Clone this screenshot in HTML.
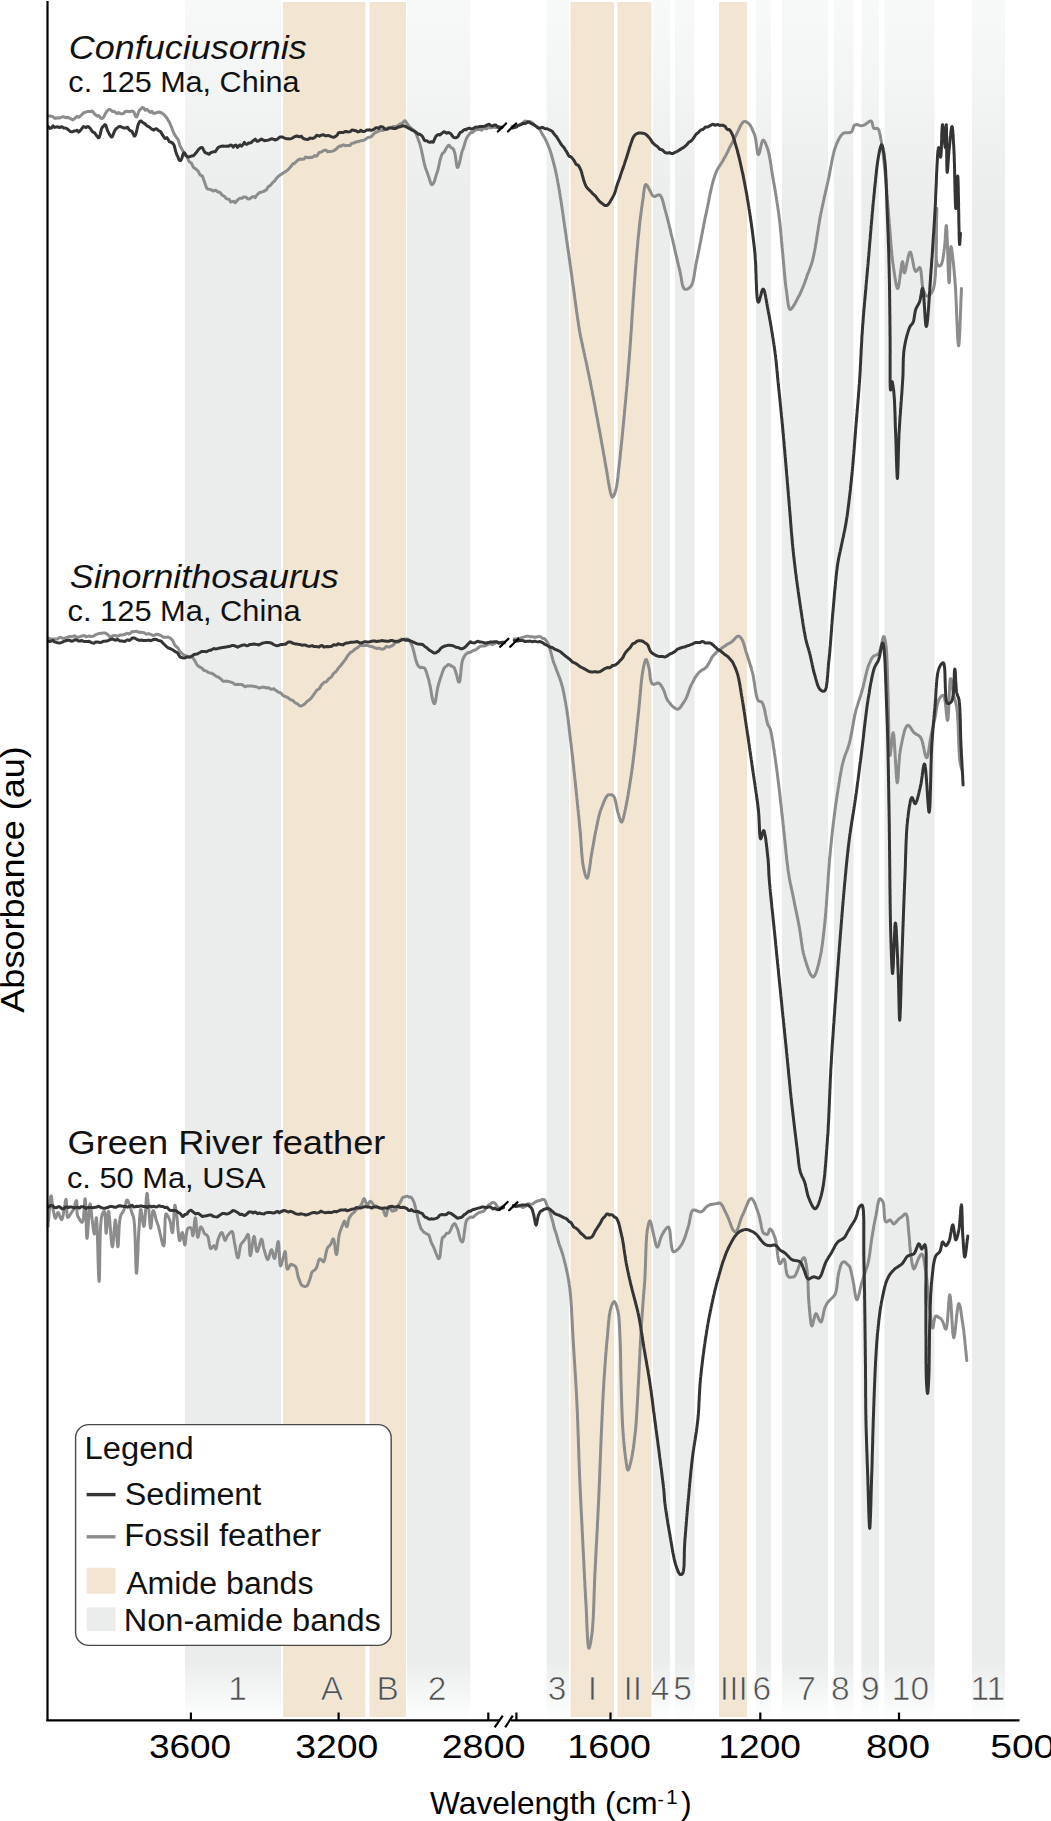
<!DOCTYPE html>
<html><head><meta charset="utf-8"><title>FTIR spectra</title>
<style>
html,body{margin:0;padding:0;background:#fff;}
body{width:1051px;height:1821px;overflow:hidden;position:relative;font-family:"Liberation Sans",sans-serif;}
svg{display:block;position:absolute;left:0;top:0;}
text{font-family:"Liberation Sans",sans-serif;}
</style></head><body>
<svg width="1051" height="1821" viewBox="0 0 1051 1821">
<defs>
<linearGradient id="gb" x1="0" y1="0" x2="0" y2="1821" gradientUnits="userSpaceOnUse">
<stop offset="0" stop-color="#f8f9f9"/>
<stop offset="0.04" stop-color="#f4f5f5"/>
<stop offset="0.115" stop-color="#eaedec"/>
<stop offset="0.912" stop-color="#eaedec"/>
<stop offset="0.94" stop-color="#fbfcfc"/>
<stop offset="0.945" stop-color="#ffffff"/>
</linearGradient>
</defs>

<g id="bands">
<rect x="185.0" y="0" width="96.0" height="1719" fill="url(#gb)"/>
<rect x="407.0" y="0" width="63.3" height="1719" fill="url(#gb)"/>
<rect x="546.5" y="0" width="22.5" height="1719" fill="url(#gb)"/>
<rect x="653.0" y="0" width="17.0" height="1719" fill="url(#gb)"/>
<rect x="675.0" y="0" width="19.5" height="1719" fill="url(#gb)"/>
<rect x="756.0" y="0" width="15.0" height="1719" fill="url(#gb)"/>
<rect x="782.0" y="0" width="46.0" height="1719" fill="url(#gb)"/>
<rect x="834.0" y="0" width="19.5" height="1719" fill="url(#gb)"/>
<rect x="861.5" y="0" width="17.5" height="1719" fill="url(#gb)"/>
<rect x="884.5" y="0" width="50.0" height="1719" fill="url(#gb)"/>
<rect x="972.0" y="0" width="33.0" height="1719" fill="url(#gb)"/>
<rect x="283.0" y="2" width="82.3" height="1715" fill="#f2e6d3"/>
<rect x="369.5" y="2" width="36.5" height="1715" fill="#f2e6d3"/>
<rect x="570.5" y="2" width="43.5" height="1715" fill="#f2e6d3"/>
<rect x="617.5" y="2" width="34.0" height="1715" fill="#f2e6d3"/>
<rect x="719.0" y="2" width="28.0" height="1715" fill="#f2e6d3"/>
</g>
<g fill="#525252" font-size="33.5" text-anchor="middle" stroke="#fff" stroke-width="0.7" stroke-opacity="0.9">
<text x="237.5" y="1700">1</text>
<text x="332.0" y="1700">A</text>
<text x="387.8" y="1700">B</text>
<text x="437.0" y="1700">2</text>
<text x="557.0" y="1700">3</text>
<text x="592.5" y="1700">I</text>
<text x="632.7" y="1700">II</text>
<text x="660.0" y="1700">4</text>
<text x="682.5" y="1700">5</text>
<text x="733.8" y="1700">III</text>
<text x="761.7" y="1700">6</text>
<text x="806.6" y="1700">7</text>
<text x="840.3" y="1700">8</text>
<text x="870.3" y="1700">9</text>
<text x="910.5" y="1700">10</text>
<text x="987.8" y="1700">11</text>
</g>
<g id="curves">
<polyline points="48.3,116.1 49.8,116.0 51.3,116.2 52.8,116.6 54.2,118.0 55.8,118.4 57.3,117.7 59.0,118.0 60.4,117.7 61.9,117.2 63.4,116.7 65.0,117.3 66.6,117.8 68.2,117.3 69.8,118.4 71.4,119.2 72.9,119.9 74.3,118.8 75.7,117.8 77.2,116.2 78.7,117.2 80.0,116.3 81.4,115.0 82.7,113.8 83.9,112.7 85.2,112.3 86.4,111.9 87.9,111.4 89.3,111.5 90.7,111.6 92.1,111.0 93.5,112.4 94.7,114.1 95.9,115.1 97.1,116.1 98.3,115.4 99.5,116.2 100.7,118.2 101.8,118.6 102.9,118.0 103.9,116.7 104.8,114.7 105.8,112.9 106.8,111.4 107.8,110.3 109.0,109.5 110.2,109.5 111.5,110.8 112.8,111.6 114.1,111.3 115.5,112.6 117.0,113.6 118.5,112.6 120.0,113.5 121.7,113.9 123.4,113.5 125.2,111.6 127.0,111.3 128.7,111.5 130.3,111.7 131.7,111.1 132.8,111.2 133.9,111.9 134.6,113.6 135.1,115.2 135.7,116.5 136.3,116.9 136.9,116.5 137.5,115.4 138.0,113.8 138.6,111.9 139.3,110.4 140.1,109.5 141.1,108.9 142.3,107.4 143.7,107.9 145.3,110.3 146.9,109.4 148.6,111.0 150.2,112.4 151.8,111.3 153.4,113.2 155.0,113.3 156.6,112.7 158.2,112.1 159.8,112.2 161.2,112.6 162.5,113.5 163.6,114.2 164.5,115.1 165.3,116.2 166.1,117.1 166.9,118.0 167.6,119.4 168.4,120.6 169.1,121.7 169.9,123.2 170.6,125.1 171.3,126.8 172.0,128.4 172.7,130.4 173.5,132.3 174.2,133.8 174.9,135.0 175.6,136.1 176.3,137.4 177.0,138.3 177.7,139.1 178.4,140.3 179.0,142.4 179.7,144.7 180.4,146.5 181.2,147.9 181.9,149.2 182.7,150.6 183.5,152.2 184.3,153.8 185.1,155.2 186.0,155.8 186.8,156.4 187.7,158.2 188.6,160.4 189.5,162.0 190.4,162.5 191.3,163.0 192.2,164.7 193.2,167.0 194.3,168.1 195.4,168.6 196.5,169.6 197.6,170.6 198.7,172.1 199.7,174.4 200.8,175.5 201.7,175.6 202.5,176.4 203.3,178.3 203.9,180.4 204.6,182.2 205.2,184.0 205.9,186.0 206.5,187.7 207.3,188.8 208.0,189.1 208.9,189.2 210.2,189.7 211.6,189.8 213.1,191.1 214.6,190.5 216.0,190.3 217.2,191.5 218.4,192.2 219.5,192.1 220.7,193.1 221.9,194.9 223.2,195.7 224.5,196.4 226.0,198.4 227.5,199.1 229.1,199.2 230.7,202.1 232.2,201.6 233.7,201.2 235.0,202.7 236.3,201.8 237.5,199.9 238.7,199.1 239.8,198.3 241.0,198.2 242.2,198.3 243.6,196.9 244.9,196.9 246.3,197.5 247.8,198.8 249.3,199.0 250.7,198.1 252.1,197.0 253.6,196.5 255.1,197.7 256.7,195.2 258.2,193.7 259.7,192.5 261.2,192.2 262.5,191.7 263.7,191.4 265.0,190.6 266.3,189.9 267.6,187.7 268.8,186.3 270.0,185.7 271.1,184.7 272.2,183.2 273.1,182.1 274.1,181.5 274.8,180.7 275.5,179.6 276.1,178.8 276.9,177.9 277.9,176.8 279.0,175.7 280.2,174.9 281.6,174.2 283.1,173.0 284.6,172.1 286.0,171.4 287.4,170.2 288.7,169.1 289.8,167.8 290.9,166.6 291.8,165.3 292.6,164.1 293.4,163.5 294.5,163.4 295.6,162.3 296.9,161.0 298.3,159.9 299.7,159.1 301.1,159.2 302.6,159.3 304.0,159.1 305.6,157.0 307.2,157.6 308.8,157.8 310.4,157.3 312.0,157.4 313.5,156.6 314.9,155.5 316.2,156.3 317.6,155.1 318.9,152.7 320.2,152.3 321.6,151.8 323.0,150.9 324.6,150.2 326.2,150.3 327.8,151.9 329.4,151.4 331.1,151.4 332.6,151.1 333.8,150.6 335.0,149.9 336.2,149.1 337.3,148.0 338.4,146.8 339.6,146.1 340.8,146.2 342.0,145.4 343.5,144.8 345.1,145.7 346.8,145.6 348.4,145.6 350.0,145.5 351.6,143.5 353.0,143.1 354.3,143.0 355.7,142.1 357.0,141.6 358.4,141.7 359.7,141.2 361.1,140.7 362.5,140.6 363.8,140.2 365.2,139.5 366.6,138.3 367.9,137.5 369.3,137.3 370.6,136.8 372.0,136.2 373.3,134.3 374.7,133.1 376.0,132.2 377.3,131.8 378.7,131.4 380.1,130.1 381.7,130.2 383.3,130.4 384.9,129.0 386.5,128.3 388.1,128.0 389.7,127.7 391.1,127.3 392.5,126.9 393.9,126.4 395.3,126.5 396.7,126.1 398.0,125.5 399.2,124.7 400.5,123.7 401.7,123.3 402.9,122.6 404.0,121.2 405.1,120.7 406.1,122.2 407.1,123.7 408.1,124.9 409.1,126.2 410.1,127.3 411.0,128.0 412.0,129.0 413.0,129.5 414.0,130.5 414.9,131.9 415.8,133.3 416.4,134.5 416.9,135.8 417.4,137.1 417.9,138.5 418.4,139.9 418.8,141.1 419.2,142.2 419.7,143.4 420.1,144.8 420.6,146.5 421.0,148.1 421.4,149.9 421.8,151.7 422.1,153.4 422.5,155.1 422.9,156.9 423.2,158.6 423.6,160.4 424.0,162.1 424.4,163.9 424.8,165.5 425.2,166.9 425.6,168.2 426.0,169.4 426.5,170.6 427.1,172.3 427.8,174.2 428.4,176.0 429.1,177.9 429.8,180.2 430.5,182.6 431.2,184.2 431.9,184.7 432.5,184.5 433.1,183.8 433.6,182.9 434.2,181.8 434.7,180.4 435.2,178.7 435.7,176.9 436.2,175.1 436.7,173.6 437.2,172.3 437.6,171.0 438.0,169.5 438.4,167.8 438.8,166.0 439.2,164.1 439.5,162.3 439.9,160.6 440.4,159.0 440.9,157.4 441.4,155.7 442.0,154.2 442.9,153.0 443.8,152.5 444.9,151.0 446.0,148.6 447.1,147.0 448.1,145.7 449.1,145.2 450.1,146.5 451.2,147.8 452.2,148.1 453.1,148.7 453.9,150.2 454.4,151.7 454.9,153.5 455.3,155.5 455.6,157.6 455.9,159.8 456.2,162.0 456.5,164.0 456.8,165.7 457.1,167.0 457.5,167.5 457.9,167.2 458.4,166.4 458.8,165.1 459.3,163.5 459.7,161.8 460.2,159.8 460.7,157.4 461.2,155.0 461.7,152.7 462.2,151.1 462.7,149.8 463.2,148.6 463.6,147.2 464.1,145.7 464.6,144.0 465.1,142.4 465.6,140.7 466.2,139.2 466.8,137.8 467.5,136.6 468.2,135.6 469.2,134.4 470.3,133.0 471.5,132.3 472.7,132.4 474.0,131.2 475.3,129.9 476.8,129.7 478.3,129.4 479.9,129.3 481.6,130.2 483.2,128.4 484.8,127.9 486.4,128.9 488.1,127.3 489.7,127.7 491.4,127.7 492.9,127.3 494.3,127.3 496.0,127.5 497.6,127.7 499.0,126.8 500.5,127.0 502.0,127.0" fill="none" stroke="#8c8c8c" stroke-width="3.0" stroke-linejoin="round" stroke-linecap="round"/>
<polyline points="512.0,126.4 513.2,126.3 514.4,126.4 515.5,126.3 516.7,126.0 518.0,125.7 519.1,125.3 520.3,124.7 521.8,123.5 523.3,122.5 524.8,121.1 526.3,121.3 527.6,121.8 529.1,121.4 530.6,121.7 532.1,122.7 533.5,123.9 534.8,125.3 535.9,126.0 536.9,126.8 537.9,127.6 538.8,128.5 539.7,129.6 540.7,131.0 541.4,132.5 542.1,133.9 542.9,135.2 543.6,136.2 544.3,137.3 545.0,138.5 545.7,139.9 546.4,141.4 547.1,142.8 547.7,144.4 548.4,145.9 549.0,147.5 549.5,148.8 550.0,150.2 550.5,151.6 550.9,153.0 551.4,154.5 551.8,156.0 552.2,157.5 552.6,159.0 553.0,160.5 553.4,162.0 553.8,163.5 554.2,165.0 554.6,166.7 555.0,168.3 555.4,170.1 555.8,171.9 556.2,173.8 556.5,175.1 556.8,176.5 557.0,177.8 557.3,179.3 557.6,180.7 557.8,182.2 558.1,183.6 558.4,185.1 558.7,186.6 558.9,188.2 559.2,189.7 559.5,191.3 559.7,192.9 560.0,194.6 560.2,196.2 560.5,197.9 560.8,199.6 561.0,201.3 561.3,202.9 561.5,204.6 561.8,206.4 562.1,208.1 562.3,209.8 562.6,211.5 562.8,213.2 563.1,215.0 563.3,216.7 563.5,218.4 563.8,220.1 564.0,221.9 564.3,223.6 564.5,225.2 564.8,226.9 565.0,228.5 565.2,230.1 565.5,231.7 565.7,233.3 566.0,235.0 566.2,236.6 566.4,238.3 566.7,240.0 566.9,241.7 567.2,243.3 567.4,245.0 567.6,246.6 567.9,248.2 568.1,249.8 568.3,251.4 568.6,252.9 568.8,254.5 569.0,256.0 569.2,257.6 569.4,259.1 569.7,260.7 569.9,262.3 570.1,263.9 570.3,265.5 570.6,267.1 570.8,268.7 571.0,270.3 571.2,272.0 571.4,273.6 571.7,275.3 571.9,276.9 572.1,278.5 572.3,280.2 572.6,281.8 572.8,283.4 573.0,285.0 573.3,286.6 573.5,288.3 573.7,289.9 573.9,291.6 574.2,293.2 574.4,294.9 574.6,296.6 574.8,298.3 575.1,299.9 575.3,301.6 575.5,303.2 575.7,304.9 576.0,306.5 576.2,308.2 576.4,309.8 576.6,311.5 576.9,313.1 577.1,314.7 577.3,316.3 577.6,318.0 577.8,319.6 578.0,321.1 578.3,322.7 578.5,324.3 578.7,325.8 579.0,327.4 579.2,328.9 579.5,330.4 579.7,331.8 580.0,333.3 580.3,335.0 580.6,336.6 581.0,338.2 581.3,339.8 581.6,341.3 582.0,342.8 582.3,344.4 582.6,345.9 583.0,347.5 583.3,349.1 583.7,350.7 584.0,352.3 584.4,353.9 584.7,355.5 585.0,357.0 585.4,358.6 585.7,360.1 586.1,361.7 586.4,363.3 586.8,365.0 587.1,366.6 587.4,368.2 587.7,369.8 588.1,371.3 588.4,372.8 588.7,374.3 589.0,375.7 589.3,377.2 589.6,378.8 590.0,380.3 590.3,381.9 590.6,383.5 590.9,385.2 591.2,386.8 591.5,388.5 591.9,390.1 592.2,391.8 592.5,393.5 592.8,395.1 593.2,396.8 593.5,398.6 593.8,400.3 594.2,402.1 594.5,403.9 594.8,405.3 595.1,406.8 595.3,408.3 595.6,409.9 595.9,411.5 596.2,413.1 596.5,414.8 596.8,416.4 597.2,418.1 597.5,419.8 597.8,421.4 598.1,423.1 598.4,424.8 598.7,426.5 599.0,428.2 599.4,429.9 599.7,431.6 600.0,433.3 600.3,435.0 600.6,436.7 600.9,438.4 601.2,440.1 601.5,441.8 601.8,443.4 602.1,445.1 602.4,446.7 602.7,448.3 603.0,449.8 603.3,451.4 603.5,453.0 603.8,454.5 604.1,456.0 604.3,457.4 604.6,458.8 604.8,460.2 605.1,462.0 605.4,463.8 605.7,465.5 606.0,467.2 606.3,468.9 606.6,470.6 606.9,472.3 607.2,473.9 607.4,475.5 607.7,477.1 607.9,478.7 608.2,480.2 608.4,481.6 608.6,483.0 608.9,484.3 609.1,485.5 609.3,486.7 609.5,487.7 609.8,489.4 610.1,490.8 610.4,492.1 610.7,493.2 611.0,494.2 611.6,496.1 612.3,497.2 613.1,496.6 614.0,495.3 614.5,494.2 615.0,492.9 615.4,491.4 615.9,489.7 616.3,487.8 616.5,486.6 616.8,485.3 617.0,484.0 617.2,482.6 617.4,481.1 617.6,479.6 617.8,478.0 618.0,476.4 618.1,474.7 618.3,473.0 618.5,471.3 618.7,469.5 618.9,467.7 619.1,465.9 619.3,464.0 619.5,462.2 619.7,460.3 619.9,458.9 620.0,457.5 620.2,456.0 620.3,454.6 620.5,453.1 620.6,451.5 620.8,450.0 621.0,448.4 621.1,446.8 621.3,445.2 621.5,443.5 621.6,441.9 621.8,440.2 622.0,438.5 622.2,436.8 622.3,435.1 622.5,433.4 622.7,431.7 622.8,429.9 623.0,428.2 623.2,426.4 623.4,424.6 623.5,422.8 623.7,421.1 623.9,419.3 624.0,417.5 624.2,415.7 624.4,414.0 624.5,412.2 624.7,410.5 624.8,408.8 625.0,407.1 625.1,405.4 625.3,403.8 625.5,402.1 625.6,400.5 625.8,398.9 625.9,397.2 626.0,395.6 626.2,394.0 626.3,392.4 626.5,390.7 626.6,389.1 626.8,387.5 626.9,385.9 627.1,384.2 627.2,382.6 627.3,380.9 627.5,379.3 627.6,377.7 627.8,376.0 627.9,374.4 628.0,372.7 628.2,371.0 628.3,369.4 628.4,367.7 628.6,366.1 628.7,364.4 628.8,362.8 629.0,361.1 629.1,359.5 629.2,357.8 629.4,356.1 629.5,354.5 629.6,352.8 629.7,351.2 629.9,349.5 630.0,347.9 630.1,346.2 630.2,344.6 630.4,342.9 630.5,341.3 630.6,339.7 630.7,338.0 630.8,336.4 630.9,334.7 631.0,333.1 631.2,331.4 631.3,329.8 631.4,328.1 631.5,326.5 631.6,324.8 631.7,323.2 631.8,321.5 631.9,319.9 632.0,318.2 632.1,316.6 632.2,314.9 632.3,313.3 632.4,311.7 632.5,310.0 632.7,308.4 632.8,306.7 632.9,305.1 633.0,303.4 633.1,301.8 633.2,300.1 633.3,298.5 633.4,296.8 633.6,295.2 633.7,293.5 633.8,291.9 633.9,290.2 634.0,288.6 634.2,286.9 634.3,285.2 634.4,283.6 634.5,281.9 634.7,280.2 634.8,278.5 634.9,276.8 635.1,275.1 635.2,273.4 635.3,271.7 635.4,270.0 635.6,268.3 635.7,266.6 635.8,264.9 636.0,263.2 636.1,261.6 636.2,259.9 636.4,258.2 636.5,256.6 636.7,254.9 636.8,253.3 636.9,251.7 637.1,250.1 637.2,248.5 637.4,246.9 637.5,245.3 637.7,243.7 637.8,242.1 637.9,240.6 638.1,239.1 638.2,237.6 638.4,236.1 638.6,234.3 638.8,232.5 639.0,230.7 639.2,229.0 639.3,227.2 639.5,225.4 639.7,223.7 639.9,221.9 640.1,220.2 640.3,218.5 640.5,216.8 640.8,215.1 641.0,213.5 641.2,211.8 641.4,210.3 641.6,208.7 641.8,207.2 642.0,205.7 642.2,204.2 642.4,202.8 642.6,201.5 642.8,200.2 643.0,198.9 643.3,196.9 643.5,194.7 643.8,192.6 644.0,190.6 644.3,188.7 644.6,187.1 644.9,185.8 645.4,184.9 645.9,184.5 646.5,184.8 647.3,185.8 648.1,187.2 649.0,188.8 649.9,190.6 650.8,192.5 651.8,194.3 652.7,195.6 653.7,196.4 655.2,196.4 656.7,195.6 658.2,194.9 659.6,194.9 660.3,195.5 661.0,196.4 661.6,197.6 662.2,199.0 662.7,200.6 663.2,202.4 663.7,204.2 664.1,206.2 664.6,208.1 665.1,209.9 665.6,211.7 666.0,213.2 666.4,214.6 666.8,216.1 667.2,217.6 667.6,219.2 668.0,220.7 668.4,222.3 668.8,224.0 669.2,225.6 669.6,227.3 670.0,228.9 670.4,230.6 670.8,232.2 671.1,233.8 671.5,235.4 671.9,237.0 672.3,238.6 672.7,240.2 673.1,241.8 673.4,243.4 673.8,245.0 674.2,246.7 674.5,248.3 674.9,250.0 675.3,251.6 675.6,253.2 676.0,254.8 676.4,256.4 676.7,258.0 677.1,259.5 677.5,261.1 677.8,262.7 678.2,264.2 678.5,265.7 678.9,267.1 679.2,268.5 679.6,269.9 679.9,271.3 680.3,273.0 680.6,274.8 681.0,276.7 681.3,278.6 681.6,280.4 681.9,282.2 682.2,283.8 682.6,285.3 683.0,286.6 683.4,287.7 684.0,288.6 684.6,289.1 686.0,289.4 687.6,289.0 689.2,288.0 690.6,286.7 691.2,285.9 691.7,285.0 692.2,283.9 692.6,282.6 693.0,281.2 693.4,279.7 693.7,278.1 694.0,276.4 694.3,274.6 694.6,272.8 694.9,271.0 695.2,269.1 695.5,267.2 695.8,265.3 696.1,263.5 696.5,261.6 696.8,260.2 697.1,258.8 697.4,257.4 697.7,255.9 698.0,254.5 698.3,253.0 698.6,251.5 698.9,250.0 699.2,248.4 699.5,246.9 699.8,245.3 700.1,243.6 700.5,242.0 700.8,240.4 701.1,238.7 701.4,237.1 701.7,235.4 702.1,233.8 702.4,232.1 702.7,230.4 703.0,228.7 703.4,227.0 703.7,225.3 704.0,223.6 704.4,221.9 704.7,220.2 705.0,218.6 705.3,217.0 705.7,215.5 706.0,214.0 706.4,212.4 706.7,210.7 707.1,209.0 707.4,207.3 707.8,205.5 708.1,203.8 708.5,202.0 708.8,200.3 709.1,198.5 709.5,196.8 709.8,195.1 710.2,193.4 710.6,191.7 710.9,190.1 711.3,188.5 711.7,186.9 712.0,185.3 712.4,183.8 712.8,182.3 713.2,180.8 713.7,179.3 714.1,177.9 714.6,176.5 715.0,175.2 715.5,173.9 716.2,172.1 716.9,170.4 717.7,168.9 718.5,167.6 719.3,166.4 720.1,165.1 720.9,163.8 721.8,162.5 722.6,161.2 723.4,159.8 724.2,158.3 725.0,156.9 725.8,155.5 726.5,154.1 727.2,152.7 728.0,151.2 728.7,149.6 729.4,148.0 730.2,146.5 730.9,145.2 731.6,143.9 732.4,142.5 733.1,141.0 733.8,139.6 734.6,138.1 735.4,136.6 736.2,135.0 737.0,133.3 737.8,131.6 738.6,129.8 739.4,128.1 740.2,126.5 741.0,125.0 741.8,123.7 742.6,122.6 743.3,121.9 744.1,121.5 745.3,121.5 746.5,121.9 747.7,122.8 748.8,123.7 749.7,124.6 750.5,125.8 751.3,127.3 752.1,128.9 752.8,130.6 753.5,132.2 754.2,133.8 754.8,135.4 755.2,136.9 755.6,138.7 755.9,140.7 756.2,142.8 756.5,144.9 756.7,147.0 757.0,149.0 757.2,150.7 757.5,152.2 757.7,153.4 758.0,154.2 758.4,154.6 758.8,154.3 759.2,153.3 759.7,151.8 760.1,149.9 760.6,147.7 761.1,145.5 761.6,143.4 762.1,141.7 762.6,140.6 763.1,140.1 763.8,140.4 764.5,141.3 765.2,142.6 765.9,144.2 766.6,146.0 767.3,147.9 767.9,149.8 768.3,151.1 768.7,152.6 769.0,154.1 769.3,155.6 769.6,157.2 769.9,158.8 770.2,160.4 770.4,162.1 770.7,163.8 771.0,165.4 771.2,167.2 771.5,168.9 771.7,170.6 772.0,172.4 772.3,174.1 772.6,175.9 772.8,177.4 773.1,178.8 773.4,180.3 773.6,181.8 773.9,183.3 774.2,184.9 774.4,186.4 774.7,188.0 775.0,189.6 775.3,191.2 775.5,192.8 775.8,194.5 776.1,196.2 776.4,197.9 776.6,199.7 776.9,201.4 777.1,203.0 777.4,204.7 777.7,206.3 777.9,207.9 778.1,209.5 778.4,211.1 778.6,212.6 778.8,214.2 779.0,215.8 779.2,217.4 779.4,219.0 779.6,220.6 779.8,222.2 780.0,223.9 780.1,225.5 780.3,227.2 780.5,228.9 780.6,230.6 780.8,232.2 780.9,233.9 781.1,235.6 781.2,237.3 781.4,239.0 781.5,240.7 781.7,242.4 781.8,244.1 782.0,245.7 782.1,247.4 782.3,249.1 782.4,250.8 782.6,252.4 782.8,254.1 782.9,255.8 783.1,257.5 783.2,259.2 783.4,260.9 783.5,262.6 783.7,264.4 783.9,266.1 784.0,267.9 784.2,269.6 784.3,271.3 784.5,273.1 784.6,274.8 784.8,276.5 784.9,278.1 785.1,279.8 785.3,281.4 785.5,283.0 785.6,284.6 785.8,286.1 786.0,287.6 786.2,289.1 786.4,290.5 786.7,292.4 786.9,294.5 787.2,296.5 787.4,298.6 787.7,300.7 787.9,302.6 788.2,304.4 788.5,306.0 788.9,307.4 789.3,308.5 789.7,309.2 790.2,309.6 791.0,309.2 791.9,308.2 792.9,306.8 794.0,305.2 795.0,303.5 795.9,301.7 796.7,300.3 797.4,298.8 798.1,297.5 798.8,296.3 799.5,295.0 800.2,293.5 800.9,291.9 801.6,290.4 802.2,288.9 802.8,287.4 803.4,286.0 804.0,284.5 804.6,283.0 805.1,281.5 805.7,279.9 806.3,278.2 806.8,276.5 807.4,274.9 807.9,273.4 808.5,272.1 809.0,270.8 809.5,269.4 810.1,268.0 810.6,266.6 811.1,265.1 811.6,263.5 812.1,261.9 812.6,260.1 813.1,258.2 813.4,256.8 813.7,255.4 814.0,253.9 814.3,252.4 814.6,250.9 814.9,249.3 815.2,247.7 815.4,246.1 815.7,244.5 816.0,242.9 816.3,241.2 816.5,239.5 816.8,237.8 817.1,236.1 817.3,234.3 817.6,232.6 817.9,230.8 818.2,229.1 818.4,227.4 818.7,225.6 819.0,223.9 819.3,222.3 819.5,220.6 819.8,219.0 820.1,217.4 820.4,215.8 820.7,214.3 821.0,212.6 821.4,211.0 821.7,209.5 822.0,207.9 822.4,206.3 822.7,204.7 823.1,203.1 823.4,201.5 823.8,199.9 824.1,198.3 824.4,196.7 824.8,195.1 825.2,193.6 825.5,192.0 825.9,190.5 826.2,189.0 826.6,187.4 826.9,185.9 827.3,184.3 827.6,182.8 828.0,181.3 828.3,179.7 828.6,178.2 829.0,176.6 829.3,174.9 829.6,173.3 829.9,171.6 830.2,169.9 830.5,168.3 830.8,166.6 831.2,165.0 831.5,163.3 831.8,161.7 832.1,160.1 832.4,158.5 832.8,156.9 833.1,155.3 833.5,153.8 833.8,152.4 834.2,150.9 834.6,149.6 835.0,148.3 835.4,147.0 835.9,145.8 836.6,143.9 837.4,142.1 838.2,140.5 838.9,138.9 839.8,137.4 840.6,136.1 841.5,135.0 842.5,134.0 843.5,133.2 845.0,132.7 846.6,132.7 848.3,132.8 849.8,132.6 851.1,132.3 851.9,131.4 852.5,130.0 853.0,128.5 853.5,127.0 854.1,125.7 854.9,125.0 856.2,124.6 857.7,124.7 859.3,125.4 860.9,125.7 862.5,125.5 864.0,125.1 865.6,124.2 867.2,123.0 868.7,121.8 870.0,121.1 871.1,121.0 871.9,121.9 872.4,123.6 872.8,125.6 873.3,127.4 874.0,128.5 875.2,128.6 876.6,128.3 877.8,128.6 878.4,129.3 878.9,130.3 879.4,131.6 879.7,133.1 880.1,134.7 880.4,136.5 880.7,138.3 881.0,140.1 881.3,141.9 881.6,143.7 881.8,145.0 882.1,146.3 882.3,147.7 882.5,149.2 882.7,150.7 882.9,152.2 883.1,153.8 883.3,155.4 883.5,157.0 883.7,158.6 883.8,160.3 884.0,162.0 884.2,163.7 884.4,165.4 884.5,167.1 884.7,168.8 884.9,170.6 885.1,172.3 885.2,174.1 885.4,175.9 885.5,177.4 885.7,179.0 885.8,180.5 886.0,182.1 886.1,183.7 886.3,185.4 886.4,187.0 886.5,188.7 886.7,190.3 886.8,192.0 886.9,193.7 887.1,195.4 887.2,197.0 887.3,198.7 887.5,200.4 887.6,202.1 887.7,203.8 887.9,205.5 888.0,207.1 888.1,208.8 888.3,210.5 888.4,212.2 888.5,213.8 888.7,215.5 888.8,217.1 888.9,218.8 889.1,220.4 889.2,222.0 889.3,223.7 889.5,225.4 889.6,227.0 889.8,228.7 889.9,230.4 890.0,232.1 890.1,233.8 890.3,235.4 890.4,237.1 890.5,238.8 890.7,240.4 890.8,242.1 890.9,243.7 891.1,245.4 891.2,247.0 891.3,248.6 891.5,250.2 891.6,251.8 891.8,253.3 891.9,254.9 892.1,256.4 892.3,257.9 892.4,259.4 892.6,260.9 892.8,262.3 893.0,263.7 893.3,265.5 893.5,267.4 893.8,269.4 894.1,271.5 894.4,273.5 894.7,275.6 895.0,277.6 895.3,279.5 895.6,281.4 895.9,283.1 896.2,284.6 896.5,285.9 896.8,287.0 897.1,287.8 897.4,288.4 897.7,288.5 898.0,288.2 898.3,287.4 898.6,286.2 898.9,284.6 899.2,282.7 899.5,280.6 899.8,278.4 900.1,276.1 900.4,273.7 900.7,271.4 901.0,269.2 901.3,267.2 901.5,265.4 901.8,263.8 902.0,262.7 902.3,261.9 902.5,261.7 902.8,262.3 903.1,263.9 903.3,266.1 903.5,268.5 903.7,270.8 904.0,272.4 904.4,273.0 904.7,272.7 905.0,271.9 905.4,270.6 905.8,268.9 906.2,267.0 906.6,264.9 907.0,262.8 907.5,260.5 907.9,258.4 908.3,256.4 908.8,254.7 909.2,253.3 909.7,252.4 910.1,252.1 910.6,252.4 911.0,253.4 911.5,255.0 911.9,256.9 912.4,259.0 912.8,261.4 913.3,263.8 913.7,266.1 914.2,268.1 914.7,269.8 915.2,270.9 915.8,271.5 916.7,271.0 917.7,269.6 918.7,268.1 919.6,267.4 920.0,267.8 920.4,268.6 920.7,269.9 921.0,271.4 921.2,273.2 921.4,275.2 921.6,277.4 921.8,279.5 922.0,281.7 922.2,283.9 922.4,285.8 922.7,287.6 923.0,289.2 923.4,290.4 924.1,291.9 924.8,293.4 925.5,294.7 926.3,295.7 927.2,296.2 928.3,296.0 929.5,295.1 930.7,293.9 931.9,292.1 932.9,290.2 933.2,289.4 933.5,288.5 933.7,287.5 934.0,286.4 934.2,285.1 934.4,283.8 934.6,282.3 934.8,280.8 934.9,279.1 935.1,277.4 935.3,275.5 935.4,273.6 935.5,271.7 935.6,269.6 935.7,267.5 935.8,265.4 935.9,263.2 936.0,261.0 936.1,258.7 936.1,256.5 936.2,254.2 936.2,251.9 936.3,249.6 936.3,247.3 936.3,245.0 936.4,242.7 936.4,240.4 936.4,238.2 936.4,236.0 936.4,233.8 936.4,231.7 936.4,229.7 936.5,227.6 936.5,225.7 936.5,223.8 936.5,222.0 936.5,220.3 936.5,218.7 936.5,217.1 936.5,215.7 936.5,214.4 936.5,213.1 936.5,212.0 936.5,211.1 936.5,210.2 936.6,209.5 936.6,209.0 936.6,208.6 936.7,208.3 936.7,208.2 936.7,208.4 936.8,208.7 936.8,209.4 936.8,210.2 936.8,211.2 936.8,212.4 936.7,213.8 936.7,215.4 936.6,217.1 936.6,219.0 936.5,220.9 936.4,223.0 936.4,225.1 936.3,227.4 936.3,229.6 936.2,232.0 936.1,234.3 936.1,236.7 936.1,239.1 936.0,241.4 936.0,243.8 936.0,246.1 936.0,248.3 936.0,250.5 936.1,252.5 936.1,254.5 936.2,256.4 936.3,258.1 936.4,259.7 936.6,261.1 936.7,262.3 936.9,263.4 937.2,264.2 937.4,264.9 937.7,265.3 939.1,266.1 940.6,265.6 941.1,264.9 941.6,263.9 942.0,262.7 942.4,261.2 942.8,259.5 943.1,257.7 943.4,255.8 943.6,253.8 943.9,251.9 944.1,250.0 944.4,248.2 944.6,246.6 944.8,244.7 945.0,242.7 945.1,240.6 945.3,238.4 945.4,236.3 945.5,234.2 945.6,232.2 945.7,230.3 945.8,228.7 945.9,227.4 946.1,226.3 946.2,225.7 946.3,225.5 946.4,225.6 946.5,226.0 946.6,226.7 946.6,227.6 946.7,228.7 946.8,230.0 946.9,231.4 947.0,233.1 947.0,234.9 947.1,236.8 947.2,238.9 947.3,241.1 947.4,243.3 947.5,245.6 947.5,248.0 947.6,250.4 947.7,252.8 947.8,255.3 947.9,257.7 947.9,260.1 948.0,262.5 948.1,264.8 948.2,267.1 948.3,269.2 948.3,271.3 948.4,273.2 948.5,275.0 948.6,276.7 948.7,278.1 948.7,279.4 948.8,280.5 948.9,281.4 949.0,282.1 949.0,282.5 949.1,282.6 949.2,282.4 949.3,281.8 949.4,280.8 949.4,279.4 949.5,277.8 949.6,276.0 949.7,273.9 949.7,271.7 949.8,269.4 949.9,267.0 949.9,264.5 950.0,262.0 950.1,259.6 950.2,257.3 950.2,255.1 950.3,253.0 950.4,251.2 950.5,249.6 950.6,248.3 950.7,247.3 950.9,246.7 951.0,246.5 951.1,246.7 951.3,247.1 951.5,247.8 951.7,248.7 951.8,249.9 952.0,251.2 952.2,252.7 952.4,254.4 952.6,256.2 952.8,258.1 953.0,260.0 953.3,262.1 953.5,264.1 953.7,266.3 953.9,268.4 954.1,270.5 954.3,272.7 954.4,274.7 954.6,276.7 954.8,278.7 954.9,280.1 955.0,281.6 955.1,283.1 955.3,284.8 955.4,286.6 955.5,288.4 955.6,290.3 955.7,292.3 955.8,294.3 955.9,296.4 956.0,298.5 956.1,300.7 956.2,302.8 956.3,305.0 956.4,307.2 956.5,309.4 956.5,311.7 956.6,313.8 956.7,316.0 956.8,318.2 956.9,320.3 957.0,322.4 957.1,324.4 957.2,326.4 957.3,328.3 957.3,330.2 957.4,332.0 957.5,333.7 957.6,335.3 957.7,336.9 957.8,338.3 957.8,339.6 957.9,340.8 958.0,341.9 958.1,342.9 958.2,343.7 958.3,344.4 958.3,345.0 958.4,345.4 958.5,345.6 958.6,345.7 958.7,345.6 958.8,345.3 958.9,344.8 959.0,344.2 959.0,343.4 959.1,342.5 959.2,341.4 959.3,340.3 959.4,339.0 959.5,337.5 959.6,336.0 959.6,334.4 959.7,332.7 959.8,330.9 959.9,329.0 960.0,327.1 960.0,325.1 960.1,323.0 960.2,321.0 960.3,318.9 960.4,316.7 960.4,314.6 960.5,312.4 960.6,310.2 960.7,308.0 960.8,305.9 960.8,303.8 960.9,301.7 961.0,299.6 961.1,297.6 961.2,295.6 961.3,293.7 961.3,291.9 961.4,290.1 961.5,288.4" fill="none" stroke="#8c8c8c" stroke-width="3.0" stroke-linejoin="round" stroke-linecap="round"/>
<polyline points="48.3,638.2 49.9,638.7 51.4,638.9 53.0,638.9 54.5,639.1 56.1,639.1 57.6,639.1 59.2,637.6 60.7,637.3 62.3,638.2 63.8,638.2 65.4,638.0 67.0,637.5 68.6,636.8 70.2,636.4 71.8,636.8 73.4,636.1 74.9,635.8 76.5,637.3 78.1,637.1 79.7,636.9 81.3,636.2 82.9,635.8 84.5,635.6 86.1,636.8 87.7,636.4 89.3,636.0 90.8,636.5 92.3,636.4 93.9,636.0 95.5,634.8 97.1,634.2 98.6,633.6 100.1,633.5 101.6,633.2 103.0,632.9 104.5,632.9 105.8,633.3 107.2,634.3 108.5,635.3 109.9,636.9 111.4,636.8 112.8,635.7 114.2,635.6 115.7,635.5 117.2,636.4 118.7,635.7 120.3,634.9 121.8,635.0 123.3,634.7 124.8,634.3 126.3,633.7 127.7,633.3 129.2,634.1 130.7,633.0 132.1,631.6 133.6,631.7 135.1,631.6 136.6,631.2 138.0,631.9 139.5,632.5 141.0,632.1 142.5,632.4 143.9,632.8 145.5,633.8 147.0,634.2 148.5,633.6 150.1,634.2 151.8,634.8 153.4,635.7 155.1,634.7 156.7,634.3 158.3,634.5 159.8,635.1 161.3,635.7 163.1,637.2 164.8,637.3 166.5,637.2 168.0,637.0 169.5,637.8 170.8,638.6 171.8,639.4 172.6,640.5 173.3,641.8 174.0,643.3 174.7,644.8 175.6,646.1 176.5,646.7 177.4,647.4 178.4,648.8 179.4,650.7 180.5,651.9 181.6,653.1 182.7,654.1 184.0,655.0 185.3,655.6 186.7,655.9 188.2,656.6 189.6,657.5 190.9,657.1 192.2,657.1 193.3,658.5 194.3,659.9 195.3,661.5 196.2,663.5 197.2,665.0 198.2,666.0 199.4,666.9 200.5,667.4 201.8,668.0 203.0,669.4 204.3,670.6 205.7,670.8 207.1,671.5 208.5,672.6 209.9,672.9 211.3,673.1 212.7,673.8 214.0,674.6 215.4,675.8 216.8,676.6 218.2,677.0 219.6,678.0 221.0,679.1 222.5,680.8 224.0,681.4 225.5,681.1 226.9,681.2 228.4,681.4 229.9,681.9 231.4,682.4 232.9,682.9 234.5,684.2 236.0,684.6 237.6,684.3 239.1,684.4 240.7,684.6 242.2,684.6 243.7,685.9 245.2,686.8 246.8,686.1 248.3,686.1 249.9,686.1 251.4,686.1 253.0,686.2 254.5,686.4 255.9,686.8 257.4,687.1 258.8,688.1 260.4,687.7 262.0,687.3 263.5,687.1 265.1,687.5 266.6,688.0 268.0,687.8 269.4,688.0 270.7,689.3 272.3,689.2 273.8,688.7 275.2,689.9 276.5,690.8 277.9,691.9 279.1,692.5 280.3,692.7 281.5,693.7 282.7,695.3 283.8,696.1 285.0,696.2 286.2,696.8 287.3,697.3 288.5,698.1 289.7,699.1 290.9,699.9 292.1,700.1 293.4,701.0 294.8,702.5 296.2,703.3 297.7,703.9 299.1,705.4 300.5,706.0 301.9,705.7 303.3,705.0 304.7,703.9 306.1,702.5 307.5,701.0 308.8,700.3 309.8,699.5 310.7,698.5 311.7,697.4 312.6,696.2 313.5,694.9 314.4,693.6 315.3,692.3 316.2,691.0 317.2,689.8 318.3,689.3 319.3,688.7 320.3,686.9 321.4,685.1 322.5,683.9 323.6,682.7 324.8,682.0 325.9,682.1 327.1,681.0 328.2,679.4 329.4,678.3 330.5,677.7 331.6,676.7 332.6,674.9 333.7,673.3 334.7,672.6 335.7,671.9 336.7,670.6 337.7,669.2 338.6,667.8 339.6,666.8 340.6,665.7 341.5,664.5 342.5,663.2 343.5,662.0 344.5,660.6 345.6,659.1 346.6,657.5 347.7,655.7 348.8,654.4 349.8,653.2 350.9,652.1 352.0,651.7 353.1,650.9 354.2,649.8 355.3,649.0 356.4,648.2 357.9,647.4 359.5,645.8 361.0,645.4 362.6,645.5 364.2,645.6 365.9,645.5 367.4,645.4 368.9,646.0 370.5,646.4 372.1,646.5 373.7,647.3 375.4,648.0 377.0,648.5 378.6,648.1 380.1,648.5 381.6,649.2 383.2,649.0 384.6,648.4 386.1,646.5 387.6,646.8 389.0,647.1 390.5,646.5 392.0,645.8 393.5,644.7 395.0,643.0 396.6,641.8 398.1,642.2 399.7,640.5 401.1,639.0 402.6,639.7 403.9,639.5 405.1,639.0 406.5,638.9 407.8,639.0 408.9,640.1 410.0,641.6 411.1,643.3 411.7,644.7 412.3,646.3 412.8,647.9 413.2,649.5 413.7,651.2 414.1,652.9 414.5,654.7 415.0,656.5 415.4,658.3 415.9,660.1 416.4,661.8 416.9,663.3 417.5,664.6 418.2,665.7 419.3,667.1 420.5,667.7 421.8,667.3 423.1,667.6 424.3,668.0 425.3,669.2 426.0,671.0 426.6,672.8 427.1,674.5 427.5,675.9 427.9,677.2 428.3,678.4 428.7,679.7 429.0,681.0 429.3,682.5 429.7,684.1 430.1,685.8 430.5,687.9 430.9,690.3 431.3,692.8 431.7,695.2 432.1,697.4 432.5,699.3 432.9,700.8 433.3,702.0 433.7,702.9 434.0,703.5 434.4,703.6 434.7,703.5 435.0,702.9 435.3,702.1 435.5,701.0 435.8,699.6 436.0,698.0 436.3,696.2 436.6,694.3 436.9,692.3 437.2,690.2 437.6,688.2 438.0,686.4 438.4,684.8 438.9,683.2 439.4,681.5 439.9,679.8 440.5,678.0 441.1,676.2 441.7,674.5 442.3,672.6 443.0,670.7 443.7,669.0 444.4,667.8 445.1,666.9 445.9,666.4 446.7,665.9 448.1,664.6 449.6,664.7 451.2,666.0 452.6,666.5 453.9,667.3 454.7,668.8 455.3,670.7 455.9,672.6 456.5,674.5 457.0,676.4 457.4,678.2 457.8,679.9 458.3,681.2 458.7,682.0 459.1,682.2 459.4,681.8 459.7,681.0 460.0,679.9 460.2,678.4 460.4,676.7 460.6,674.8 460.8,672.8 461.0,670.7 461.2,668.5 461.4,666.4 461.7,664.4 462.0,662.5 462.4,660.8 462.9,659.3 463.4,658.1 464.4,656.3 465.4,654.6 466.6,653.7 467.8,652.8 469.1,652.5 470.5,652.3 471.8,651.3 473.2,650.5 474.6,650.3 476.1,649.5 477.6,648.4 479.2,647.0 480.8,646.2 482.4,645.9 483.8,646.0 485.3,645.8 486.9,645.0 488.6,643.9 490.2,643.5 491.9,644.5 493.5,644.2 495.0,643.7 496.5,642.2 497.8,642.3 499.0,642.7 500.5,642.4 501.8,642.2 503.0,642.1 504.3,642.0" fill="none" stroke="#8c8c8c" stroke-width="3.0" stroke-linejoin="round" stroke-linecap="round"/>
<polyline points="514.3,638.9 514.9,638.9 515.5,638.9 516.6,638.8 518.0,638.5 519.3,638.4 520.8,638.0 522.5,637.3 524.3,636.9 526.0,636.4 527.6,636.1 529.1,636.4 530.6,636.7 532.1,636.7 533.5,637.0 534.8,637.3 536.4,637.0 537.9,636.7 539.5,636.4 540.7,636.9 541.9,638.0 543.2,638.6 544.4,638.6 545.6,639.9 546.7,641.3 547.4,642.3 548.0,643.5 548.6,644.8 549.1,646.2 549.6,647.7 550.1,649.3 550.6,651.0 551.0,652.7 551.5,654.5 551.9,656.2 552.4,657.9 552.8,659.6 553.3,661.2 553.8,662.7 554.3,664.1 554.9,665.5 555.5,667.0 556.0,668.6 556.6,670.2 557.2,671.7 557.8,673.2 558.3,674.6 558.9,675.9 559.4,677.3 559.9,678.7 560.4,680.2 560.9,681.7 561.3,683.1 561.7,684.5 562.1,685.9 562.5,687.4 562.9,688.9 563.2,690.4 563.5,691.9 563.9,693.5 564.2,695.1 564.5,696.7 564.8,698.4 565.1,700.0 565.4,701.6 565.7,703.3 565.9,704.7 566.2,706.1 566.4,707.5 566.7,709.0 566.9,710.5 567.1,712.0 567.3,713.6 567.5,715.2 567.8,716.8 568.0,718.5 568.2,720.1 568.4,721.8 568.6,723.5 568.8,725.2 569.0,726.9 569.2,728.7 569.4,730.4 569.6,732.1 569.8,733.8 570.0,735.5 570.2,737.2 570.4,738.9 570.6,740.5 570.8,742.1 571.0,743.6 571.2,745.2 571.3,746.8 571.5,748.4 571.7,750.0 571.9,751.6 572.1,753.2 572.3,754.9 572.5,756.5 572.7,758.2 572.8,759.8 573.0,761.5 573.2,763.2 573.4,764.8 573.6,766.5 573.8,768.2 573.9,769.9 574.1,771.6 574.3,773.3 574.5,775.0 574.7,776.7 574.8,778.4 575.0,780.1 575.2,781.8 575.4,783.4 575.5,785.0 575.7,786.6 575.9,788.3 576.1,790.0 576.2,791.6 576.4,793.3 576.6,795.0 576.7,796.7 576.9,798.4 577.1,800.1 577.3,801.7 577.4,803.4 577.6,805.1 577.8,806.8 577.9,808.4 578.1,810.1 578.3,811.8 578.4,813.4 578.6,815.1 578.8,816.7 578.9,818.3 579.1,820.0 579.2,821.6 579.4,823.2 579.5,824.8 579.7,826.4 579.8,827.9 580.0,829.5 580.2,831.3 580.3,833.0 580.5,834.8 580.6,836.6 580.7,838.4 580.9,840.3 581.0,842.1 581.1,843.9 581.2,845.7 581.4,847.5 581.5,849.3 581.6,851.0 581.7,852.7 581.9,854.4 582.0,856.1 582.2,857.7 582.3,859.2 582.5,860.7 582.7,862.2 582.8,863.6 583.1,864.9 583.3,866.2 583.5,867.4 584.0,869.6 584.5,871.8 585.0,873.8 585.5,875.6 586.1,877.0 586.6,877.9 587.1,878.2 587.4,878.0 587.7,877.4 588.0,876.5 588.3,875.4 588.6,874.0 588.9,872.3 589.2,870.6 589.5,868.7 589.8,866.7 590.1,864.6 590.4,862.5 590.6,860.4 590.9,858.4 591.2,856.4 591.5,854.6 591.8,852.9 592.1,851.3 592.4,849.6 592.7,848.0 593.0,846.3 593.3,844.7 593.6,843.0 593.9,841.4 594.1,839.8 594.4,838.1 594.7,836.5 595.0,834.8 595.3,833.2 595.6,831.6 596.0,830.0 596.3,828.5 596.6,826.9 597.0,825.2 597.3,823.5 597.7,821.9 598.0,820.2 598.4,818.6 598.7,817.1 599.1,815.6 599.5,814.1 599.9,812.5 600.4,811.1 600.9,809.6 601.4,808.2 602.1,806.5 602.8,804.7 603.5,802.8 604.3,800.9 605.1,799.2 605.9,797.6 606.8,796.3 607.6,795.3 608.5,794.8 610.1,794.8 611.8,794.8 613.3,795.7 613.9,796.6 614.5,797.7 615.0,799.1 615.4,800.7 615.8,802.4 616.2,804.3 616.5,806.1 616.9,808.0 617.2,809.7 617.6,811.3 618.0,812.7 618.5,814.4 619.0,816.2 619.6,818.0 620.1,819.7 620.6,821.0 621.1,821.8 621.6,822.1 622.1,821.7 622.5,820.8 622.9,819.6 623.4,818.1 623.8,816.3 624.2,814.4 624.7,812.4 625.1,810.4 625.4,809.3 625.6,808.1 625.9,806.9 626.1,805.6 626.4,804.3 626.7,802.9 626.9,801.4 627.2,800.0 627.5,798.4 627.8,796.8 628.1,795.2 628.3,793.5 628.6,791.8 628.9,790.1 629.2,788.3 629.5,786.5 629.7,784.8 630.0,783.0 630.3,781.3 630.5,779.5 630.8,777.8 631.1,776.0 631.3,774.3 631.6,772.5 631.8,770.8 632.1,769.1 632.3,767.5 632.5,765.9 632.7,764.3 632.9,762.7 633.1,761.1 633.3,759.5 633.5,757.9 633.7,756.2 633.9,754.6 634.1,752.9 634.3,751.3 634.5,749.6 634.7,747.9 634.9,746.2 635.1,744.6 635.3,742.9 635.4,741.2 635.6,739.6 635.8,737.9 636.0,736.2 636.1,734.6 636.3,732.9 636.5,731.2 636.7,729.6 636.8,727.9 637.0,726.3 637.2,724.6 637.3,723.0 637.5,721.4 637.7,719.8 637.9,718.2 638.0,716.6 638.2,715.1 638.4,713.4 638.6,711.7 638.7,710.0 638.9,708.3 639.1,706.6 639.2,704.8 639.4,703.1 639.6,701.3 639.7,699.5 639.9,697.7 640.0,696.0 640.2,694.2 640.4,692.4 640.5,690.6 640.7,688.9 640.8,687.2 641.0,685.5 641.2,683.8 641.3,682.2 641.5,680.6 641.7,679.0 641.9,677.5 642.0,676.1 642.2,674.7 642.4,673.4 642.6,672.2 642.8,671.0 643.0,670.0 643.4,667.9 643.8,665.8 644.3,663.9 644.7,662.2 645.2,660.8 645.6,659.8 646.1,659.5 646.6,659.8 647.0,660.9 647.5,662.4 648.0,664.2 648.4,666.0 648.9,667.7 649.2,669.1 649.5,670.7 649.7,672.4 649.9,674.3 650.1,676.1 650.3,678.0 650.6,679.7 651.0,681.2 651.4,682.5 651.9,683.4 652.5,684.1 653.8,684.4 655.4,684.0 657.0,683.1 658.4,683.0 659.5,683.6 660.5,684.6 661.4,685.9 662.3,687.4 663.2,689.0 663.8,690.4 664.4,692.0 664.9,693.6 665.4,695.1 665.9,696.7 666.5,698.2 667.2,699.6 668.0,700.9 669.0,702.1 670.1,703.5 671.3,705.0 672.6,706.4 673.9,707.4 675.2,708.2 676.4,709.0 677.5,709.3 678.6,708.9 679.7,708.0 680.7,706.9 681.7,705.4 682.7,703.9 683.7,702.4 684.6,701.0 685.3,699.8 686.0,698.4 686.7,696.9 687.3,695.4 687.9,693.7 688.5,692.0 689.1,690.2 689.7,688.4 690.4,686.9 691.0,685.4 691.7,684.1 692.4,682.7 693.2,681.2 694.0,679.7 694.7,678.2 695.5,676.9 696.3,675.8 697.1,674.7 698.0,673.6 698.9,672.5 700.0,671.5 701.2,670.6 702.5,669.8 703.7,669.2 704.9,668.4 706.0,667.4 706.9,666.4 707.7,665.1 708.5,664.0 709.2,662.8 709.9,661.4 710.7,659.9 711.4,658.3 712.3,656.8 713.2,655.6 714.3,654.5 715.4,653.4 716.5,652.3 717.8,651.2 719.0,650.3 720.2,649.4 721.5,648.4 722.7,647.5 724.1,646.6 725.5,645.7 726.9,644.5 728.3,643.8 729.7,643.2 731.0,642.3 732.2,641.3 733.5,640.1 734.8,638.9 735.9,637.5 737.0,636.5 738.1,636.1 739.4,636.4 740.6,637.5 741.7,639.0 742.3,640.0 742.8,641.1 743.3,642.4 743.8,643.8 744.2,645.3 744.7,646.8 745.1,648.5 745.6,650.1 746.0,651.7 746.5,653.2 747.0,654.7 747.5,656.2 748.0,657.7 748.5,659.3 749.0,660.9 749.5,662.5 750.0,664.1 750.5,665.7 751.0,667.3 751.5,668.9 751.9,670.6 752.4,672.4 752.8,673.8 753.1,675.4 753.4,677.1 753.7,678.9 754.0,680.7 754.3,682.5 754.6,684.4 754.8,686.4 755.1,688.3 755.4,690.1 755.7,691.9 756.0,693.7 756.4,695.3 756.7,696.7 757.1,698.1 757.5,699.2 757.9,700.1 758.4,700.8 759.5,701.4 760.8,701.6 761.9,702.3 762.4,703.1 762.9,704.1 763.4,705.4 763.8,706.9 764.3,708.5 764.7,710.3 765.1,712.1 765.4,714.0 765.8,715.9 766.2,717.7 766.5,719.4 766.9,721.0 767.2,722.5 767.6,723.7 767.9,724.7 768.6,726.0 769.3,726.9 770.0,728.3 770.3,729.2 770.5,730.2 770.8,731.4 771.1,732.6 771.4,734.0 771.7,735.5 771.9,737.1 772.2,738.7 772.5,740.3 772.8,742.0 773.1,743.8 773.3,745.5 773.6,747.4 773.9,749.2 774.2,751.1 774.4,753.0 774.7,754.9 775.0,756.8 775.3,758.7 775.5,760.6 775.8,762.5 776.0,764.3 776.3,766.1 776.5,767.6 776.7,769.1 776.9,770.7 777.1,772.2 777.3,773.8 777.5,775.4 777.7,776.9 777.9,778.5 778.1,780.1 778.3,781.8 778.5,783.4 778.7,785.0 778.9,786.7 779.1,788.3 779.3,790.0 779.5,791.6 779.7,793.3 779.9,795.0 780.1,796.6 780.2,798.3 780.4,800.0 780.6,801.7 780.8,803.3 781.0,805.0 781.2,806.7 781.4,808.4 781.6,810.0 781.7,811.7 781.9,813.4 782.1,815.0 782.3,816.7 782.5,818.4 782.7,820.0 782.9,821.6 783.0,823.2 783.2,824.8 783.4,826.5 783.6,828.2 783.7,829.9 783.9,831.5 784.1,833.3 784.3,835.0 784.4,836.7 784.6,838.4 784.8,840.1 785.0,841.8 785.1,843.6 785.3,845.3 785.5,847.0 785.7,848.7 785.8,850.5 786.0,852.2 786.2,853.9 786.4,855.6 786.6,857.2 786.7,858.9 786.9,860.5 787.1,862.1 787.3,863.6 787.5,865.2 787.7,866.7 787.8,868.1 788.0,869.5 788.2,870.9 788.4,872.2 788.6,873.5 788.8,874.8 789.1,876.6 789.4,878.4 789.7,880.1 790.0,881.7 790.3,883.3 790.7,884.9 791.0,886.4 791.3,887.9 791.6,889.4 792.0,890.9 792.3,892.4 792.6,893.9 792.9,895.4 793.3,897.1 793.6,898.7 793.9,900.3 794.2,901.9 794.5,903.4 794.8,904.9 795.1,906.5 795.4,908.0 795.8,909.5 796.1,911.0 796.4,912.4 796.7,913.9 797.0,915.4 797.3,917.0 797.7,918.5 798.0,920.1 798.3,921.7 798.6,923.3 798.9,924.9 799.2,926.6 799.5,928.1 799.7,929.7 800.0,931.3 800.3,933.0 800.5,934.6 800.7,936.3 801.0,938.0 801.2,939.7 801.4,941.5 801.7,943.2 801.9,944.9 802.2,946.5 802.4,948.2 802.7,949.8 803.0,951.3 803.3,952.8 803.7,954.2 804.0,955.6 804.4,956.9 804.8,958.2 805.3,960.0 805.9,961.9 806.5,964.0 807.2,966.1 807.9,968.0 808.5,969.8 809.2,971.5 809.9,973.1 810.6,974.5 811.3,975.5 812.0,976.4 812.6,976.9 813.2,977.0 813.8,976.8 814.4,976.1 815.0,975.0 815.6,973.7 816.2,972.2 816.8,970.5 817.3,968.7 817.9,966.6 818.4,964.6 818.9,962.6 819.3,960.6 819.8,958.7 820.1,957.4 820.4,956.0 820.7,954.5 821.0,953.0 821.3,951.5 821.5,950.0 821.7,948.5 822.0,946.9 822.2,945.4 822.4,943.8 822.6,942.3 822.8,940.7 823.0,939.0 823.2,937.4 823.4,935.7 823.6,934.0 823.8,932.2 824.0,930.4 824.2,928.6 824.4,926.7 824.5,925.4 824.7,924.0 824.8,922.7 825.0,921.3 825.1,919.8 825.2,918.4 825.4,916.9 825.5,915.4 825.6,913.8 825.8,912.2 825.9,910.7 826.0,909.0 826.1,907.4 826.3,905.7 826.4,904.1 826.5,902.4 826.6,900.7 826.8,899.0 826.9,897.2 827.0,895.5 827.1,893.7 827.2,892.0 827.4,890.2 827.5,888.5 827.6,886.7 827.7,884.9 827.9,883.1 828.0,881.3 828.1,879.6 828.2,877.8 828.3,876.0 828.5,874.3 828.6,872.5 828.7,870.8 828.9,869.0 829.0,867.3 829.1,865.6 829.2,863.9 829.4,862.2 829.5,860.6 829.6,858.9 829.8,857.3 829.9,855.7 830.1,854.2 830.2,852.6 830.4,851.1 830.5,849.6 830.7,847.8 830.9,846.0 831.0,844.2 831.2,842.5 831.4,840.7 831.6,839.0 831.8,837.2 832.0,835.5 832.1,833.8 832.3,832.1 832.5,830.4 832.7,828.8 832.9,827.1 833.1,825.4 833.3,823.8 833.5,822.1 833.7,820.5 833.9,818.9 834.1,817.3 834.3,815.7 834.5,814.1 834.7,812.5 834.9,810.9 835.1,809.4 835.3,807.8 835.5,806.3 835.7,804.8 835.9,803.3 836.2,801.9 836.4,800.4 836.6,798.9 836.8,797.5 837.1,795.8 837.3,794.0 837.6,792.3 837.9,790.5 838.1,788.8 838.4,787.1 838.7,785.4 838.9,783.7 839.2,782.1 839.5,780.4 839.7,778.8 840.0,777.1 840.3,775.5 840.6,773.9 840.9,772.3 841.2,770.6 841.5,769.0 841.8,767.5 842.1,766.0 842.4,764.5 842.8,763.1 843.1,761.8 843.6,760.0 844.1,758.4 844.6,756.8 845.1,755.3 845.6,753.9 846.2,752.5 846.7,751.2 847.3,749.8 847.8,748.3 848.3,746.7 848.8,745.1 849.3,743.4 849.7,742.0 850.0,740.6 850.3,739.1 850.6,737.5 851.0,736.0 851.3,734.3 851.6,732.7 851.9,731.1 852.2,729.4 852.5,727.8 852.8,726.1 853.1,724.4 853.4,722.7 853.7,721.0 854.0,719.3 854.3,717.7 854.6,716.1 854.9,714.5 855.3,713.1 855.6,711.7 856.0,710.1 856.4,708.7 856.9,707.2 857.3,705.8 857.8,704.4 858.2,702.9 858.7,701.6 859.1,700.2 859.6,698.8 860.1,697.3 860.5,695.9 861.0,694.4 861.4,692.9 861.9,691.3 862.3,689.8 862.8,688.2 863.2,686.5 863.6,684.7 864.0,682.9 864.5,681.1 864.9,679.3 865.3,677.5 865.7,675.7 866.2,673.9 866.6,672.1 867.0,670.4 867.5,668.8 867.9,667.3 868.3,666.1 868.8,664.9 869.2,663.9 869.9,662.4 870.5,661.0 871.1,659.6 871.8,658.4 872.5,657.3 873.3,656.4 874.5,655.7 876.0,655.2 877.4,654.7 878.6,653.6 879.3,652.5 879.9,650.9 880.4,649.1 880.9,647.0 881.4,644.8 881.9,642.7 882.3,640.7 882.7,639.0 883.1,637.7 883.4,636.8 883.8,636.5 884.2,636.9 884.6,637.9 885.0,639.3 885.3,641.0 885.6,642.9 885.9,645.0 886.0,646.0 886.2,647.2 886.3,648.4 886.4,649.6 886.5,651.0 886.6,652.4 886.7,653.9 886.8,655.4 886.9,657.0 886.9,658.6 887.0,660.3 887.1,662.0 887.1,663.7 887.2,665.5 887.3,667.3 887.3,669.1 887.4,671.0 887.4,672.9 887.5,674.7 887.5,676.6 887.6,678.5 887.6,680.4 887.7,682.3 887.7,684.2 887.8,686.0 887.8,687.9 887.9,689.7 887.9,691.5 888.0,693.3 888.1,694.9 888.1,696.5 888.2,698.3 888.2,700.1 888.3,702.0 888.3,704.0 888.3,706.0 888.4,708.0 888.4,710.1 888.5,712.3 888.5,714.4 888.5,716.6 888.6,718.8 888.6,721.0 888.6,723.2 888.7,725.3 888.7,727.5 888.7,729.6 888.8,731.7 888.8,733.7 888.9,735.8 888.9,737.7 888.9,739.6 889.0,741.4 889.0,743.1 889.1,744.8 889.1,746.4 889.2,747.8 889.3,749.2 889.3,750.4 889.4,751.6 889.5,752.6 889.5,753.4 889.6,754.1 889.7,754.7 889.8,755.1 889.9,755.4 890.0,755.5 890.2,755.2 890.4,754.2 890.6,752.8 890.8,751.0 891.0,748.9 891.3,746.6 891.5,744.2 891.8,741.8 892.0,739.4 892.3,737.3 892.5,735.5 892.7,734.0 893.0,733.1 893.2,732.7 893.3,732.9 893.5,733.3 893.6,734.0 893.8,735.0 893.9,736.2 894.0,737.6 894.2,739.2 894.3,741.0 894.4,742.9 894.6,745.0 894.7,747.1 894.8,749.4 895.0,751.7 895.1,754.1 895.2,756.5 895.4,758.9 895.5,761.3 895.6,763.7 895.8,766.0 895.9,768.3 896.0,770.4 896.1,772.5 896.3,774.4 896.4,776.2 896.5,777.7 896.7,779.1 896.8,780.3 896.9,781.3 897.0,782.0 897.2,782.5 897.3,782.6 897.4,782.4 897.6,782.0 897.7,781.3 897.8,780.3 897.9,779.2 898.1,777.8 898.2,776.2 898.3,774.5 898.4,772.7 898.5,770.8 898.6,768.8 898.7,766.7 898.9,764.6 899.0,762.5 899.2,760.5 899.4,758.4 899.5,756.4 899.7,754.5 900.0,752.7 900.2,751.0 900.5,749.4 900.8,747.7 901.2,745.8 901.6,743.8 902.0,741.8 902.4,739.8 902.8,737.9 903.2,735.9 903.7,734.1 904.1,732.3 904.6,730.7 905.1,729.2 905.6,728.0 906.2,726.9 906.7,726.1 907.2,725.6 907.8,725.3 908.7,725.5 909.7,726.4 910.8,727.9 911.8,729.6 912.9,731.2 914.0,732.6 915.2,733.6 916.6,734.4 917.9,735.0 919.2,735.9 920.3,737.1 920.9,738.0 921.5,739.3 922.1,740.8 922.6,742.6 923.0,744.6 923.5,746.7 923.9,748.8 924.3,750.8 924.7,752.7 925.1,754.4 925.5,755.8 925.9,756.8 926.2,757.5 926.6,757.7 927.0,757.4 927.4,756.7 927.7,755.7 928.0,754.3 928.4,752.7 928.7,750.8 929.0,748.8 929.3,746.8 929.6,744.6 929.9,742.5 930.2,740.5 930.5,738.6 930.8,736.9 931.1,735.3 931.5,733.7 931.8,732.1 932.2,730.6 932.5,729.0 932.8,727.4 933.2,725.9 933.5,724.4 933.9,722.9 934.2,721.4 934.6,719.9 934.9,718.4 935.2,716.7 935.5,715.0 935.8,713.2 936.1,711.4 936.4,709.6 936.7,707.8 937.0,706.0 937.4,704.4 937.7,702.9 938.1,701.5 938.6,700.2 939.1,699.1 940.1,697.5 941.2,696.2 942.3,695.5 943.3,695.2 943.7,695.6 944.1,696.4 944.5,697.6 944.8,699.2 945.1,701.2 945.4,703.3 945.6,705.6 945.9,707.9 946.1,710.2 946.3,712.5 946.5,714.6 946.7,716.4 946.9,718.0 947.1,719.2 947.3,720.0 947.5,720.3 947.7,720.1 947.8,719.6 948.0,718.7 948.1,717.6 948.2,716.2 948.3,714.6 948.5,712.8 948.6,710.8 948.7,708.7 948.8,706.5 948.9,704.2 949.0,701.8 949.1,699.4 949.2,697.0 949.3,694.6 949.4,692.3 949.5,690.1 949.6,687.9 949.7,686.0 949.8,684.2 949.9,682.6 950.0,681.2 950.2,680.1 950.3,679.2 950.4,678.7 950.6,678.5 950.8,678.8 951.1,679.6 951.4,680.8 951.6,682.4 951.9,684.2 952.2,686.1 952.5,688.1 952.8,690.2 953.1,692.1 953.4,693.8 953.7,695.3 954.1,696.9 954.5,698.3 954.9,699.7 955.3,701.0 955.7,702.5 956.1,704.0 956.5,705.8 956.8,707.8 957.0,708.9 957.1,710.1 957.2,711.4 957.4,712.9 957.5,714.4 957.6,715.9 957.7,717.6 957.8,719.3 957.9,721.1 958.0,722.9 958.1,724.8 958.2,726.7 958.2,728.6 958.3,730.5 958.4,732.5 958.4,734.4 958.5,736.4 958.6,738.4 958.7,740.3 958.7,742.2 958.8,744.1 958.9,746.0 958.9,747.8 959.0,749.5 959.1,751.2 959.2,752.9 959.3,754.4 959.4,755.9 959.5,757.3 959.6,758.6 959.7,759.8 959.9,760.9 960.0,761.9 960.3,763.7 960.7,765.2 961.0,766.5 961.4,767.8 961.7,769.0 962.1,770.3" fill="none" stroke="#8c8c8c" stroke-width="3.0" stroke-linejoin="round" stroke-linecap="round"/>
<polyline points="48.0,1226.3 48.2,1224.6 48.3,1222.7 48.5,1220.7 48.7,1218.6 48.9,1216.4 49.0,1214.1 49.2,1211.8 49.4,1209.5 49.6,1207.3 49.7,1205.2 49.9,1203.3 50.1,1201.5 50.3,1199.8 50.4,1198.5 50.6,1197.4 50.8,1196.5 50.9,1196.0 51.1,1195.8 51.3,1196.1 51.5,1197.0 51.7,1198.3 51.9,1200.0 52.1,1201.9 52.3,1203.8 52.5,1205.8 52.7,1207.6 53.0,1209.1 53.4,1210.9 53.8,1213.0 54.2,1215.0 54.6,1216.7 55.1,1217.9 55.5,1218.3 56.1,1217.4 56.6,1215.5 57.3,1213.6 57.9,1212.5 58.5,1212.9 59.1,1214.3 59.8,1216.2 60.4,1217.9 61.1,1219.2 61.6,1219.7 62.0,1219.2 62.5,1218.2 62.8,1216.6 63.2,1214.8 63.5,1212.8 63.8,1210.9 64.1,1209.3 64.4,1207.7 64.7,1205.9 65.0,1204.0 65.2,1202.2 65.5,1200.8 65.8,1199.8 66.0,1199.4 66.2,1199.8 66.3,1200.8 66.4,1202.2 66.5,1204.1 66.6,1206.2 66.7,1208.5 66.8,1210.7 66.9,1212.9 67.0,1214.7 67.2,1216.2 67.5,1217.2 67.8,1217.5 68.5,1217.0 69.3,1216.1 70.1,1214.9 70.9,1213.4 71.8,1212.1 72.6,1211.0 73.4,1209.7 74.0,1208.0 74.6,1205.9 75.1,1203.8 75.6,1202.1 76.1,1201.0 76.5,1200.7 76.7,1201.1 76.8,1202.0 76.9,1203.4 76.9,1205.1 76.9,1207.1 76.9,1209.2 77.0,1211.2 77.1,1213.1 77.3,1214.8 77.7,1216.0 78.4,1217.4 79.3,1218.8 80.3,1220.7 81.3,1222.0 82.1,1222.2 82.5,1221.7 82.9,1220.7 83.2,1219.2 83.5,1217.4 83.7,1215.2 83.9,1212.9 84.1,1210.4 84.2,1207.9 84.4,1205.6 84.5,1203.4 84.7,1201.6 84.8,1200.1 84.9,1199.2 85.1,1198.8 85.2,1198.9 85.3,1199.5 85.4,1200.4 85.5,1201.6 85.6,1203.1 85.7,1204.8 85.8,1206.8 85.8,1208.9 85.9,1211.2 86.0,1213.5 86.0,1216.0 86.1,1218.4 86.2,1220.9 86.2,1223.4 86.3,1225.7 86.3,1228.0 86.4,1230.1 86.5,1232.1 86.5,1233.8 86.6,1235.4 86.7,1236.6 86.8,1237.5 86.9,1238.1 87.0,1238.3 87.1,1238.1 87.2,1237.5 87.4,1236.5 87.5,1235.1 87.7,1233.5 87.8,1231.6 87.9,1229.5 88.1,1227.2 88.3,1224.8 88.4,1222.4 88.6,1219.9 88.7,1217.5 88.9,1215.1 89.0,1212.9 89.2,1210.8 89.4,1208.8 89.5,1207.2 89.7,1205.8 89.8,1204.8 90.0,1204.1 90.1,1203.9 90.3,1204.2 90.5,1205.1 90.7,1206.4 90.9,1208.1 91.1,1210.0 91.3,1212.0 91.5,1214.0 91.7,1215.9 91.9,1217.7 92.1,1219.4 92.4,1221.3 92.6,1223.4 92.9,1225.6 93.1,1227.7 93.4,1229.7 93.7,1231.4 93.9,1232.7 94.2,1233.6 94.4,1234.0 94.6,1233.5 94.9,1232.0 95.1,1229.9 95.3,1227.4 95.5,1224.8 95.7,1222.2 95.9,1220.0 96.1,1218.5 96.3,1217.8 96.4,1217.9 96.5,1218.2 96.6,1218.8 96.7,1219.6 96.7,1220.7 96.8,1221.9 96.9,1223.3 97.0,1224.9 97.1,1226.6 97.1,1228.5 97.2,1230.5 97.3,1232.6 97.4,1234.9 97.4,1237.2 97.5,1239.5 97.6,1242.0 97.7,1244.4 97.7,1246.9 97.8,1249.4 97.9,1252.0 97.9,1254.5 98.0,1256.9 98.1,1259.4 98.1,1261.7 98.2,1264.0 98.3,1266.3 98.3,1268.4 98.4,1270.4 98.5,1272.3 98.5,1274.0 98.6,1275.6 98.7,1277.0 98.8,1278.3 98.8,1279.3 98.9,1280.2 99.0,1280.8 99.0,1281.1 99.1,1281.3 99.2,1281.2 99.2,1280.9 99.3,1280.4 99.3,1279.7 99.4,1278.9 99.4,1277.8 99.5,1276.7 99.5,1275.3 99.5,1273.9 99.6,1272.3 99.6,1270.6 99.6,1268.8 99.6,1267.0 99.7,1265.0 99.7,1262.9 99.7,1260.8 99.7,1258.6 99.8,1256.4 99.8,1254.2 99.8,1251.9 99.9,1249.6 99.9,1247.3 100.0,1245.0 100.0,1242.7 100.1,1240.5 100.1,1238.3 100.2,1236.1 100.3,1234.0 100.3,1231.9 100.4,1229.9 100.5,1228.0 100.6,1226.2 100.7,1224.5 100.9,1222.9 101.0,1221.4 101.1,1220.0 101.3,1218.8 101.4,1217.7 101.6,1216.8 101.8,1216.0 102.6,1213.5 103.5,1211.8 104.3,1211.5 104.6,1211.9 104.8,1212.9 105.0,1214.3 105.2,1216.1 105.3,1218.1 105.4,1220.4 105.5,1222.7 105.6,1224.9 105.7,1227.1 105.8,1229.1 105.8,1230.8 105.9,1232.1 106.1,1232.9 106.2,1233.2 106.4,1232.8 106.5,1231.9 106.7,1230.4 106.8,1228.6 107.0,1226.5 107.2,1224.2 107.3,1221.8 107.5,1219.5 107.7,1217.2 107.9,1215.2 108.0,1213.5 108.2,1212.3 108.4,1211.5 108.6,1211.3 108.8,1211.7 108.9,1212.4 109.1,1213.5 109.2,1214.9 109.4,1216.6 109.6,1218.5 109.8,1220.6 109.9,1222.8 110.1,1225.1 110.3,1227.4 110.5,1229.7 110.7,1232.1 110.8,1234.4 111.0,1236.6 111.2,1238.7 111.4,1240.6 111.5,1242.3 111.7,1243.8 111.9,1245.1 112.1,1246.0 112.2,1246.6 112.4,1246.8 112.6,1246.5 112.8,1245.7 113.0,1244.5 113.1,1242.9 113.3,1241.0 113.5,1238.9 113.7,1236.6 113.9,1234.2 114.0,1231.8 114.2,1229.5 114.4,1227.3 114.6,1225.2 114.7,1223.4 114.9,1222.0 115.1,1220.9 115.2,1220.2 115.4,1220.1 115.6,1220.5 115.7,1221.4 115.9,1222.8 116.1,1224.6 116.2,1226.6 116.4,1228.9 116.5,1231.3 116.7,1233.8 116.8,1236.3 117.0,1238.6 117.1,1240.8 117.3,1242.8 117.4,1244.4 117.6,1245.7 117.7,1246.5 117.9,1246.7 118.0,1246.4 118.2,1245.8 118.3,1244.8 118.4,1243.6 118.4,1242.0 118.5,1240.3 118.6,1238.4 118.7,1236.3 118.8,1234.1 118.9,1231.9 119.0,1229.7 119.1,1227.4 119.3,1225.3 119.5,1223.2 119.6,1221.3 119.9,1219.5 120.1,1218.0 120.4,1216.7 120.9,1215.1 121.5,1213.9 122.2,1212.9 122.9,1212.0 123.5,1210.9 124.1,1209.5 124.7,1207.6 125.2,1205.5 125.7,1203.5 126.1,1201.7 126.6,1200.5 127.2,1200.0 127.8,1200.4 128.4,1201.8 129.1,1203.8 129.7,1206.0 130.4,1207.9 131.0,1209.8 131.5,1211.4 131.9,1212.7 132.4,1213.8 132.7,1214.9 133.1,1215.9 133.4,1217.0 133.7,1218.4 134.0,1220.1 134.1,1221.2 134.3,1222.4 134.4,1223.9 134.5,1225.4 134.6,1227.1 134.7,1229.0 134.8,1230.9 134.9,1233.0 135.0,1235.1 135.1,1237.2 135.2,1239.5 135.2,1241.7 135.3,1244.0 135.4,1246.3 135.4,1248.5 135.5,1250.8 135.6,1253.0 135.6,1255.2 135.7,1257.3 135.7,1259.3 135.8,1261.3 135.8,1263.1 135.9,1264.9 136.0,1266.5 136.0,1268.0 136.1,1269.3 136.1,1270.4 136.2,1271.4 136.3,1272.2 136.3,1272.8 136.4,1273.1 136.5,1273.2 136.6,1273.1 136.7,1272.7 136.8,1272.1 136.9,1271.2 136.9,1270.1 137.0,1268.9 137.1,1267.5 137.2,1265.9 137.3,1264.2 137.4,1262.3 137.5,1260.4 137.6,1258.3 137.7,1256.2 137.8,1254.1 137.9,1251.9 138.0,1249.7 138.1,1247.5 138.1,1245.3 138.2,1243.1 138.3,1241.0 138.4,1238.9 138.5,1236.9 138.6,1235.1 138.7,1233.3 138.8,1231.6 138.9,1230.1 139.0,1228.8 139.1,1226.8 139.3,1224.6 139.4,1222.5 139.5,1220.3 139.7,1218.2 139.8,1216.2 139.9,1214.3 140.1,1212.7 140.2,1211.4 140.4,1210.3 140.6,1209.7 140.8,1209.4 141.1,1209.9 141.3,1211.2 141.7,1213.2 142.0,1215.6 142.3,1218.2 142.6,1220.7 143.0,1223.0 143.3,1224.8 143.6,1225.9 143.9,1226.3 144.1,1226.0 144.3,1225.3 144.5,1224.1 144.6,1222.7 144.8,1221.0 145.0,1219.0 145.1,1216.9 145.3,1214.7 145.4,1212.3 145.6,1209.9 145.7,1207.5 145.9,1205.1 146.0,1202.8 146.2,1200.6 146.3,1198.6 146.4,1196.9 146.6,1195.5 146.7,1194.4 146.9,1193.7 147.0,1193.4 147.2,1193.7 147.4,1194.5 147.6,1195.8 147.7,1197.4 147.9,1199.3 148.1,1201.4 148.3,1203.5 148.4,1205.7 148.6,1207.7 148.8,1209.5 149.0,1211.1 149.1,1212.9 149.3,1214.9 149.4,1217.0 149.6,1219.0 149.7,1221.0 149.9,1222.9 150.0,1224.6 150.2,1226.0 150.3,1227.1 150.5,1227.9 150.7,1228.1 150.9,1227.7 151.1,1226.6 151.3,1225.0 151.5,1223.0 151.7,1220.7 151.9,1218.3 152.1,1216.1 152.4,1214.0 152.6,1212.2 152.9,1211.0 153.2,1210.5 153.7,1210.8 154.2,1211.9 154.7,1213.9 155.3,1216.2 155.8,1218.6 156.3,1220.4 156.8,1221.7 157.2,1222.8 157.6,1223.9 158.1,1225.2 158.5,1226.7 158.9,1228.5 159.4,1230.3 159.8,1232.0 160.2,1233.9 160.7,1235.9 161.2,1238.0 161.6,1240.1 162.1,1242.0 162.5,1243.7 163.0,1244.9 163.4,1245.6 163.7,1245.8 163.9,1245.5 164.1,1244.7 164.3,1243.6 164.4,1242.2 164.5,1240.5 164.6,1238.5 164.6,1236.4 164.7,1234.2 164.8,1231.8 164.8,1229.4 164.9,1227.0 165.0,1224.7 165.0,1222.4 165.1,1220.3 165.2,1218.4 165.4,1216.8 165.5,1215.4 165.7,1214.5 165.9,1213.9 166.2,1213.8 166.7,1214.4 167.4,1215.4 168.0,1216.4 168.7,1217.5 169.3,1219.0 169.9,1220.6 170.4,1222.6 170.8,1224.9 171.1,1227.3 171.5,1229.4 171.8,1231.2 172.1,1232.3 172.4,1232.7 172.6,1232.4 172.8,1231.6 172.9,1230.4 173.1,1228.8 173.2,1227.0 173.4,1224.8 173.5,1222.6 173.7,1220.2 173.8,1217.8 173.9,1215.5 174.0,1213.2 174.2,1211.1 174.3,1209.2 174.4,1207.6 174.6,1206.4 174.7,1205.6 174.9,1205.2 175.2,1205.6 175.4,1206.5 175.7,1208.1 176.0,1209.9 176.2,1212.0 176.5,1214.2 176.8,1216.3 177.0,1217.8 177.2,1219.6 177.4,1221.5 177.5,1223.6 177.7,1225.8 177.9,1228.1 178.1,1230.3 178.3,1232.4 178.5,1234.4 178.7,1236.2 178.9,1237.8 179.1,1239.1 179.3,1240.0 179.6,1240.6 179.8,1240.7 180.2,1240.0 180.6,1238.4 181.0,1236.4 181.5,1234.5 181.9,1233.0 182.3,1232.5 182.6,1233.1 183.0,1234.5 183.3,1236.5 183.6,1238.7 183.9,1241.0 184.2,1243.0 184.5,1244.3 184.8,1244.9 185.1,1244.5 185.3,1243.3 185.5,1241.6 185.8,1239.6 186.0,1237.3 186.3,1235.0 186.6,1232.7 186.9,1230.8 187.4,1229.2 187.9,1228.3 189.5,1227.5 191.0,1228.0 191.6,1229.2 192.0,1231.1 192.3,1233.3 192.5,1235.0 192.8,1235.7 193.0,1235.2 193.3,1234.1 193.5,1232.4 193.7,1230.3 194.0,1228.0 194.2,1225.6 194.4,1223.3 194.6,1221.2 194.9,1219.4 195.1,1218.3 195.3,1217.8 195.5,1218.1 195.7,1219.1 195.9,1220.6 196.1,1222.6 196.3,1224.8 196.4,1227.2 196.6,1229.6 196.8,1231.9 197.0,1233.9 197.3,1235.6 197.5,1236.8 197.8,1237.3 198.2,1236.8 198.6,1235.3 199.0,1233.2 199.4,1230.9 199.9,1228.8 200.4,1227.3 200.9,1226.8 201.6,1227.4 202.3,1228.7 203.1,1230.3 203.8,1232.2 204.6,1233.7 205.7,1234.4 206.7,1235.0 207.7,1236.3 208.2,1237.5 208.6,1239.2 208.9,1241.2 209.2,1243.3 209.6,1245.2 209.9,1246.9 210.3,1248.1 210.8,1248.7 211.8,1247.9 212.9,1246.6 213.9,1245.7 214.6,1246.6 215.2,1248.2 215.7,1249.1 216.1,1248.6 216.4,1247.6 216.7,1246.0 217.0,1244.2 217.4,1242.3 217.8,1240.5 218.2,1239.0 218.9,1237.3 219.6,1235.5 220.4,1233.8 221.2,1232.8 221.9,1232.6 222.5,1233.3 223.0,1234.6 223.5,1236.4 224.0,1238.1 224.5,1239.6 225.0,1240.4 225.6,1240.0 226.1,1238.8 226.7,1237.3 227.4,1235.8 228.1,1234.9 229.3,1233.6 230.6,1232.0 231.8,1231.4 232.3,1231.7 232.8,1232.7 233.1,1234.1 233.4,1235.9 233.7,1237.9 234.0,1239.8 234.3,1241.7 234.6,1243.4 235.0,1245.3 235.4,1247.5 235.7,1249.6 236.1,1251.7 236.5,1253.7 236.9,1255.4 237.3,1256.8 237.6,1257.6 238.0,1257.9 238.3,1257.5 238.7,1256.3 239.0,1254.7 239.2,1252.8 239.6,1250.8 239.9,1248.7 240.2,1246.8 240.6,1245.2 241.1,1244.1 242.1,1242.8 243.1,1241.7 244.2,1240.4 245.0,1239.3 245.8,1238.0 246.5,1236.6 247.3,1235.1 247.9,1234.4 248.2,1234.7 248.5,1235.7 248.8,1237.2 249.0,1239.1 249.1,1241.4 249.3,1243.7 249.4,1246.2 249.5,1248.6 249.6,1250.8 249.7,1252.7 249.9,1254.2 250.1,1255.3 250.3,1255.7 250.5,1255.4 250.8,1254.5 251.1,1253.1 251.4,1251.4 251.7,1249.4 252.0,1247.3 252.3,1245.1 252.6,1243.0 252.9,1240.9 253.2,1239.1 253.5,1237.7 253.8,1236.8 254.1,1236.4 254.4,1236.8 254.7,1238.1 255.0,1239.8 255.2,1242.0 255.5,1244.3 255.8,1246.6 256.1,1248.7 256.4,1250.3 256.7,1251.3 257.1,1251.6 257.6,1251.1 258.1,1249.8 258.7,1247.9 259.3,1245.8 259.9,1243.5 260.5,1241.3 261.0,1239.8 261.5,1239.1 261.9,1239.5 262.3,1240.5 262.6,1242.0 262.9,1243.8 263.2,1245.7 263.6,1247.6 264.0,1249.1 264.5,1250.8 265.0,1252.6 265.5,1254.5 266.1,1256.3 266.6,1257.8 267.2,1259.0 267.7,1259.6 268.2,1259.1 268.8,1257.7 269.3,1255.8 269.9,1253.8 270.4,1251.9 270.9,1250.5 271.4,1249.7 271.9,1249.9 272.3,1251.1 272.8,1252.9 273.2,1255.0 273.6,1256.8 274.1,1258.1 274.5,1258.5 274.9,1258.0 275.2,1256.9 275.6,1255.3 275.9,1253.4 276.3,1251.3 276.6,1249.1 277.0,1247.0 277.3,1244.9 277.6,1243.2 277.9,1242.0 278.2,1241.5 278.4,1241.8 278.6,1242.6 278.8,1243.9 278.9,1245.6 279.0,1247.6 279.1,1249.9 279.3,1252.3 279.4,1254.7 279.5,1257.2 279.6,1259.4 279.8,1261.5 279.9,1263.3 280.1,1264.6 280.3,1265.5 280.6,1265.9 281.0,1265.5 281.4,1264.3 281.8,1262.7 282.3,1260.9 282.8,1259.1 283.3,1257.3 283.8,1255.4 284.2,1253.7 284.6,1252.3 285.0,1251.6 285.3,1251.9 285.5,1252.8 285.7,1254.4 285.8,1256.3 286.0,1258.5 286.1,1260.9 286.3,1263.1 286.4,1265.3 286.7,1267.0 287.0,1268.4 287.4,1269.2 288.2,1268.9 289.1,1267.0 290.1,1265.0 291.2,1264.3 292.4,1264.8 293.7,1265.2 294.9,1266.0 295.5,1266.6 296.0,1267.4 296.4,1268.6 296.8,1270.1 297.1,1271.8 297.5,1273.7 297.8,1275.4 298.2,1277.1 298.7,1278.5 299.4,1280.0 300.0,1281.9 300.8,1283.7 301.5,1285.1 302.4,1285.7 303.6,1286.2 304.9,1286.5 306.1,1286.3 307.0,1285.8 307.8,1284.7 308.5,1283.0 309.2,1281.1 309.8,1279.5 310.3,1278.0 310.7,1276.3 311.2,1274.5 311.6,1272.9 312.3,1271.6 313.5,1270.7 314.8,1270.0 316.0,1268.6 316.6,1267.3 317.2,1265.7 317.6,1264.0 318.1,1262.3 318.5,1260.8 319.1,1259.6 319.7,1258.9 320.9,1259.2 322.2,1260.9 323.4,1261.9 324.0,1261.3 324.5,1260.1 324.9,1258.6 325.3,1256.7 325.7,1254.7 326.1,1252.6 326.6,1250.6 327.1,1248.9 327.9,1247.3 328.8,1246.3 329.8,1245.5 330.6,1244.2 331.4,1242.7 332.1,1240.9 332.7,1239.4 333.3,1238.8 333.6,1239.2 334.0,1240.4 334.3,1242.1 334.6,1244.1 334.9,1246.4 335.2,1248.8 335.5,1250.9 335.8,1252.8 336.1,1254.0 336.4,1254.5 336.7,1254.3 336.9,1253.5 337.1,1252.3 337.3,1250.8 337.5,1249.0 337.7,1247.0 337.9,1244.8 338.2,1242.6 338.4,1240.4 338.6,1238.3 338.9,1236.4 339.2,1234.7 339.5,1233.3 340.0,1231.8 340.5,1230.4 341.1,1228.9 341.7,1227.4 342.2,1225.9 342.8,1224.6 343.2,1223.5 343.8,1221.9 344.4,1221.2 344.9,1221.9 345.4,1223.4 345.9,1225.2 346.4,1226.4 346.9,1226.7 347.3,1226.1 347.6,1224.9 347.9,1223.4 348.1,1221.7 348.5,1220.0 348.9,1218.6 349.4,1217.6 350.2,1216.5 351.2,1214.9 352.2,1213.7 353.1,1213.2 354.0,1212.4 354.9,1211.3 355.8,1210.3 356.8,1209.2 357.8,1208.2 358.8,1207.2 359.9,1206.2 360.8,1205.2 361.7,1204.0 362.4,1202.2 363.0,1200.4 363.6,1199.2 364.2,1198.7 364.8,1199.5 365.4,1201.0 366.0,1202.9 366.6,1204.5 367.3,1205.3 368.2,1204.5 369.1,1202.5 370.1,1201.3 371.0,1201.4 372.0,1202.6 373.0,1204.1 374.1,1205.4 375.2,1205.7 376.5,1206.1 377.9,1207.1 379.1,1207.6 380.4,1207.9 381.7,1208.5 382.8,1209.3 383.5,1210.7 384.2,1212.7 384.8,1214.5 385.3,1215.7 385.9,1215.9 386.4,1215.0 386.8,1213.3 387.2,1211.3 387.6,1209.4 388.0,1207.7 388.5,1206.6 389.0,1206.4 389.8,1207.2 390.7,1209.0 391.7,1210.8 392.7,1211.2 393.9,1210.5 395.2,1210.5 396.4,1209.7 397.2,1208.0 397.9,1206.2 398.7,1204.8 399.3,1203.8 400.0,1202.8 400.7,1201.6 401.5,1200.0 402.2,1198.3 403.0,1197.3 403.8,1197.1 405.3,1196.8 406.9,1196.0 408.2,1196.6 409.4,1197.3 410.6,1197.1 411.5,1197.6 412.3,1198.8 413.0,1200.2 413.7,1201.6 414.3,1203.2 414.8,1205.1 415.3,1206.9 415.7,1208.6 416.2,1210.2 416.6,1211.6 416.9,1213.1 417.2,1214.6 417.5,1216.2 417.8,1217.9 418.2,1219.5 418.6,1221.1 419.0,1222.6 419.5,1224.2 420.0,1225.8 420.5,1227.4 421.0,1228.6 421.6,1229.4 422.3,1230.2 423.0,1231.3 424.1,1232.4 425.3,1232.9 426.5,1233.8 427.7,1234.3 428.5,1234.7 429.3,1235.8 430.0,1238.3 430.8,1241.1 431.5,1242.9 432.2,1244.3 432.9,1245.6 433.6,1247.1 434.3,1248.8 434.9,1250.4 435.6,1252.2 436.2,1253.8 436.9,1255.3 437.5,1256.8 438.0,1258.1 438.6,1258.7 439.1,1258.6 439.4,1258.1 439.7,1257.2 440.0,1256.1 440.2,1254.6 440.4,1252.9 440.6,1250.9 440.8,1248.8 441.0,1246.6 441.3,1244.4 441.6,1242.3 441.9,1240.3 442.2,1238.6 442.7,1237.4 443.2,1236.9 444.2,1236.7 445.4,1235.0 446.7,1233.2 448.0,1233.3 449.1,1232.7 450.0,1231.2 450.9,1229.3 451.7,1227.5 452.4,1225.8 453.2,1224.7 453.9,1223.9 454.7,1223.6 455.4,1224.3 456.1,1225.7 456.8,1227.4 457.5,1228.9 458.0,1230.4 458.6,1232.6 459.1,1234.9 459.7,1237.2 460.2,1239.0 460.7,1240.2 461.2,1241.1 461.7,1241.6 462.2,1241.9 462.6,1241.8 462.9,1241.3 463.2,1240.4 463.4,1239.2 463.7,1237.5 463.9,1235.7 464.2,1233.6 464.5,1231.3 464.8,1229.0 465.1,1226.6 465.5,1224.3 465.9,1222.3 466.4,1220.7 467.0,1219.7 468.0,1218.9 469.1,1218.1 470.3,1217.3 471.6,1217.1 472.9,1217.3 474.1,1216.3 475.4,1215.2 476.8,1214.0 478.2,1213.1 479.6,1212.2 481.0,1212.0 482.4,1211.6 483.7,1211.4 485.1,1209.6 486.5,1207.6 487.9,1205.7 489.4,1204.5 490.7,1203.7 492.0,1202.7 493.2,1202.3 494.3,1202.8 495.4,1203.6 496.3,1205.1 497.2,1206.6 498.1,1207.6 499.0,1207.9 500.5,1207.6 502.0,1207.0 503.5,1206.5" fill="none" stroke="#8c8c8c" stroke-width="3.0" stroke-linejoin="round" stroke-linecap="round"/>
<polyline points="513.3,1206.6 514.4,1206.2 515.5,1205.3 516.8,1205.5 518.4,1206.0 520.0,1206.3 521.4,1206.4 522.8,1207.5 524.3,1206.9 525.9,1206.0 527.4,1204.0 528.8,1203.7 530.3,1204.4 531.7,1204.1 533.2,1203.6 534.7,1202.4 536.1,1201.7 537.7,1200.7 539.2,1200.7 540.8,1200.2 542.2,1199.3 543.5,1199.4 544.6,1199.9 545.5,1201.4 546.4,1203.8 547.2,1205.9 547.8,1206.9 548.3,1207.9 548.8,1209.0 549.3,1210.3 549.8,1211.8 550.3,1213.4 550.8,1215.0 551.2,1216.5 551.7,1218.1 552.2,1219.7 552.7,1221.4 553.1,1223.2 553.5,1225.0 554.0,1226.8 554.4,1228.4 554.8,1229.9 555.3,1231.2 555.7,1232.4 556.2,1233.7 556.6,1235.1 557.1,1236.8 557.5,1238.5 558.0,1240.2 558.5,1242.0 559.0,1243.7 559.5,1245.2 560.0,1246.6 560.4,1247.5 560.9,1249.0 561.4,1250.5 561.9,1252.0 562.4,1253.5 562.9,1255.0 563.3,1256.6 563.7,1257.9 564.0,1259.3 564.4,1260.7 564.7,1262.2 565.1,1263.6 565.5,1265.1 565.8,1266.6 566.2,1268.1 566.5,1269.6 566.8,1271.2 567.2,1272.7 567.5,1274.3 567.8,1275.9 568.1,1277.6 568.4,1279.3 568.7,1281.0 569.0,1282.7 569.2,1284.4 569.5,1286.2 569.7,1287.6 569.9,1289.1 570.0,1290.5 570.2,1292.0 570.4,1293.5 570.5,1295.0 570.6,1296.6 570.8,1298.1 570.9,1299.7 571.0,1301.3 571.1,1303.0 571.2,1304.6 571.4,1306.3 571.5,1307.9 571.6,1309.6 571.6,1311.3 571.7,1313.0 571.8,1314.7 571.9,1316.5 572.0,1318.2 572.1,1319.9 572.2,1321.7 572.3,1323.4 572.3,1325.2 572.4,1326.9 572.5,1328.7 572.6,1330.4 572.7,1332.2 572.8,1333.9 572.9,1335.7 573.0,1337.4 573.1,1339.1 573.2,1340.8 573.3,1342.4 573.4,1344.0 573.5,1345.6 573.6,1347.2 573.7,1348.8 573.8,1350.3 573.9,1351.9 574.0,1353.5 574.1,1355.1 574.2,1356.6 574.3,1358.2 574.4,1359.8 574.5,1361.4 574.6,1363.0 574.7,1364.6 574.8,1366.1 574.9,1367.7 575.0,1369.3 575.1,1370.9 575.2,1372.5 575.3,1374.1 575.4,1375.8 575.5,1377.4 575.6,1379.0 575.7,1380.6 575.8,1382.3 575.9,1383.9 576.0,1385.6 576.1,1387.3 576.2,1388.9 576.3,1390.6 576.4,1392.3 576.5,1394.0 576.6,1395.7 576.6,1397.4 576.7,1399.1 576.8,1400.8 576.9,1402.5 577.0,1404.1 577.0,1405.7 577.1,1407.3 577.2,1408.9 577.3,1410.6 577.3,1412.2 577.4,1413.8 577.5,1415.5 577.5,1417.1 577.6,1418.8 577.7,1420.5 577.7,1422.2 577.8,1423.9 577.8,1425.5 577.9,1427.2 578.0,1428.9 578.0,1430.6 578.1,1432.4 578.1,1434.1 578.2,1435.8 578.3,1437.5 578.3,1439.2 578.4,1440.9 578.4,1442.6 578.5,1444.3 578.5,1446.1 578.6,1447.8 578.7,1449.5 578.7,1451.2 578.8,1452.9 578.8,1454.6 578.9,1456.3 578.9,1457.9 579.0,1459.6 579.1,1461.3 579.1,1463.0 579.2,1464.6 579.2,1466.3 579.3,1467.9 579.4,1469.5 579.4,1471.2 579.5,1472.8 579.5,1474.4 579.6,1476.0 579.7,1477.6 579.7,1479.1 579.8,1480.7 579.9,1482.4 580.0,1484.1 580.0,1485.9 580.1,1487.6 580.2,1489.3 580.3,1490.9 580.3,1492.6 580.4,1494.3 580.5,1496.0 580.6,1497.6 580.7,1499.3 580.7,1500.9 580.8,1502.6 580.9,1504.2 581.0,1505.9 581.1,1507.5 581.1,1509.1 581.2,1510.8 581.3,1512.4 581.4,1514.1 581.5,1515.7 581.6,1517.3 581.6,1519.0 581.7,1520.6 581.8,1522.3 581.9,1523.9 582.0,1525.5 582.1,1527.2 582.1,1528.8 582.2,1530.5 582.3,1532.1 582.4,1533.8 582.5,1535.4 582.6,1537.1 582.6,1538.8 582.7,1540.4 582.8,1542.1 582.9,1543.7 583.0,1545.4 583.0,1547.1 583.1,1548.8 583.2,1550.4 583.3,1552.1 583.4,1553.8 583.5,1555.4 583.5,1557.1 583.6,1558.8 583.7,1560.5 583.8,1562.1 583.9,1563.8 583.9,1565.5 584.0,1567.1 584.1,1568.8 584.2,1570.4 584.3,1572.1 584.4,1573.8 584.4,1575.4 584.5,1577.0 584.6,1578.7 584.7,1580.3 584.8,1582.0 584.9,1583.6 584.9,1585.2 585.0,1586.8 585.1,1588.4 585.2,1590.0 585.3,1591.6 585.4,1593.2 585.5,1594.8 585.5,1596.4 585.6,1597.9 585.7,1599.5 585.8,1601.1 585.9,1602.6 586.0,1604.4 586.1,1606.3 586.2,1608.2 586.3,1610.3 586.4,1612.3 586.5,1614.5 586.6,1616.6 586.7,1618.8 586.7,1620.9 586.8,1623.1 586.9,1625.3 587.0,1627.4 587.1,1629.5 587.2,1631.5 587.3,1633.5 587.4,1635.4 587.5,1637.2 587.6,1638.9 587.7,1640.5 587.8,1642.0 587.9,1643.4 588.1,1644.6 588.2,1645.7 588.3,1646.6 588.5,1647.3 588.6,1647.8 588.7,1648.2 588.9,1648.3 589.2,1648.1 589.5,1647.4 589.8,1646.4 590.1,1645.0 590.5,1643.3 590.8,1641.5 591.1,1639.5 591.4,1637.5 591.7,1635.4 592.0,1633.4 592.1,1632.3 592.3,1631.1 592.4,1629.9 592.5,1628.6 592.6,1627.3 592.7,1625.9 592.8,1624.5 592.9,1623.1 593.0,1621.6 593.1,1620.1 593.2,1618.5 593.3,1616.9 593.3,1615.3 593.4,1613.6 593.5,1611.9 593.6,1610.2 593.6,1608.5 593.7,1606.7 593.8,1604.9 593.8,1603.1 593.9,1601.3 594.0,1599.5 594.0,1597.7 594.1,1595.8 594.1,1594.0 594.2,1592.2 594.3,1590.3 594.3,1588.5 594.4,1586.6 594.5,1584.8 594.5,1582.9 594.6,1581.1 594.7,1579.3 594.8,1577.5 594.8,1575.7 594.9,1573.9 595.0,1572.1 595.1,1570.6 595.2,1569.0 595.2,1567.4 595.3,1565.8 595.4,1564.2 595.5,1562.6 595.6,1561.0 595.6,1559.4 595.7,1557.8 595.8,1556.1 595.9,1554.5 596.0,1552.9 596.1,1551.2 596.2,1549.6 596.2,1547.9 596.3,1546.3 596.4,1544.6 596.5,1542.9 596.6,1541.3 596.7,1539.6 596.8,1538.0 596.8,1536.3 596.9,1534.6 597.0,1532.9 597.1,1531.3 597.2,1529.6 597.3,1527.9 597.4,1526.2 597.4,1524.5 597.5,1522.8 597.6,1521.2 597.7,1519.5 597.8,1517.8 597.9,1516.1 597.9,1514.4 598.0,1512.8 598.1,1511.1 598.2,1509.4 598.3,1507.7 598.3,1506.1 598.4,1504.4 598.5,1502.8 598.6,1501.1 598.7,1499.5 598.7,1497.9 598.8,1496.3 598.9,1494.5 599.0,1492.8 599.0,1491.1 599.1,1489.3 599.2,1487.6 599.2,1485.9 599.3,1484.2 599.4,1482.4 599.5,1480.7 599.5,1479.0 599.6,1477.3 599.7,1475.5 599.7,1473.8 599.8,1472.1 599.9,1470.4 599.9,1468.7 600.0,1467.0 600.1,1465.3 600.1,1463.7 600.2,1462.0 600.3,1460.3 600.3,1458.6 600.4,1457.0 600.5,1455.3 600.5,1453.7 600.6,1452.0 600.6,1450.4 600.7,1448.7 600.8,1447.1 600.8,1445.5 600.9,1443.9 601.0,1442.3 601.0,1440.7 601.1,1439.2 601.2,1437.6 601.2,1436.0 601.3,1434.5 601.4,1433.0 601.4,1431.4 601.5,1429.9 601.6,1428.1 601.7,1426.4 601.7,1424.6 601.8,1422.9 601.9,1421.2 602.0,1419.5 602.0,1417.8 602.1,1416.1 602.2,1414.5 602.3,1412.8 602.3,1411.2 602.4,1409.5 602.5,1407.9 602.6,1406.3 602.6,1404.7 602.7,1403.1 602.8,1401.5 602.9,1399.9 603.0,1398.3 603.1,1396.7 603.1,1395.1 603.2,1393.5 603.3,1391.9 603.4,1390.2 603.5,1388.6 603.6,1387.0 603.7,1385.4 603.8,1383.7 603.9,1382.1 604.0,1380.4 604.1,1378.7 604.2,1377.0 604.3,1375.3 604.5,1373.6 604.6,1371.9 604.7,1370.2 604.8,1368.5 604.9,1366.8 605.0,1365.1 605.2,1363.4 605.3,1361.6 605.4,1359.9 605.5,1358.2 605.7,1356.5 605.8,1354.8 605.9,1353.1 606.1,1351.4 606.2,1349.7 606.3,1348.1 606.5,1346.5 606.6,1344.9 606.7,1343.3 606.9,1341.7 607.0,1340.2 607.2,1338.7 607.3,1337.2 607.5,1335.4 607.6,1333.6 607.8,1331.8 607.9,1330.0 608.1,1328.3 608.2,1326.5 608.4,1324.7 608.5,1323.0 608.7,1321.3 608.9,1319.7 609.0,1318.1 609.2,1316.6 609.4,1315.1 609.6,1313.7 609.9,1312.3 610.1,1311.0 610.4,1309.8 610.7,1308.7 611.3,1306.6 612.0,1304.7 612.8,1303.1 613.5,1301.9 614.2,1301.5 614.8,1301.9 615.4,1303.1 616.1,1304.7 616.7,1306.5 617.2,1308.4 617.7,1310.1 618.0,1311.2 618.2,1312.4 618.4,1313.6 618.6,1315.0 618.8,1316.4 618.9,1318.0 619.1,1319.5 619.2,1321.2 619.3,1322.9 619.4,1324.6 619.5,1326.4 619.6,1328.2 619.7,1330.0 619.7,1331.9 619.8,1333.7 619.9,1335.6 620.0,1337.4 620.1,1338.9 620.1,1340.3 620.2,1341.9 620.3,1343.4 620.3,1345.0 620.4,1346.5 620.4,1348.2 620.4,1349.8 620.5,1351.4 620.5,1353.1 620.6,1354.7 620.6,1356.4 620.6,1358.1 620.6,1359.8 620.7,1361.5 620.7,1363.2 620.7,1364.9 620.7,1366.7 620.8,1368.4 620.8,1370.1 620.8,1371.8 620.9,1373.5 620.9,1375.2 620.9,1376.9 621.0,1378.6 621.0,1380.3 621.1,1382.0 621.1,1383.7 621.2,1385.3 621.2,1387.0 621.3,1388.7 621.3,1390.4 621.4,1392.1 621.4,1393.8 621.5,1395.5 621.5,1397.2 621.6,1398.9 621.6,1400.6 621.7,1402.3 621.7,1404.1 621.8,1405.8 621.8,1407.5 621.9,1409.2 622.0,1410.9 622.0,1412.5 622.1,1414.2 622.2,1415.9 622.2,1417.5 622.3,1419.1 622.4,1420.8 622.5,1422.3 622.5,1423.9 622.6,1425.5 622.7,1427.0 622.8,1428.5 622.9,1430.0 623.0,1431.8 623.2,1433.6 623.3,1435.4 623.4,1437.2 623.6,1438.9 623.7,1440.7 623.9,1442.4 624.0,1444.1 624.2,1445.7 624.3,1447.3 624.5,1448.9 624.6,1450.5 624.8,1452.0 625.0,1453.4 625.2,1454.9 625.3,1456.2 625.5,1457.5 625.7,1458.8 626.0,1460.6 626.2,1462.5 626.5,1464.4 626.8,1466.2 627.0,1467.8 627.3,1469.0 627.7,1469.8 628.0,1470.1 628.4,1469.8 628.8,1469.0 629.3,1467.7 629.7,1466.2 630.2,1464.4 630.6,1462.5 631.1,1460.6 631.5,1458.7 631.8,1457.5 632.0,1456.1 632.3,1454.8 632.5,1453.4 632.8,1451.9 633.0,1450.4 633.3,1448.8 633.5,1447.2 633.7,1445.6 633.9,1444.0 634.1,1442.3 634.3,1440.6 634.5,1438.9 634.7,1437.1 634.9,1435.4 635.1,1433.6 635.3,1431.9 635.5,1430.1 635.6,1428.6 635.8,1427.2 635.9,1425.6 636.0,1424.1 636.2,1422.5 636.3,1420.9 636.4,1419.3 636.5,1417.7 636.6,1416.0 636.7,1414.3 636.8,1412.6 636.9,1410.9 637.0,1409.2 637.1,1407.5 637.2,1405.7 637.3,1404.0 637.4,1402.2 637.5,1400.5 637.6,1398.8 637.7,1397.0 637.8,1395.3 637.9,1393.6 637.9,1391.8 638.0,1390.1 638.1,1388.4 638.2,1386.7 638.3,1385.0 638.4,1383.4 638.5,1381.7 638.6,1380.1 638.7,1378.4 638.8,1376.8 638.8,1375.1 638.9,1373.4 639.0,1371.8 639.1,1370.1 639.2,1368.4 639.2,1366.8 639.3,1365.1 639.4,1363.4 639.5,1361.8 639.6,1360.1 639.6,1358.4 639.7,1356.8 639.8,1355.1 639.9,1353.5 640.0,1351.9 640.0,1350.2 640.1,1348.6 640.2,1347.0 640.3,1345.4 640.4,1343.9 640.4,1342.3 640.5,1340.7 640.6,1339.2 640.7,1337.6 640.8,1335.9 640.9,1334.1 641.0,1332.4 641.1,1330.6 641.2,1328.9 641.3,1327.2 641.4,1325.4 641.6,1323.7 641.7,1322.0 641.8,1320.3 641.9,1318.7 642.0,1317.0 642.1,1315.3 642.2,1313.7 642.3,1312.1 642.5,1310.5 642.6,1308.9 642.7,1307.4 642.8,1305.8 642.9,1304.3 643.0,1302.8 643.1,1301.0 643.3,1299.3 643.4,1297.7 643.5,1296.1 643.6,1294.6 643.8,1293.1 643.9,1291.6 644.0,1290.0 644.2,1288.5 644.3,1286.9 644.4,1285.2 644.5,1283.5 644.7,1281.7 644.8,1279.8 644.9,1278.5 645.0,1277.0 645.0,1275.5 645.1,1274.0 645.2,1272.3 645.2,1270.6 645.3,1268.9 645.4,1267.1 645.4,1265.3 645.5,1263.5 645.5,1261.6 645.6,1259.8 645.7,1257.9 645.7,1256.0 645.8,1254.1 645.8,1252.2 645.9,1250.4 646.0,1248.6 646.1,1246.8 646.1,1245.0 646.2,1243.3 646.3,1241.6 646.4,1240.0 646.5,1238.4 646.6,1236.9 646.7,1235.5 646.8,1234.1 647.0,1232.9 647.1,1231.7 647.2,1230.6 647.4,1229.7 647.8,1227.6 648.2,1225.6 648.6,1223.8 649.0,1222.3 649.4,1221.2 649.9,1220.8 650.3,1221.1 650.7,1222.0 651.1,1223.4 651.5,1225.0 651.9,1226.9 652.3,1229.0 652.8,1231.0 653.2,1232.8 653.6,1234.5 654.0,1236.3 654.5,1238.3 654.9,1240.4 655.4,1242.4 655.8,1244.2 656.3,1245.7 656.8,1246.7 657.3,1247.1 657.8,1246.8 658.3,1245.9 658.8,1244.5 659.3,1242.8 659.8,1241.0 660.4,1239.1 661.0,1237.4 661.6,1235.8 662.3,1234.5 663.2,1232.9 664.3,1231.1 665.4,1229.4 666.5,1228.1 667.5,1227.2 668.4,1227.1 668.9,1227.5 669.3,1228.4 669.6,1229.6 669.9,1231.1 670.1,1232.9 670.3,1234.9 670.5,1237.1 670.7,1239.3 670.9,1241.5 671.2,1243.6 671.4,1245.6 671.7,1247.4 672.0,1249.0 672.4,1250.3 672.9,1251.2 673.4,1251.7 674.5,1251.7 675.7,1251.1 677.0,1250.0 678.3,1248.9 679.6,1247.5 680.8,1245.8 681.5,1244.7 682.2,1243.6 682.8,1242.3 683.4,1241.0 684.0,1239.6 684.6,1238.1 685.2,1236.5 685.7,1235.0 686.2,1233.4 686.7,1231.8 687.2,1230.2 687.7,1228.5 688.2,1226.9 688.7,1225.1 689.1,1223.3 689.5,1221.4 689.8,1219.5 690.2,1217.6 690.5,1215.8 690.9,1214.1 691.3,1212.6 691.9,1211.4 692.5,1210.5 693.2,1210.0 694.5,1209.9 696.0,1210.5 697.5,1211.1 699.1,1211.7 700.6,1211.9 701.9,1211.5 703.1,1210.7 704.3,1209.3 705.5,1207.8 706.7,1206.7 708.0,1205.8 709.5,1205.0 711.0,1204.4 712.6,1204.3 714.1,1204.0 715.5,1203.7 717.2,1203.5 718.8,1203.0 720.4,1203.3 721.2,1204.1 722.0,1205.2 722.8,1206.4 723.5,1207.8 724.2,1209.3 724.9,1210.9 725.7,1212.4 726.4,1213.9 727.1,1215.3 727.8,1216.9 728.6,1218.8 729.3,1220.8 730.1,1222.8 730.8,1224.8 731.5,1226.8 732.3,1228.5 733.0,1229.9 733.7,1230.8 734.5,1231.5 735.2,1231.9 735.8,1231.9 736.5,1231.4 737.1,1230.4 737.7,1228.9 738.3,1227.2 738.9,1225.3 739.5,1223.4 740.1,1221.5 740.7,1219.6 741.4,1217.8 742.0,1216.1 742.7,1214.8 743.4,1213.3 744.2,1211.6 745.0,1209.6 745.8,1207.6 746.6,1205.7 747.4,1203.7 748.2,1201.8 749.0,1200.3 749.8,1199.3 750.6,1198.7 751.3,1198.5 752.0,1198.8 752.7,1199.6 753.5,1200.7 754.2,1202.0 754.9,1203.6 755.6,1205.3 756.2,1207.2 756.9,1209.1 757.5,1210.9 758.1,1212.7 758.7,1214.4 759.2,1215.9 759.6,1217.7 760.0,1219.5 760.4,1221.3 760.8,1223.2 761.1,1225.0 761.4,1226.8 761.8,1228.5 762.2,1230.1 762.6,1231.5 763.1,1232.6 763.7,1233.3 764.9,1233.8 766.2,1234.2 767.4,1234.4 768.2,1233.4 768.8,1231.5 769.3,1229.8 770.0,1229.0 770.6,1229.2 771.3,1229.9 772.1,1230.9 772.9,1232.4 773.6,1234.1 774.3,1236.0 775.0,1237.8 775.4,1239.1 775.8,1240.7 776.1,1242.5 776.4,1244.5 776.7,1246.6 777.0,1248.8 777.2,1251.0 777.5,1253.1 777.7,1255.2 778.0,1257.2 778.3,1259.0 778.5,1260.5 778.9,1261.9 779.2,1262.9 779.6,1263.6 780.0,1263.9 781.0,1263.1 782.0,1261.1 783.1,1259.4 784.0,1259.1 784.5,1259.7 784.8,1260.7 785.1,1262.2 785.4,1263.9 785.6,1265.9 785.8,1268.0 786.1,1270.1 786.4,1272.1 786.8,1273.8 787.4,1275.2 788.0,1276.2 789.3,1277.2 790.9,1277.3 792.6,1277.0 794.0,1276.7 794.8,1276.0 795.6,1274.8 796.3,1273.3 797.0,1271.7 797.6,1270.1 798.2,1268.5 798.8,1266.9 799.4,1265.4 800.0,1264.0 800.8,1262.2 801.7,1260.5 802.5,1259.0 803.3,1257.9 804.0,1257.6 804.5,1258.0 805.0,1259.0 805.4,1260.3 805.7,1262.0 806.1,1263.9 806.4,1265.9 806.7,1267.9 807.0,1269.9 807.2,1271.2 807.3,1272.6 807.5,1274.0 807.6,1275.5 807.7,1277.1 807.8,1278.7 807.9,1280.4 807.9,1282.1 808.0,1283.9 808.1,1285.6 808.1,1287.4 808.2,1289.2 808.3,1291.0 808.3,1292.8 808.4,1294.5 808.5,1296.3 808.6,1297.9 808.6,1299.6 808.8,1301.2 808.9,1302.8 809.0,1304.2 809.2,1306.0 809.3,1308.0 809.5,1310.0 809.7,1312.1 809.9,1314.2 810.1,1316.2 810.3,1318.2 810.5,1320.0 810.7,1321.7 810.9,1323.2 811.2,1324.4 811.4,1325.3 811.7,1325.9 812.0,1326.0 812.4,1325.4 812.9,1324.0 813.3,1322.0 813.8,1319.8 814.3,1317.6 814.8,1315.6 815.4,1314.2 816.0,1313.6 816.8,1314.3 817.6,1316.1 818.5,1318.2 819.3,1320.1 820.2,1321.5 820.9,1322.0 821.4,1321.6 821.9,1320.6 822.3,1319.2 822.7,1317.4 823.1,1315.4 823.5,1313.4 823.9,1311.3 824.4,1309.3 824.9,1307.7 825.6,1306.0 826.4,1304.6 827.2,1303.2 828.1,1301.9 829.0,1300.9 829.9,1300.0 830.9,1299.0 832.0,1298.0 833.0,1297.1 834.0,1296.0 834.9,1294.6 835.4,1293.5 835.7,1292.4 836.1,1291.2 836.4,1289.8 836.6,1288.3 836.9,1286.7 837.1,1285.1 837.3,1283.3 837.5,1281.6 837.6,1279.9 837.8,1278.1 838.1,1276.5 838.3,1274.9 838.6,1273.4 838.9,1272.1 839.4,1270.2 839.9,1268.3 840.3,1266.6 840.9,1264.9 841.5,1263.6 842.1,1262.7 842.9,1262.1 844.0,1261.7 845.2,1262.2 846.6,1263.6 847.8,1264.8 848.9,1265.7 849.6,1266.7 850.2,1268.0 850.6,1269.7 851.1,1271.4 851.5,1273.2 851.8,1275.0 852.2,1276.7 852.5,1278.4 852.9,1280.1 853.2,1281.5 853.5,1283.2 853.9,1285.1 854.1,1287.1 854.4,1289.1 854.7,1291.1 855.0,1293.1 855.3,1294.9 855.6,1296.5 855.9,1297.8 856.2,1298.9 856.6,1299.5 856.9,1299.8 857.3,1299.6 857.7,1298.9 858.0,1297.9 858.4,1296.6 858.9,1295.0 859.3,1293.2 859.7,1291.3 860.1,1289.4 860.6,1287.5 861.0,1285.6 861.4,1283.8 861.9,1282.2 862.4,1280.6 862.9,1279.0 863.4,1277.4 863.9,1275.8 864.5,1274.4 865.0,1272.9 865.5,1271.4 866.0,1269.9 866.5,1268.4 867.0,1266.9 867.5,1265.4 867.9,1263.8 868.2,1262.4 868.6,1260.9 868.8,1259.3 869.1,1257.7 869.4,1256.1 869.6,1254.4 869.9,1252.7 870.1,1251.0 870.3,1249.3 870.5,1247.5 870.7,1245.8 871.0,1244.2 871.2,1242.5 871.4,1240.9 871.6,1239.3 871.9,1237.7 872.2,1236.0 872.5,1234.4 872.7,1232.7 873.0,1231.1 873.3,1229.5 873.6,1227.9 873.8,1226.3 874.1,1224.8 874.4,1223.2 874.7,1221.7 875.0,1220.2 875.3,1218.7 875.6,1217.2 875.9,1215.7 876.2,1214.0 876.6,1212.1 876.9,1210.1 877.2,1208.0 877.5,1206.0 877.9,1204.2 878.2,1202.5 878.6,1201.0 879.0,1199.8 879.4,1199.1 879.9,1198.7 880.9,1199.1 882.0,1200.2 882.9,1201.8 883.3,1202.9 883.6,1204.2 883.8,1205.9 883.9,1207.7 884.1,1209.7 884.2,1211.7 884.3,1213.8 884.4,1215.7 884.6,1217.5 884.8,1219.1 885.1,1220.4 885.4,1221.3 885.9,1221.9 887.1,1221.8 888.5,1220.7 889.9,1219.9 890.9,1220.6 891.9,1222.0 892.9,1223.4 893.9,1223.9 894.9,1223.3 895.9,1222.2 896.9,1221.0 897.9,1219.9 899.2,1218.6 900.6,1217.6 901.9,1216.8 903.3,1215.4 904.7,1214.0 905.9,1213.9 906.4,1214.4 906.7,1215.3 907.1,1216.4 907.4,1217.7 907.6,1219.3 907.8,1221.0 908.0,1222.8 908.1,1224.7 908.3,1226.7 908.4,1228.6 908.6,1230.5 908.7,1232.3 908.9,1234.0 909.1,1235.5 909.2,1237.1 909.4,1238.7 909.5,1240.3 909.6,1242.0 909.7,1243.6 909.8,1245.2 910.0,1246.8 910.1,1248.4 910.2,1250.0 910.4,1251.5 910.5,1253.0 910.7,1254.4 910.9,1255.8 911.2,1257.5 911.4,1259.3 911.7,1261.2 912.0,1263.1 912.4,1264.8 912.7,1266.4 913.1,1267.6 913.5,1268.5 913.9,1268.9 914.5,1268.4 915.1,1267.3 915.8,1265.6 916.5,1263.8 917.2,1261.8 917.9,1260.0 918.7,1258.2 919.5,1256.5 920.3,1255.2 921.1,1254.4 921.8,1254.1 922.2,1254.4 922.6,1255.0 923.0,1255.9 923.4,1257.1 923.7,1258.6 924.0,1260.3 924.3,1262.1 924.6,1264.1 924.9,1266.1 925.2,1268.1 925.5,1270.0 925.8,1271.9 926.0,1273.3 926.2,1274.7 926.4,1276.3 926.6,1277.8 926.8,1279.5 927.0,1281.2 927.2,1282.9 927.3,1284.7 927.5,1286.5 927.7,1288.3 927.8,1290.2 928.0,1292.0 928.1,1293.8 928.3,1295.6 928.5,1297.4 928.6,1299.2 928.8,1300.9 928.9,1302.6 929.1,1304.2 929.3,1305.8 929.4,1307.3 929.6,1308.7 929.8,1310.0 930.1,1312.0 930.3,1314.1 930.6,1316.2 930.8,1318.4 931.1,1320.5 931.4,1322.4 931.6,1324.2 931.9,1325.7 932.2,1326.8 932.5,1327.6 932.8,1327.9 933.1,1327.4 933.4,1326.1 933.6,1324.3 933.9,1322.2 934.3,1320.1 934.7,1318.2 935.2,1316.7 935.8,1316.0 936.8,1316.1 938.1,1316.9 939.4,1317.7 940.7,1318.6 941.8,1319.9 942.7,1321.6 943.4,1323.5 944.1,1325.5 944.7,1327.3 945.2,1328.6 945.8,1329.1 946.1,1328.8 946.4,1328.1 946.6,1327.1 946.8,1325.7 947.1,1324.0 947.3,1322.1 947.5,1320.1 947.7,1317.8 947.9,1315.5 948.0,1313.1 948.2,1310.7 948.4,1308.3 948.5,1305.9 948.7,1303.7 948.8,1301.6 949.0,1299.8 949.1,1298.1 949.3,1296.8 949.5,1295.7 949.6,1295.1 949.8,1294.9 950.0,1295.0 950.1,1295.6 950.3,1296.4 950.4,1297.6 950.6,1299.0 950.7,1300.6 950.9,1302.5 951.0,1304.5 951.2,1306.7 951.3,1309.0 951.4,1311.3 951.6,1313.8 951.7,1316.2 951.9,1318.7 952.0,1321.1 952.2,1323.5 952.3,1325.8 952.5,1328.0 952.6,1330.0 952.8,1331.9 952.9,1333.5 953.1,1334.9 953.3,1336.1 953.4,1336.9 953.6,1337.4 953.8,1337.6 954.0,1337.3 954.2,1336.7 954.4,1335.6 954.7,1334.3 954.9,1332.6 955.1,1330.7 955.4,1328.7 955.6,1326.5 955.8,1324.1 956.1,1321.8 956.3,1319.3 956.6,1317.0 956.8,1314.6 957.1,1312.4 957.3,1310.3 957.6,1308.5 957.8,1306.8 958.1,1305.5 958.3,1304.5 958.6,1303.8 958.8,1303.6 959.1,1303.8 959.4,1304.4 959.7,1305.3 960.1,1306.5 960.4,1308.1 960.7,1309.8 961.0,1311.8 961.3,1313.9 961.6,1316.0 961.9,1318.2 962.2,1320.3 962.5,1322.2 962.8,1324.1 963.0,1325.4 963.2,1326.8 963.4,1328.2 963.6,1329.6 963.8,1331.1 964.0,1332.6 964.1,1334.2 964.3,1335.7 964.5,1337.3 964.7,1339.0 964.8,1340.6 965.0,1342.3 965.1,1343.9 965.3,1345.6 965.5,1347.3 965.6,1349.0 965.8,1350.7 966.0,1352.3 966.1,1354.0 966.3,1355.7 966.5,1357.3 966.6,1358.9 966.8,1360.5" fill="none" stroke="#8c8c8c" stroke-width="3.0" stroke-linejoin="round" stroke-linecap="round"/>
<polyline points="48.3,126.6 49.9,128.4 51.4,128.0 53.0,125.8 54.6,127.4 56.2,127.0 57.8,126.8 59.3,127.6 60.9,126.8 62.4,127.0 63.8,128.1 65.4,128.0 66.9,128.7 68.4,129.8 69.9,131.3 71.3,131.8 72.8,131.7 74.2,130.9 75.7,130.7 77.2,130.3 78.7,132.1 80.3,130.6 81.8,128.6 83.3,126.6 84.8,127.0 86.2,127.5 87.6,126.4 88.8,126.9 90.0,128.2 91.1,129.7 92.3,131.5 93.4,132.3 94.5,132.7 95.5,134.2 96.5,135.5 97.4,136.6 98.3,137.8 99.2,137.5 100.0,135.1 100.7,132.1 101.3,129.6 101.9,128.0 102.5,127.1 103.2,126.4 104.0,125.5 104.9,124.6 105.8,125.3 106.7,128.0 107.7,130.9 108.7,132.9 109.6,134.7 110.6,136.1 111.4,137.0 112.2,136.8 112.8,135.6 113.4,133.9 114.1,132.1 114.9,130.5 116.0,128.7 117.2,127.9 118.7,126.8 120.4,126.5 122.3,127.4 124.1,128.0 125.9,128.1 127.6,127.2 129.2,129.9 130.4,130.8 131.6,131.0 132.6,132.6 133.5,134.6 134.2,136.0 135.0,135.9 135.6,134.8 136.1,133.2 136.5,131.5 137.0,129.5 137.4,127.5 137.9,125.5 138.5,123.8 139.2,122.3 140.0,121.2 141.1,120.9 142.4,122.2 143.8,123.1 145.2,123.9 146.6,125.4 148.1,126.4 149.4,127.0 150.9,128.5 152.4,129.5 153.8,130.0 155.2,129.0 156.6,128.7 157.8,130.0 159.0,130.9 160.2,131.3 161.3,132.7 162.5,135.0 163.7,136.6 164.7,138.2 165.8,138.4 166.9,137.6 168.0,139.1 169.1,141.4 170.2,142.0 171.3,142.2 172.3,143.0 173.2,143.7 174.0,145.0 174.8,147.7 175.5,150.8 176.2,153.1 176.8,154.6 177.5,156.0 178.1,157.4 178.6,158.9 179.2,159.9 179.8,160.5 180.3,160.7 181.0,160.2 181.5,159.1 182.1,157.4 182.6,155.6 183.2,153.9 183.9,152.8 184.7,153.0 185.5,154.3 186.4,155.9 187.5,156.7 188.7,156.9 190.2,156.5 191.7,155.9 193.2,155.7 194.6,154.6 195.9,153.1 197.1,151.4 198.3,149.8 199.5,148.6 200.6,147.7 201.7,147.4 202.7,148.0 203.5,149.8 204.4,151.7 205.4,152.8 206.5,153.1 207.7,153.6 209.0,154.3 210.5,152.9 212.1,152.1 213.7,151.8 215.3,151.8 216.9,149.2 218.4,147.3 219.9,146.6 221.4,146.3 223.0,146.1 224.5,146.2 226.0,146.2 227.5,146.1 229.0,146.2 230.3,145.0 231.8,145.4 233.2,147.2 234.6,145.4 236.0,145.1 237.4,147.5 238.7,146.2 240.1,144.9 241.5,146.2 242.9,144.8 244.3,142.4 245.7,144.1 247.0,144.3 248.4,143.1 249.8,143.0 251.1,142.8 252.5,141.2 254.0,140.1 255.3,139.2 256.8,141.2 258.3,141.2 259.8,140.0 261.4,139.1 262.9,139.9 264.5,140.7 266.0,140.4 267.5,140.3 269.1,139.9 270.7,139.0 272.3,138.8 273.9,139.4 275.3,140.0 276.7,139.4 277.9,138.8 279.2,137.4 280.3,137.0 281.4,137.0 282.6,137.1 283.9,137.8 285.4,138.4 286.8,138.8 288.3,138.8 289.8,138.9 291.2,138.6 292.5,138.0 293.9,137.1 295.3,136.4 296.9,136.0 298.3,136.5 299.8,136.8 301.4,136.3 303.1,138.4 304.8,139.0 306.5,139.4 308.2,139.4 309.7,138.1 311.2,138.2 312.7,138.4 314.1,137.9 315.4,136.8 316.7,135.2 317.9,135.7 319.3,136.2 320.7,135.4 322.1,135.0 323.6,134.8 325.1,135.7 326.6,135.7 328.1,135.4 329.6,135.9 331.1,136.6 332.6,137.0 334.1,137.2 335.6,136.4 337.1,135.2 338.5,132.7 340.0,132.6 341.5,132.6 343.0,132.6 344.5,131.8 346.0,131.5 347.4,131.8 348.9,131.9 350.4,131.6 351.9,129.9 353.4,130.2 354.9,130.5 356.4,131.0 357.9,131.9 359.4,131.6 360.9,130.2 362.4,131.4 363.8,131.5 365.3,131.1 366.8,130.1 368.3,129.9 369.8,129.8 371.3,130.3 372.7,129.9 374.2,129.2 375.7,127.7 377.1,127.8 378.6,128.5 380.1,126.7 381.6,126.7 383.1,127.2 384.6,129.0 386.1,129.2 387.5,129.2 389.0,128.0 390.5,128.0 392.0,128.0 393.5,128.5 395.1,128.5 396.7,128.0 398.3,127.0 399.9,127.0 401.3,126.3 402.7,125.7 403.9,125.9 405.3,126.4 406.4,126.9 407.4,127.7 408.7,128.2 409.9,128.8 411.2,129.6 412.6,130.3 414.1,131.0 415.5,131.8 416.9,133.0 418.2,134.3 419.3,134.1 420.4,134.6 421.4,135.4 422.3,136.3 423.3,138.1 424.3,140.2 425.3,140.8 426.8,140.7 428.3,141.9 429.9,142.3 431.3,141.7 432.3,142.2 433.3,142.1 434.1,140.2 435.1,137.8 436.1,136.1 437.2,135.1 438.4,134.5 439.7,135.0 441.0,134.0 442.5,132.9 443.9,131.8 445.3,132.2 446.7,133.3 448.1,132.5 449.5,132.9 450.9,133.8 452.4,136.1 453.7,137.5 455.1,137.7 456.3,137.7 457.4,137.2 458.4,135.9 459.3,133.8 460.2,132.5 461.2,132.1 462.2,131.5 463.4,130.2 464.7,129.5 466.1,129.7 467.7,128.6 469.3,128.1 470.9,128.9 472.4,128.8 473.9,128.1 475.3,127.1 476.8,127.2 478.2,126.9 479.5,126.6 480.8,126.5 482.4,126.4 483.8,126.2 485.5,125.9 487.2,124.9 489.1,124.3 490.9,125.6 492.7,126.1 494.3,125.0 495.6,125.0 496.7,125.9 498.0,126.8 499.0,128.0 500.5,127.3 502.0,127.5" fill="none" stroke="#343434" stroke-width="3.0" stroke-linejoin="round" stroke-linecap="round"/>
<polyline points="512.0,128.1 513.2,127.9 514.4,127.6 515.5,127.3 516.7,126.8 518.0,125.5 519.1,125.1 520.3,124.8 521.8,124.1 523.3,123.2 524.8,123.5 526.3,123.1 527.6,122.0 529.1,122.3 530.6,123.1 532.0,123.8 533.4,124.7 534.8,125.4 536.2,126.4 537.6,127.7 539.0,127.9 540.4,128.0 541.9,127.3 543.2,127.7 544.6,128.6 546.0,128.7 547.4,128.8 548.8,129.5 550.1,130.2 551.4,130.8 552.5,131.7 553.5,133.1 554.5,134.5 555.4,135.5 556.3,136.4 557.2,137.8 558.1,139.2 559.0,140.7 560.0,142.3 560.9,143.9 561.8,145.3 562.8,146.3 563.7,147.3 564.7,148.7 565.6,150.3 566.6,151.7 567.5,153.5 568.5,155.4 569.4,156.4 570.4,156.5 571.4,157.2 572.4,158.4 573.4,159.6 574.4,161.1 575.4,163.2 576.4,164.5 577.3,164.8 578.3,165.4 579.2,166.8 580.0,168.3 580.7,169.8 581.3,171.3 581.8,173.1 582.3,175.1 582.8,176.9 583.3,178.6 583.7,180.2 584.2,181.6 584.7,183.0 585.2,184.3 585.8,185.7 586.4,186.8 587.1,187.7 588.0,188.7 589.0,189.8 590.0,190.7 591.1,191.8 592.2,193.1 593.3,194.2 594.4,195.2 595.5,196.2 596.6,197.7 597.8,199.3 599.0,200.7 600.2,202.1 601.5,203.0 602.7,203.9 603.9,204.9 605.0,205.5 606.1,205.6 607.1,205.3 608.1,204.5 609.0,203.4 609.9,202.1 610.8,200.6 611.7,199.1 612.5,197.6 613.3,196.1 613.9,194.9 614.5,193.6 615.1,191.9 615.7,189.8 616.2,187.8 616.8,186.0 617.3,184.5 617.8,183.1 618.3,181.7 618.8,180.3 619.4,178.8 619.9,177.2 620.4,175.6 620.9,174.1 621.4,172.6 621.9,171.1 622.4,169.7 622.9,168.4 623.4,167.1 623.9,165.6 624.4,164.1 624.9,162.4 625.4,160.8 626.0,159.2 626.5,157.7 627.0,156.1 627.5,154.5 628.0,152.9 628.5,151.2 629.0,149.5 629.4,148.0 629.9,146.6 630.4,145.2 630.8,143.8 631.4,142.3 631.9,140.7 632.5,139.0 633.2,137.5 633.9,136.3 634.7,135.3 636.1,134.0 637.6,133.3 639.3,133.0 641.0,132.9 642.7,133.2 644.2,133.5 645.3,134.0 646.4,134.8 647.5,135.8 648.5,137.0 649.5,138.1 650.5,139.4 651.6,141.1 652.6,142.6 653.7,143.7 654.8,144.7 656.0,145.6 657.2,146.4 658.3,147.5 659.5,148.9 660.7,149.6 662.0,149.8 663.2,150.7 664.7,152.3 666.3,152.9 667.9,153.1 669.5,152.6 671.1,153.5 672.7,153.6 674.1,152.8 675.5,152.2 676.8,151.5 678.2,150.8 679.5,149.9 680.9,149.1 682.2,148.2 683.4,147.6 684.6,146.7 685.8,145.7 687.0,144.5 688.2,142.9 689.4,141.9 690.5,141.4 691.7,140.4 692.8,139.1 693.8,137.7 694.8,136.1 695.9,134.5 696.9,133.5 697.9,132.9 699.0,131.8 700.1,130.6 701.3,129.7 702.7,129.5 704.1,128.4 705.6,126.9 707.1,127.0 708.7,126.6 710.2,125.6 711.7,124.7 713.2,124.2 714.8,125.3 716.5,124.8 718.1,124.6 719.7,125.4 721.2,125.3 722.7,125.3 724.0,125.7 725.3,126.5 726.5,128.7 727.7,129.7 728.8,129.4 729.8,130.0 730.7,131.3 731.4,132.7 732.1,134.1 732.8,135.6 733.4,137.3 734.0,139.0 734.6,140.9 735.0,142.9 735.5,144.2 735.9,145.6 736.3,147.0 736.8,148.5 737.2,150.1 737.6,151.7 738.0,153.3 738.4,155.0 738.9,156.7 739.3,158.4 739.7,160.2 740.1,161.9 740.5,163.7 740.9,165.5 741.3,167.2 741.7,169.0 742.0,170.5 742.3,171.9 742.7,173.4 743.0,174.9 743.3,176.4 743.6,178.0 743.9,179.5 744.2,181.1 744.5,182.6 744.8,184.2 745.1,185.8 745.4,187.4 745.7,189.0 746.0,190.6 746.3,192.2 746.6,193.8 746.9,195.5 747.2,197.1 747.4,198.7 747.7,200.4 748.0,202.0 748.3,203.7 748.5,205.3 748.8,207.0 749.0,208.5 749.3,210.1 749.5,211.7 749.8,213.2 750.0,214.8 750.2,216.4 750.5,218.0 750.7,219.5 750.9,221.1 751.2,222.7 751.4,224.3 751.6,226.0 751.8,227.6 752.1,229.2 752.3,230.8 752.5,232.4 752.7,234.1 752.9,235.7 753.1,237.3 753.3,239.0 753.5,240.6 753.7,242.3 753.9,243.9 754.1,245.6 754.3,247.2 754.5,248.9 754.6,250.5 754.8,252.2 755.0,253.8 755.1,255.5 755.2,257.3 755.3,259.2 755.5,261.2 755.6,263.2 755.7,265.2 755.8,267.3 755.8,269.5 755.9,271.6 756.0,273.7 756.1,275.9 756.1,278.0 756.2,280.1 756.3,282.1 756.4,284.2 756.5,286.1 756.5,288.0 756.6,289.9 756.7,291.6 756.8,293.2 756.9,294.8 757.0,296.2 757.2,297.5 757.3,298.7 757.5,299.7 757.6,300.5 757.8,301.2 758.0,301.7 758.2,302.1 758.4,302.2 758.8,301.8 759.3,300.6 759.8,298.9 760.4,296.8 761.0,294.6 761.5,292.5 762.1,290.7 762.6,289.5 763.1,289.1 763.5,289.3 763.9,289.9 764.3,290.9 764.7,292.1 765.0,293.6 765.4,295.3 765.7,297.2 766.1,299.2 766.5,301.2 766.8,303.3 767.2,305.4 767.5,307.4 767.9,309.3 768.2,310.6 768.4,312.0 768.7,313.4 769.0,314.9 769.3,316.4 769.5,317.9 769.8,319.5 770.1,321.1 770.4,322.7 770.7,324.4 771.0,326.0 771.3,327.7 771.5,329.4 771.8,331.1 772.1,332.8 772.4,334.5 772.6,336.2 772.9,337.9 773.2,339.6 773.4,341.2 773.7,342.9 773.9,344.5 774.2,346.1 774.4,347.7 774.6,349.2 774.8,350.7 775.0,352.1 775.2,353.9 775.5,355.6 775.7,357.3 775.8,358.9 776.0,360.5 776.2,362.0 776.3,363.6 776.5,365.1 776.6,366.6 776.8,368.2 776.9,369.7 777.1,371.3 777.2,373.0 777.4,374.6 777.5,376.3 777.7,378.1 777.9,380.0 778.0,381.4 778.2,382.8 778.3,384.3 778.5,385.8 778.6,387.3 778.8,388.8 778.9,390.3 779.1,391.9 779.3,393.5 779.4,395.1 779.6,396.7 779.8,398.4 779.9,400.0 780.1,401.7 780.3,403.4 780.4,405.1 780.6,406.8 780.8,408.5 780.9,410.2 781.1,411.9 781.3,413.6 781.4,415.4 781.6,417.1 781.8,418.8 782.0,420.6 782.1,422.3 782.3,424.1 782.5,425.8 782.6,427.5 782.8,429.3 782.9,431.0 783.1,432.7 783.2,434.3 783.4,435.8 783.5,437.4 783.7,439.0 783.8,440.6 784.0,442.2 784.1,443.8 784.2,445.4 784.4,447.0 784.5,448.6 784.7,450.2 784.8,451.8 784.9,453.4 785.1,455.0 785.2,456.7 785.4,458.3 785.5,459.9 785.6,461.6 785.8,463.2 785.9,464.8 786.0,466.5 786.2,468.1 786.3,469.8 786.5,471.4 786.6,473.0 786.7,474.7 786.9,476.3 787.0,478.0 787.2,479.6 787.3,481.3 787.4,482.9 787.6,484.5 787.7,486.2 787.8,487.8 788.0,489.4 788.1,491.1 788.3,492.7 788.4,494.3 788.5,495.9 788.7,497.5 788.8,499.2 788.9,500.8 789.1,502.4 789.2,504.1 789.3,505.7 789.5,507.3 789.6,509.0 789.7,510.6 789.9,512.3 790.0,513.9 790.1,515.5 790.3,517.2 790.4,518.8 790.5,520.4 790.6,522.1 790.8,523.7 790.9,525.4 791.0,527.0 791.2,528.6 791.3,530.3 791.4,531.9 791.6,533.5 791.7,535.1 791.9,536.7 792.0,538.4 792.1,540.0 792.3,541.6 792.4,543.2 792.6,544.8 792.7,546.4 792.9,548.0 793.0,549.5 793.2,551.1 793.4,552.7 793.5,554.2 793.7,555.8 793.9,557.5 794.1,559.2 794.3,561.0 794.5,562.7 794.7,564.4 794.9,566.1 795.1,567.9 795.3,569.6 795.5,571.3 795.7,573.0 796.0,574.7 796.2,576.5 796.4,578.2 796.6,579.9 796.9,581.6 797.1,583.3 797.3,584.9 797.5,586.6 797.8,588.3 798.0,589.9 798.2,591.5 798.5,593.2 798.7,594.8 798.9,596.4 799.1,597.9 799.4,599.5 799.6,601.1 799.8,602.6 800.0,604.1 800.3,605.6 800.5,607.1 800.7,608.5 801.0,610.3 801.2,612.1 801.5,613.8 801.8,615.6 802.0,617.3 802.3,619.1 802.6,620.8 802.8,622.5 803.1,624.2 803.3,625.8 803.6,627.4 803.9,629.0 804.1,630.5 804.4,632.0 804.7,633.5 804.9,634.9 805.2,636.3 805.5,637.7 805.7,639.0 806.0,640.2 806.4,642.0 806.9,643.6 807.3,645.1 807.7,646.5 808.2,647.9 808.6,649.3 809.0,650.8 809.5,652.5 809.8,653.8 810.2,655.2 810.5,656.7 810.8,658.2 811.2,659.8 811.5,661.4 811.9,663.0 812.2,664.6 812.6,666.3 812.9,667.9 813.3,669.4 813.6,671.0 814.0,672.5 814.4,673.9 814.8,675.3 815.3,676.9 815.7,678.6 816.2,680.2 816.7,681.9 817.1,683.5 817.6,685.0 818.2,686.3 818.7,687.5 819.3,688.6 820.0,689.4 821.4,690.6 823.0,691.3 824.4,691.1 824.9,690.7 825.3,690.1 825.6,689.2 826.0,688.2 826.3,687.0 826.5,685.6 826.8,684.1 827.0,682.4 827.2,680.7 827.3,678.8 827.5,676.9 827.7,674.9 827.8,672.9 828.0,670.9 828.1,668.9 828.3,666.9 828.4,665.0 828.6,663.0 828.8,661.2 829.0,659.8 829.1,658.3 829.3,656.8 829.4,655.3 829.6,653.7 829.7,652.2 829.9,650.6 830.0,649.0 830.1,647.3 830.3,645.7 830.4,644.0 830.5,642.3 830.7,640.6 830.8,638.9 830.9,637.2 831.1,635.5 831.2,633.8 831.3,632.0 831.5,630.3 831.6,628.6 831.7,626.8 831.8,625.1 832.0,623.4 832.1,621.7 832.2,620.0 832.4,618.3 832.5,616.6 832.6,615.0 832.8,613.3 832.9,611.7 833.1,610.1 833.2,608.5 833.4,606.8 833.5,605.1 833.7,603.3 833.8,601.6 834.0,599.8 834.1,598.1 834.3,596.3 834.4,594.6 834.6,592.8 834.7,591.1 834.9,589.3 835.1,587.6 835.2,585.9 835.4,584.2 835.5,582.5 835.7,580.9 835.9,579.2 836.0,577.6 836.2,576.0 836.4,574.5 836.5,572.9 836.7,571.4 836.9,570.0 837.1,568.6 837.2,567.2 837.4,565.9 837.6,564.6 837.9,562.7 838.2,561.0 838.5,559.3 838.8,557.8 839.1,556.3 839.4,554.8 839.7,553.3 840.1,551.8 840.4,550.3 840.8,548.7 841.1,547.0 841.4,545.6 841.7,544.2 842.0,542.7 842.3,541.3 842.6,539.8 842.9,538.4 843.3,536.9 843.6,535.3 843.9,533.8 844.2,532.2 844.6,530.6 844.9,529.0 845.2,527.4 845.5,525.7 845.8,524.1 846.1,522.3 846.4,520.6 846.6,519.2 846.8,517.7 847.1,516.2 847.3,514.7 847.5,513.2 847.7,511.7 847.9,510.1 848.1,508.5 848.3,507.0 848.5,505.3 848.7,503.7 848.9,502.1 849.1,500.4 849.3,498.8 849.5,497.1 849.7,495.4 849.9,493.7 850.1,492.1 850.3,490.4 850.5,488.7 850.6,486.9 850.8,485.2 851.0,483.5 851.2,481.8 851.4,480.1 851.5,478.4 851.7,476.7 851.9,475.1 852.0,473.5 852.2,471.9 852.3,470.3 852.5,468.7 852.6,467.1 852.8,465.4 852.9,463.8 853.1,462.1 853.2,460.4 853.3,458.8 853.5,457.1 853.6,455.4 853.8,453.7 853.9,452.0 854.0,450.4 854.2,448.7 854.3,447.0 854.4,445.3 854.6,443.6 854.7,442.0 854.8,440.3 854.9,438.6 855.1,437.0 855.2,435.3 855.3,433.7 855.5,432.0 855.6,430.4 855.7,428.8 855.8,427.2 856.0,425.6 856.1,424.0 856.2,422.3 856.4,420.6 856.5,419.0 856.7,417.3 856.8,415.7 856.9,414.0 857.1,412.4 857.2,410.8 857.3,409.2 857.5,407.6 857.6,406.0 857.7,404.4 857.9,402.8 858.0,401.2 858.1,399.6 858.3,398.0 858.4,396.4 858.5,394.8 858.6,393.2 858.8,391.6 858.9,389.9 859.0,388.3 859.1,386.7 859.2,385.0 859.4,383.4 859.5,381.7 859.6,380.0 859.7,378.5 859.8,376.9 859.9,375.3 860.0,373.8 860.1,372.2 860.2,370.7 860.3,369.1 860.3,367.5 860.4,366.0 860.5,364.4 860.6,362.8 860.7,361.2 860.7,359.7 860.8,358.1 860.9,356.5 861.0,354.9 861.1,353.3 861.1,351.6 861.2,350.0 861.3,348.4 861.4,346.8 861.5,345.1 861.6,343.5 861.7,341.9 861.8,340.2 861.8,338.5 861.9,336.9 862.0,335.2 862.2,333.5 862.3,331.8 862.4,330.1 862.5,328.4 862.6,326.9 862.7,325.3 862.8,323.8 863.0,322.2 863.1,320.7 863.2,319.1 863.3,317.5 863.4,315.9 863.6,314.3 863.7,312.7 863.8,311.1 864.0,309.5 864.1,307.9 864.3,306.3 864.4,304.7 864.5,303.0 864.7,301.4 864.8,299.7 865.0,298.1 865.1,296.5 865.3,294.8 865.4,293.2 865.6,291.5 865.7,289.8 865.9,288.2 866.0,286.5 866.1,284.9 866.3,283.2 866.4,281.6 866.6,279.9 866.7,278.2 866.9,276.6 867.0,274.9 867.2,273.3 867.3,271.6 867.5,270.0 867.6,268.3 867.8,266.7 867.9,265.1 868.1,263.4 868.2,261.8 868.3,260.2 868.5,258.5 868.6,256.9 868.8,255.2 868.9,253.6 869.0,251.9 869.2,250.2 869.3,248.5 869.5,246.8 869.6,245.1 869.7,243.5 869.9,241.8 870.0,240.1 870.2,238.4 870.3,236.7 870.4,235.0 870.6,233.3 870.7,231.6 870.9,229.9 871.0,228.2 871.1,226.5 871.3,224.9 871.4,223.2 871.6,221.5 871.7,219.9 871.9,218.2 872.0,216.6 872.1,215.0 872.3,213.4 872.4,211.8 872.6,210.2 872.7,208.6 872.8,207.0 873.0,205.5 873.1,203.9 873.3,202.4 873.4,200.9 873.6,199.4 873.7,198.0 873.9,196.5 874.0,195.1 874.2,193.3 874.4,191.5 874.5,189.7 874.7,187.9 874.9,186.0 875.1,184.2 875.3,182.4 875.5,180.7 875.6,178.9 875.8,177.2 876.0,175.4 876.2,173.7 876.4,172.1 876.5,170.4 876.7,168.8 876.9,167.2 877.1,165.7 877.3,164.2 877.5,162.8 877.7,161.4 877.9,160.0 878.1,158.7 878.3,157.5 878.5,156.3 878.7,155.2 879.1,153.1 879.5,151.1 879.9,149.1 880.4,147.4 880.8,146.0 881.2,145.0 881.6,144.7 882.0,145.0 882.3,145.8 882.7,147.1 883.1,148.8 883.4,150.7 883.8,152.8 884.1,154.9 884.4,157.1 884.5,158.2 884.7,159.3 884.8,160.5 884.9,161.7 885.0,163.1 885.2,164.4 885.3,165.8 885.4,167.3 885.5,168.8 885.6,170.4 885.7,172.0 885.7,173.6 885.8,175.2 885.9,176.9 886.0,178.6 886.1,180.4 886.1,182.1 886.2,183.9 886.3,185.7 886.3,187.5 886.4,189.3 886.5,191.2 886.5,193.0 886.6,194.8 886.7,196.7 886.7,198.5 886.8,200.3 886.9,202.1 886.9,203.9 887.0,205.7 887.0,207.4 887.1,209.2 887.2,210.9 887.2,212.6 887.3,214.2 887.4,215.8 887.4,217.5 887.5,219.1 887.6,220.7 887.6,222.3 887.7,223.9 887.8,225.5 887.8,227.1 887.9,228.8 887.9,230.4 888.0,232.0 888.1,233.6 888.1,235.2 888.2,236.8 888.2,238.4 888.3,240.0 888.3,241.6 888.4,243.2 888.5,244.8 888.5,246.5 888.6,248.1 888.6,249.7 888.7,251.3 888.7,253.0 888.8,254.6 888.8,256.2 888.9,257.9 888.9,259.5 888.9,261.2 889.0,262.9 889.0,264.5 889.1,266.2 889.1,267.9 889.2,269.6 889.2,271.3 889.2,272.9 889.3,274.4 889.3,276.0 889.3,277.6 889.4,279.3 889.4,280.9 889.4,282.5 889.5,284.1 889.5,285.8 889.5,287.5 889.5,289.1 889.6,290.8 889.6,292.5 889.6,294.1 889.6,295.8 889.6,297.5 889.7,299.2 889.7,300.9 889.7,302.6 889.7,304.2 889.7,305.9 889.8,307.6 889.8,309.3 889.8,311.0 889.8,312.7 889.8,314.3 889.9,316.0 889.9,317.7 889.9,319.3 889.9,321.0 889.9,322.6 889.9,324.3 890.0,325.9 890.0,327.5 890.0,329.1 890.0,330.7 890.0,332.3 890.0,333.9 890.0,335.4 890.1,337.0 890.1,338.5 890.1,340.0 890.1,341.8 890.1,343.6 890.1,345.6 890.1,347.6 890.1,349.6 890.2,351.7 890.1,353.8 890.1,355.9 890.1,358.1 890.1,360.2 890.1,362.4 890.1,364.5 890.1,366.6 890.1,368.7 890.1,370.7 890.1,372.7 890.1,374.6 890.1,376.5 890.1,378.3 890.1,379.9 890.1,381.5 890.2,383.0 890.2,384.4 890.2,385.6 890.2,386.7 890.3,387.7 890.3,388.5 890.4,389.1 890.5,389.6 890.5,389.9 890.6,390.0 890.8,389.4 891.0,387.8 891.2,385.8 891.5,383.8 891.7,382.2 892.0,381.6 892.3,382.0 892.5,383.0 892.8,384.5 893.1,386.4 893.4,388.6 893.7,390.8 893.9,393.0 894.0,394.2 894.1,395.5 894.2,396.8 894.3,398.2 894.4,399.6 894.5,401.2 894.6,402.7 894.6,404.3 894.7,406.0 894.8,407.7 894.8,409.4 894.9,411.2 895.0,412.9 895.0,414.7 895.1,416.5 895.1,418.4 895.2,420.2 895.2,422.0 895.3,423.8 895.3,425.6 895.4,427.4 895.5,429.2 895.5,431.0 895.6,432.7 895.7,434.3 895.7,436.1 895.8,437.9 895.9,439.9 895.9,441.9 896.0,443.9 896.1,446.0 896.1,448.2 896.2,450.4 896.2,452.5 896.3,454.7 896.4,456.9 896.4,459.0 896.5,461.1 896.6,463.1 896.6,465.0 896.7,466.9 896.8,468.7 896.8,470.4 896.9,471.9 897.0,473.3 897.0,474.6 897.1,475.7 897.1,476.6 897.2,477.4 897.3,477.9 897.3,478.3 897.4,478.4 897.5,478.3 897.5,478.0 897.6,477.4 897.6,476.7 897.7,475.8 897.7,474.7 897.8,473.5 897.8,472.1 897.9,470.6 897.9,469.0 898.0,467.2 898.1,465.4 898.1,463.5 898.2,461.5 898.2,459.4 898.3,457.3 898.3,455.2 898.4,453.0 898.4,450.8 898.5,448.7 898.6,446.5 898.6,444.4 898.7,442.3 898.8,440.2 898.9,438.2 898.9,436.3 899.0,434.4 899.1,432.7 899.2,431.1 899.3,429.5 899.4,427.9 899.5,426.2 899.6,424.5 899.7,422.9 899.8,421.2 899.9,419.5 900.0,417.8 900.1,416.1 900.3,414.4 900.4,412.7 900.5,410.9 900.6,409.2 900.8,407.5 900.9,405.8 901.0,404.1 901.1,402.4 901.3,400.7 901.4,399.0 901.5,397.3 901.6,395.7 901.8,394.0 901.9,392.4 902.0,390.8 902.1,389.2 902.2,387.6 902.3,386.0 902.4,384.5 902.5,383.0 902.6,381.5 902.7,380.0 902.8,378.2 902.9,376.4 903.0,374.6 903.0,372.9 903.1,371.1 903.1,369.4 903.1,367.7 903.2,366.0 903.2,364.4 903.2,362.7 903.3,361.1 903.3,359.5 903.4,357.9 903.5,356.4 903.6,354.8 903.7,353.3 903.8,351.8 904.0,350.3 904.2,348.8 904.4,347.4 904.7,345.7 905.0,344.0 905.4,342.2 905.7,340.5 906.1,338.8 906.5,337.1 907.0,335.5 907.4,333.9 907.9,332.4 908.3,331.0 908.8,329.6 909.2,328.4 909.7,327.3 910.1,326.4 911.1,325.0 912.1,323.9 913.0,322.6 913.4,321.5 913.8,320.1 914.0,318.7 914.3,317.1 914.5,315.4 914.8,313.7 915.1,312.1 915.4,310.6 915.8,309.3 916.4,307.9 917.0,306.7 917.7,305.5 918.4,304.3 919.0,303.1 919.6,301.7 920.0,300.3 920.4,298.5 920.7,296.6 921.1,294.6 921.4,292.7 921.6,291.0 921.9,289.6 922.2,288.7 922.5,288.4 922.7,288.6 922.9,289.2 923.1,290.2 923.2,291.5 923.4,293.0 923.6,294.8 923.8,296.9 923.9,299.0 924.1,301.3 924.2,303.7 924.4,306.2 924.6,308.7 924.7,311.1 924.9,313.5 925.0,315.8 925.2,318.0 925.3,320.0 925.5,321.8 925.6,323.4 925.8,324.6 926.0,325.6 926.1,326.2 926.3,326.4 926.4,326.3 926.6,326.0 926.7,325.6 926.9,325.0 927.0,324.2 927.1,323.3 927.3,322.2 927.4,321.0 927.6,319.7 927.7,318.3 927.8,316.8 928.0,315.1 928.1,313.4 928.3,311.6 928.4,309.7 928.6,307.8 928.7,305.8 928.8,303.8 929.0,301.7 929.1,299.6 929.3,297.4 929.4,295.3 929.5,293.1 929.7,290.9 929.8,288.8 930.0,286.7 930.1,284.6 930.2,282.5 930.4,280.5 930.5,278.5 930.6,276.6 930.7,274.7 930.9,273.0 931.0,271.3 931.1,269.7 931.2,268.1 931.4,266.5 931.5,264.8 931.6,263.2 931.7,261.6 931.8,260.0 931.9,258.4 932.1,256.8 932.2,255.2 932.3,253.6 932.4,252.0 932.5,250.4 932.6,248.7 932.7,247.1 932.8,245.5 932.9,243.9 933.0,242.3 933.1,240.7 933.2,239.0 933.3,237.4 933.4,235.8 933.5,234.1 933.7,232.5 933.8,230.9 933.9,229.2 934.0,227.6 934.1,225.9 934.2,224.3 934.3,222.6 934.4,220.9 934.5,219.3 934.6,217.6 934.7,215.9 934.8,214.2 934.9,212.6 935.0,210.9 935.1,209.2 935.2,207.3 935.3,205.5 935.4,203.5 935.5,201.5 935.6,199.5 935.6,197.4 935.7,195.3 935.8,193.2 935.9,191.1 936.0,188.9 936.1,186.8 936.2,184.6 936.3,182.4 936.4,180.3 936.4,178.2 936.5,176.0 936.6,174.0 936.7,171.9 936.8,169.9 936.9,168.0 937.0,166.1 937.1,164.2 937.2,162.4 937.3,160.7 937.4,159.1 937.4,157.5 937.5,156.1 937.6,154.7 937.7,153.5 937.8,152.3 937.9,151.3 938.0,150.3 938.2,149.5 938.3,148.9 938.4,148.3 938.5,147.9 938.6,147.7 938.7,147.6 939.0,148.3 939.3,150.1 939.7,152.3 940.0,154.6 940.3,156.4 940.6,157.1 940.7,156.9 940.9,156.2 941.0,155.1 941.1,153.7 941.2,152.0 941.3,150.1 941.4,147.9 941.4,145.7 941.5,143.3 941.6,140.9 941.7,138.5 941.7,136.1 941.8,133.8 941.9,131.7 942.0,129.8 942.1,128.1 942.2,126.7 942.3,125.6 942.4,124.9 942.5,124.7 942.7,125.0 942.9,126.0 943.1,127.4 943.3,129.2 943.5,131.4 943.7,133.7 943.9,136.2 944.2,138.6 944.4,140.9 944.6,143.1 944.8,144.9 945.0,146.3 945.2,147.3 945.3,147.6 945.4,147.3 945.5,146.3 945.6,144.9 945.7,143.0 945.8,140.9 945.9,138.6 945.9,136.1 946.0,133.7 946.0,131.4 946.1,129.2 946.1,127.4 946.2,126.0 946.2,125.0 946.3,124.7 946.3,124.9 946.4,125.3 946.4,126.1 946.4,127.2 946.5,128.5 946.5,130.0 946.5,131.7 946.5,133.6 946.6,135.6 946.6,137.8 946.6,140.0 946.6,142.4 946.6,144.8 946.6,147.3 946.7,149.7 946.7,152.2 946.7,154.6 946.7,156.9 946.8,159.2 946.8,161.4 946.8,163.4 946.8,165.3 946.9,167.0 946.9,168.5 947.0,169.8 947.0,170.9 947.1,171.6 947.1,172.1 947.2,172.3 947.3,172.1 947.4,171.4 947.5,170.4 947.6,169.1 947.8,167.5 947.9,165.7 948.0,163.8 948.2,161.7 948.3,159.5 948.5,157.3 948.6,155.2 948.8,153.2 948.9,151.2 949.1,149.5 949.3,147.8 949.5,145.8 949.7,143.8 949.9,141.6 950.1,139.4 950.3,137.3 950.6,135.2 950.8,133.2 951.0,131.4 951.2,129.8 951.4,128.5 951.6,127.5 951.8,126.8 952.0,126.6 952.2,126.8 952.3,127.4 952.5,128.3 952.6,129.5 952.8,131.0 952.9,132.7 953.0,134.5 953.2,136.5 953.3,138.7 953.4,140.8 953.5,143.1 953.7,145.3 953.8,147.4 953.9,149.5 954.0,150.8 954.0,152.3 954.1,153.8 954.2,155.5 954.2,157.3 954.3,159.1 954.3,161.0 954.4,163.0 954.5,165.1 954.5,167.2 954.6,169.3 954.6,171.5 954.7,173.7 954.7,175.9 954.8,178.1 954.8,180.3 954.8,182.5 954.9,184.7 954.9,186.8 955.0,188.9 955.0,190.9 955.1,192.9 955.1,194.7 955.2,196.6 955.2,198.3 955.3,199.9 955.3,201.4 955.4,202.8 955.4,204.1 955.5,205.2 955.5,206.2 955.6,207.0 955.6,207.6 955.7,208.1 955.7,208.4 955.8,208.5 955.9,208.3 956.0,207.6 956.1,206.5 956.2,205.1 956.3,203.4 956.4,201.5 956.5,199.4 956.6,197.1 956.7,194.7 956.8,192.3 956.9,189.9 957.0,187.5 957.1,185.2 957.2,183.1 957.2,181.2 957.3,179.5 957.4,178.1 957.5,177.0 957.6,176.3 957.7,176.1 957.8,176.2 957.8,176.6 957.9,177.1 957.9,177.8 958.0,178.8 958.0,179.9 958.1,181.2 958.1,182.6 958.2,184.2 958.2,185.9 958.3,187.7 958.3,189.7 958.3,191.7 958.4,193.9 958.4,196.1 958.5,198.3 958.5,200.7 958.6,203.1 958.6,205.5 958.6,207.9 958.7,210.3 958.7,212.8 958.8,215.2 958.8,217.6 958.8,220.0 958.9,222.3 958.9,224.6 959.0,226.8 959.0,229.0 959.1,231.0 959.1,233.0 959.1,234.8 959.2,236.5 959.2,238.1 959.3,239.5 959.3,240.8 959.4,241.9 959.4,242.9 959.5,243.6 959.5,244.1 959.6,244.5 959.6,244.6 959.7,244.2 959.9,243.0 960.0,241.3 960.1,239.3 960.2,237.1 960.4,235.0 960.5,233.2" fill="none" stroke="#343434" stroke-width="3.0" stroke-linejoin="round" stroke-linecap="round"/>
<polyline points="48.3,641.3 49.9,641.4 51.4,641.0 53.0,640.5 54.6,641.8 56.2,642.4 57.8,642.8 59.3,642.9 60.8,642.7 62.3,642.2 63.8,641.4 65.4,640.8 66.9,640.5 68.4,640.3 69.9,640.2 71.3,641.3 72.8,641.1 74.2,639.9 75.7,639.8 77.2,640.0 78.6,641.1 80.1,641.1 81.6,640.5 83.1,641.1 84.5,641.5 86.1,641.6 87.6,641.4 89.1,641.2 90.7,642.3 92.4,642.9 94.0,643.2 95.6,642.1 97.3,642.1 98.8,642.3 100.4,642.5 101.8,642.1 103.3,641.2 104.7,641.3 106.0,641.1 107.3,640.9 108.6,640.4 110.0,639.6 111.4,639.2 112.8,639.1 114.3,639.8 115.8,640.2 117.3,639.4 118.8,640.3 120.3,641.1 121.8,641.1 123.3,641.3 124.8,641.5 126.3,640.4 127.8,639.8 129.3,640.5 130.8,639.4 132.2,638.1 133.7,637.9 135.1,638.2 136.7,639.4 138.3,640.0 139.9,640.4 141.4,640.0 143.0,640.5 144.7,640.6 146.2,640.4 147.7,640.3 149.3,640.3 150.8,640.7 152.4,640.0 153.9,639.4 155.3,639.3 156.6,639.5 158.3,640.5 159.7,640.7 161.1,641.1 162.5,642.7 163.7,643.8 164.9,645.0 166.0,646.1 167.2,647.1 168.4,648.0 169.5,648.3 170.7,648.9 172.0,649.5 173.2,650.1 174.4,651.1 175.6,651.9 176.8,652.3 178.0,653.3 179.1,655.5 180.3,657.1 181.5,657.5 182.7,657.7 184.1,657.9 185.5,657.7 187.0,656.9 188.5,656.9 189.9,656.8 191.3,656.4 192.7,655.7 194.1,654.5 195.5,654.2 197.0,654.1 198.5,653.3 200.0,652.5 201.6,651.4 203.2,651.5 204.8,651.6 206.5,651.8 207.9,650.9 209.4,650.3 210.9,650.2 212.4,649.3 213.9,648.5 215.4,648.9 216.9,648.8 218.4,648.4 219.9,648.0 221.4,647.7 222.9,647.4 224.3,647.2 225.8,647.1 227.3,646.7 228.8,646.4 230.3,646.2 231.8,645.6 233.3,645.4 234.8,645.9 236.2,646.5 237.7,647.2 239.2,646.3 240.7,645.9 242.2,645.2 243.7,645.1 245.2,645.0 246.6,645.8 248.1,645.5 249.6,644.6 251.1,644.5 252.6,644.3 254.1,644.1 255.7,644.3 257.3,644.4 258.9,645.1 260.5,644.1 262.2,643.3 263.8,642.9 265.4,642.6 266.9,642.5 268.4,642.6 270.1,642.8 271.7,643.2 273.2,644.3 274.7,645.0 276.3,645.7 277.9,645.5 279.3,645.2 280.8,644.5 282.4,644.5 284.0,644.3 285.5,644.3 287.0,642.9 288.4,642.0 289.8,642.0 291.3,642.3 292.6,643.1 293.8,643.5 295.2,643.9 296.9,644.1 298.1,644.3 299.4,644.4 300.8,644.7 302.2,645.3 303.8,645.0 305.4,645.0 307.1,645.9 308.8,646.3 310.5,646.2 312.2,645.6 314.0,646.6 315.7,646.6 317.4,646.7 319.1,647.0 320.7,645.8 322.3,645.6 323.9,647.0 325.5,646.7 327.0,646.6 328.6,646.8 330.2,646.6 331.8,646.2 333.4,644.8 335.0,645.0 336.6,645.0 338.2,643.8 339.7,644.2 341.3,644.5 342.9,644.9 344.5,643.8 346.1,643.0 347.7,643.1 349.3,642.6 350.8,642.2 352.4,642.2 354.0,642.1 355.6,641.9 357.2,641.5 358.8,642.3 360.4,643.1 362.0,642.8 363.5,642.2 365.1,641.6 366.7,642.0 368.3,641.9 369.9,641.7 371.5,641.3 373.2,641.1 374.8,641.0 376.5,641.5 378.2,641.3 379.8,641.1 381.5,640.6 383.1,640.7 384.7,640.9 386.3,641.3 387.8,641.3 389.2,641.2 390.7,640.4 392.0,640.5 393.7,641.0 395.3,641.4 396.8,641.3 398.3,641.2 399.7,640.8 401.1,640.4 402.5,639.4 403.9,639.4 405.6,640.3 407.2,640.1 408.7,640.3 410.3,640.7 411.8,641.5 413.4,642.1 415.0,642.8 416.6,643.6 418.2,644.1 419.8,644.2 421.4,644.2 423.0,644.7 424.3,646.1 425.7,647.1 427.1,648.0 428.5,649.3 429.8,650.5 431.2,651.2 432.5,652.0 433.7,652.9 434.9,653.1 436.2,652.6 437.3,651.8 438.5,651.1 439.6,650.0 440.7,648.4 442.0,647.4 443.5,646.6 445.0,646.0 446.6,645.6 448.3,645.2 449.9,645.2 451.5,645.4 453.1,645.8 454.7,646.5 456.3,647.3 457.9,647.4 459.4,648.1 461.0,648.8 462.4,648.7 463.7,648.1 465.0,647.2 466.3,646.0 467.6,644.6 469.0,643.1 470.5,641.7 471.9,642.6 473.4,642.9 475.0,642.8 476.6,641.7 478.2,641.3 479.9,642.0 481.6,642.1 483.2,642.4 484.8,643.1 486.4,642.9 488.1,642.6 489.8,642.1 491.5,641.9 493.2,641.9 494.8,641.8 496.3,641.7 497.7,642.2 499.0,643.2 500.5,642.6 501.8,642.7 503.0,642.7 504.3,642.8" fill="none" stroke="#343434" stroke-width="3.0" stroke-linejoin="round" stroke-linecap="round"/>
<polyline points="514.3,640.6 514.9,640.7 515.5,640.7 516.6,641.0 518.0,641.1 519.0,640.7 520.2,640.4 521.7,640.4 523.3,640.7 525.0,641.6 526.8,641.3 528.6,641.2 530.3,641.1 532.0,641.7 533.5,641.6 534.8,641.1 536.4,641.6 537.8,641.9 539.1,641.6 540.4,641.7 541.9,642.4 543.3,643.1 544.7,644.2 546.2,645.0 547.7,645.8 549.2,646.6 550.8,647.3 552.3,647.5 553.8,648.5 555.1,649.4 556.5,649.8 557.8,650.4 559.1,651.0 560.5,651.8 561.8,653.0 563.1,654.0 564.4,655.3 565.7,656.2 566.9,657.1 568.1,658.0 569.2,658.9 570.4,659.9 571.6,661.1 572.7,662.2 573.9,662.6 575.1,663.1 576.3,663.9 577.6,664.7 578.9,665.8 580.3,666.8 581.7,667.5 583.1,668.2 584.5,668.9 586.0,669.7 587.4,670.6 588.9,671.3 590.3,671.8 591.8,671.9 593.4,671.9 595.0,671.6 596.6,672.0 598.2,671.9 599.8,671.7 601.5,670.7 603.0,669.7 604.6,668.7 606.1,668.1 607.7,667.5 609.3,667.9 610.8,667.2 612.3,665.6 613.8,665.4 615.3,665.0 616.7,664.0 618.0,662.9 619.1,661.7 620.1,660.5 621.1,659.6 622.0,658.7 622.9,657.5 623.8,655.6 624.7,653.8 625.6,652.5 626.5,651.4 627.5,650.3 628.5,649.3 629.5,648.3 630.6,647.0 631.6,645.3 632.6,643.9 633.7,643.4 634.8,643.1 635.9,642.1 637.0,641.1 638.6,640.7 640.3,640.7 642.0,640.9 643.7,641.9 645.3,643.1 646.6,643.8 647.6,644.8 648.4,646.3 649.0,648.0 649.7,649.6 650.4,651.1 651.3,652.3 652.5,653.3 653.9,654.3 655.4,655.1 656.9,655.9 658.4,656.3 659.8,656.5 661.2,656.5 662.6,656.4 664.1,656.9 665.6,656.8 666.8,656.1 668.1,655.4 669.4,654.4 670.7,653.6 672.1,653.2 673.4,652.4 674.8,651.7 676.1,650.4 677.5,649.2 679.0,648.6 680.5,648.0 682.0,647.5 683.5,647.1 685.0,646.9 686.5,646.2 688.0,645.6 689.4,645.2 691.0,644.6 692.6,644.1 694.1,643.1 695.7,642.5 697.3,642.6 698.9,642.5 700.3,642.4 701.8,641.4 703.4,641.7 704.9,642.9 706.4,642.9 708.0,643.1 709.4,642.8 710.8,643.3 712.1,644.3 713.3,645.2 714.5,646.3 715.7,647.3 716.8,648.6 718.0,649.6 719.1,650.0 720.3,650.7 721.5,651.8 722.7,652.7 724.0,653.8 725.2,654.8 726.5,655.6 727.6,656.4 728.8,657.6 729.8,658.8 730.7,659.8 731.5,660.7 732.4,661.7 733.1,663.1 733.8,664.6 734.5,666.2 735.2,667.5 735.8,669.1 736.4,670.7 737.0,672.3 737.4,673.7 737.9,675.1 738.2,676.6 738.6,678.1 738.9,679.6 739.2,681.2 739.5,682.8 739.8,684.4 740.1,686.0 740.3,687.7 740.6,689.3 740.9,691.0 741.1,692.7 741.4,694.4 741.7,696.1 742.0,697.6 742.2,699.2 742.5,700.7 742.7,702.3 743.0,703.8 743.2,705.4 743.5,707.0 743.7,708.6 744.0,710.2 744.2,711.8 744.5,713.5 744.7,715.1 745.0,716.8 745.2,718.5 745.5,720.1 745.7,721.8 746.0,723.6 746.2,725.3 746.5,727.0 746.7,728.5 747.0,730.1 747.2,731.6 747.4,733.2 747.7,734.7 747.9,736.3 748.1,737.9 748.4,739.5 748.6,741.1 748.8,742.7 749.1,744.4 749.3,746.0 749.5,747.7 749.8,749.3 750.0,751.0 750.3,752.6 750.5,754.3 750.7,755.9 751.0,757.6 751.2,759.2 751.5,760.9 751.7,762.6 751.9,764.2 752.2,765.9 752.4,767.5 752.6,769.1 752.9,770.8 753.1,772.4 753.4,774.1 753.6,775.8 753.9,777.5 754.1,779.2 754.4,780.9 754.6,782.6 754.9,784.3 755.1,786.0 755.4,787.7 755.6,789.4 755.9,791.1 756.1,792.7 756.4,794.4 756.6,796.1 756.8,797.7 757.0,799.4 757.3,801.0 757.5,802.6 757.7,804.2 757.9,805.7 758.1,807.3 758.2,808.8 758.4,810.3 758.6,812.1 758.7,814.0 758.9,816.0 759.0,818.1 759.1,820.2 759.2,822.3 759.3,824.4 759.4,826.4 759.5,828.4 759.5,830.3 759.6,832.0 759.7,833.7 759.9,835.1 760.0,836.3 760.1,837.4 760.3,838.1 760.5,838.6 760.7,838.8 761.1,838.2 761.6,836.7 762.1,834.7 762.6,832.6 763.1,831.1 763.6,830.5 763.9,830.7 764.2,831.3 764.5,832.1 764.7,833.3 765.0,834.7 765.3,836.3 765.6,838.1 765.9,840.0 766.1,842.0 766.4,844.1 766.6,846.3 766.9,848.4 767.1,850.5 767.3,852.5 767.5,854.5 767.7,856.3 767.9,857.9 768.1,859.5 768.2,861.1 768.3,862.6 768.4,864.1 768.5,865.5 768.6,867.0 768.6,868.5 768.7,869.9 768.8,871.5 768.8,873.0 768.9,874.6 769.0,876.3 769.2,878.1 769.3,880.0 769.4,881.3 769.5,882.6 769.6,884.0 769.8,885.4 769.9,886.9 770.0,888.4 770.2,889.9 770.3,891.4 770.5,893.0 770.6,894.6 770.8,896.2 771.0,897.9 771.1,899.5 771.3,901.2 771.5,902.9 771.7,904.7 771.8,906.4 772.0,908.1 772.2,909.9 772.4,911.7 772.6,913.4 772.8,915.2 772.9,917.0 773.1,918.7 773.3,920.5 773.5,922.3 773.7,924.0 773.9,925.8 774.0,927.5 774.2,929.3 774.4,931.0 774.6,932.7 774.7,934.3 774.9,936.0 775.1,937.6 775.2,939.3 775.4,940.9 775.6,942.6 775.7,944.2 775.9,945.9 776.1,947.5 776.2,949.2 776.4,950.8 776.5,952.5 776.7,954.1 776.9,955.8 777.0,957.4 777.2,959.1 777.4,960.7 777.5,962.4 777.7,964.1 777.9,965.7 778.0,967.4 778.2,969.0 778.4,970.7 778.5,972.3 778.7,974.0 778.8,975.6 779.0,977.3 779.2,978.9 779.3,980.6 779.5,982.2 779.7,983.9 779.8,985.5 780.0,987.2 780.2,988.8 780.3,990.5 780.5,992.1 780.7,993.7 780.8,995.4 781.0,997.0 781.2,998.7 781.3,1000.3 781.5,1002.0 781.7,1003.6 781.8,1005.3 782.0,1006.9 782.2,1008.6 782.3,1010.2 782.5,1011.9 782.7,1013.5 782.8,1015.2 783.0,1016.8 783.2,1018.5 783.4,1020.1 783.5,1021.7 783.7,1023.4 783.9,1025.0 784.0,1026.7 784.2,1028.3 784.4,1030.0 784.5,1031.6 784.7,1033.3 784.9,1034.9 785.0,1036.6 785.2,1038.2 785.4,1039.9 785.5,1041.5 785.7,1043.2 785.9,1044.8 786.0,1046.5 786.2,1048.1 786.4,1049.8 786.5,1051.4 786.7,1053.1 786.9,1054.7 787.0,1056.4 787.2,1058.1 787.4,1059.7 787.5,1061.4 787.7,1063.1 787.8,1064.8 788.0,1066.4 788.2,1068.1 788.3,1069.8 788.5,1071.5 788.6,1073.1 788.8,1074.8 789.0,1076.5 789.1,1078.1 789.3,1079.8 789.5,1081.5 789.6,1083.1 789.8,1084.8 790.0,1086.4 790.1,1088.1 790.3,1089.7 790.4,1091.4 790.6,1093.0 790.8,1094.6 790.9,1096.2 791.1,1097.8 791.3,1099.4 791.5,1101.0 791.6,1102.6 791.8,1104.2 792.0,1105.9 792.2,1107.6 792.4,1109.3 792.6,1111.0 792.8,1112.7 793.0,1114.5 793.2,1116.2 793.4,1117.9 793.6,1119.6 793.8,1121.4 794.0,1123.1 794.2,1124.8 794.4,1126.5 794.6,1128.2 794.8,1129.8 795.0,1131.5 795.2,1133.1 795.4,1134.8 795.6,1136.4 795.8,1138.0 796.0,1139.5 796.2,1141.0 796.3,1142.5 796.5,1144.0 796.7,1145.5 796.9,1146.9 797.1,1148.3 797.2,1149.6 797.4,1150.9 797.6,1152.8 797.8,1154.6 798.0,1156.3 798.2,1158.0 798.4,1159.7 798.5,1161.3 798.7,1162.9 798.9,1164.4 799.1,1165.9 799.3,1167.3 799.6,1168.7 799.9,1170.1 800.2,1171.4 800.7,1173.0 801.2,1174.4 801.8,1175.8 802.4,1177.1 803.1,1178.4 803.7,1179.8 804.3,1181.1 804.8,1182.6 805.2,1184.0 805.6,1185.5 805.9,1187.0 806.3,1188.6 806.6,1190.1 806.9,1191.7 807.3,1193.2 807.6,1194.7 808.1,1196.2 808.6,1197.6 809.3,1199.3 810.0,1201.1 810.9,1203.0 811.7,1204.8 812.6,1206.4 813.5,1207.7 814.3,1208.5 815.1,1208.8 815.8,1208.5 816.5,1207.8 817.2,1206.8 817.9,1205.4 818.6,1203.8 819.2,1201.9 819.9,1200.0 820.5,1197.9 821.1,1195.8 821.6,1193.8 821.9,1192.6 822.2,1191.4 822.4,1190.2 822.7,1188.9 822.9,1187.5 823.2,1186.1 823.4,1184.7 823.6,1183.2 823.8,1181.7 824.0,1180.2 824.2,1178.6 824.4,1177.0 824.6,1175.4 824.8,1173.7 824.9,1172.0 825.1,1170.3 825.2,1168.5 825.4,1166.8 825.5,1165.0 825.7,1163.2 825.8,1161.4 826.0,1159.6 826.1,1157.8 826.2,1156.0 826.4,1154.2 826.5,1152.4 826.6,1150.5 826.8,1148.7 826.9,1146.9 827.0,1145.1 827.2,1143.3 827.3,1141.5 827.4,1140.0 827.5,1138.4 827.6,1136.9 827.8,1135.3 827.9,1133.7 828.0,1132.1 828.1,1130.5 828.2,1128.9 828.2,1127.2 828.3,1125.6 828.4,1123.9 828.5,1122.3 828.6,1120.6 828.7,1118.9 828.8,1117.2 828.8,1115.5 828.9,1113.8 829.0,1112.1 829.1,1110.4 829.1,1108.6 829.2,1106.9 829.3,1105.2 829.4,1103.5 829.4,1101.7 829.5,1100.0 829.6,1098.3 829.6,1096.5 829.7,1094.8 829.8,1093.1 829.8,1091.4 829.9,1089.7 830.0,1088.0 830.1,1086.3 830.1,1084.6 830.2,1082.9 830.3,1081.3 830.3,1079.6 830.4,1078.0 830.5,1076.3 830.6,1074.7 830.7,1073.1 830.7,1071.5 830.8,1069.9 830.9,1068.3 831.0,1066.8 831.1,1065.0 831.2,1063.3 831.3,1061.6 831.4,1059.9 831.5,1058.2 831.6,1056.5 831.7,1054.9 831.8,1053.2 831.9,1051.6 832.0,1050.0 832.1,1048.4 832.2,1046.8 832.3,1045.2 832.4,1043.6 832.5,1042.0 832.6,1040.4 832.8,1038.8 832.9,1037.2 833.0,1035.6 833.1,1034.0 833.2,1032.4 833.3,1030.8 833.4,1029.2 833.5,1027.6 833.6,1026.0 833.7,1024.4 833.9,1022.7 834.0,1021.1 834.1,1019.4 834.2,1017.7 834.3,1016.0 834.5,1014.3 834.6,1012.6 834.7,1010.8 834.8,1009.3 834.9,1007.8 835.0,1006.2 835.1,1004.6 835.2,1003.1 835.4,1001.5 835.5,999.9 835.6,998.3 835.7,996.7 835.8,995.1 835.9,993.4 836.1,991.8 836.2,990.1 836.3,988.5 836.4,986.8 836.6,985.2 836.7,983.5 836.8,981.8 836.9,980.1 837.0,978.4 837.2,976.8 837.3,975.1 837.4,973.4 837.5,971.7 837.7,970.0 837.8,968.3 837.9,966.7 838.1,965.0 838.2,963.3 838.3,961.6 838.4,960.0 838.6,958.3 838.7,956.7 838.8,955.0 838.9,953.4 839.1,951.7 839.2,950.1 839.3,948.5 839.4,946.9 839.6,945.3 839.7,943.7 839.8,942.1 839.9,940.6 840.1,939.0 840.2,937.5 840.3,936.0 840.4,934.2 840.6,932.5 840.7,930.7 840.9,929.0 841.0,927.2 841.1,925.5 841.3,923.8 841.4,922.1 841.5,920.4 841.7,918.7 841.8,917.0 842.0,915.3 842.1,913.6 842.2,911.9 842.4,910.3 842.5,908.6 842.6,906.9 842.8,905.3 842.9,903.7 843.0,902.0 843.2,900.4 843.3,898.8 843.5,897.2 843.6,895.6 843.7,894.0 843.9,892.4 844.0,890.8 844.2,889.2 844.3,887.7 844.4,886.1 844.6,884.6 844.7,883.0 844.9,881.5 845.0,880.0 845.2,878.2 845.3,876.5 845.5,874.8 845.7,873.1 845.8,871.4 846.0,869.8 846.1,868.1 846.3,866.5 846.4,864.8 846.6,863.2 846.8,861.6 846.9,860.0 847.1,858.4 847.3,856.8 847.4,855.2 847.6,853.6 847.8,852.1 848.0,850.5 848.1,848.9 848.3,847.3 848.5,845.7 848.7,844.1 848.9,842.5 849.1,840.8 849.3,839.2 849.5,837.6 849.7,836.0 849.9,834.4 850.2,832.8 850.4,831.2 850.6,829.7 850.9,828.1 851.1,826.5 851.4,824.9 851.6,823.3 851.8,821.7 852.1,820.2 852.4,818.6 852.6,817.0 852.9,815.4 853.1,813.8 853.4,812.2 853.6,810.6 853.9,809.0 854.1,807.3 854.4,805.7 854.6,804.1 854.9,802.5 855.1,800.8 855.4,799.2 855.6,797.5 855.8,796.0 856.0,794.4 856.3,792.8 856.5,791.3 856.7,789.7 856.9,788.1 857.1,786.5 857.3,785.0 857.5,783.4 857.7,781.8 858.0,780.2 858.2,778.6 858.4,777.0 858.6,775.3 858.8,773.7 859.0,772.1 859.2,770.5 859.4,768.9 859.6,767.3 859.8,765.6 860.0,764.0 860.2,762.4 860.5,760.8 860.7,759.1 860.9,757.5 861.1,755.9 861.3,754.3 861.5,752.6 861.7,751.0 861.9,749.4 862.1,747.8 862.3,746.2 862.5,744.5 862.7,742.9 862.9,741.2 863.1,739.6 863.3,737.9 863.5,736.2 863.7,734.6 863.8,732.9 864.0,731.2 864.2,729.5 864.4,727.9 864.6,726.2 864.8,724.5 865.0,722.8 865.2,721.2 865.4,719.5 865.6,717.9 865.8,716.2 866.0,714.6 866.2,713.0 866.4,711.4 866.6,709.8 866.8,708.3 867.0,706.7 867.2,705.2 867.4,703.7 867.6,702.2 867.9,700.7 868.1,699.3 868.4,697.5 868.7,695.8 869.0,694.0 869.3,692.2 869.5,690.5 869.8,688.7 870.1,687.0 870.4,685.2 870.7,683.5 871.1,681.9 871.4,680.3 871.7,678.7 872.0,677.1 872.3,675.6 872.7,674.2 873.0,672.8 873.3,671.5 873.7,670.3 874.0,669.1 874.4,668.0 875.1,666.3 875.8,664.9 876.5,663.7 877.3,662.5 878.0,661.2 878.6,659.7 879.0,658.3 879.5,656.6 879.9,654.7 880.3,652.7 880.7,650.6 881.0,648.6 881.4,646.8 881.7,645.3 882.1,644.1 882.4,643.3 882.7,643.0 882.9,643.1 883.0,643.3 883.2,643.7 883.3,644.2 883.5,644.8 883.6,645.6 883.7,646.4 883.9,647.4 884.0,648.5 884.1,649.7 884.2,651.0 884.3,652.3 884.4,653.8 884.6,655.3 884.7,657.0 884.8,658.7 884.9,660.4 885.0,662.3 885.1,664.1 885.2,666.1 885.2,668.1 885.3,670.1 885.4,672.2 885.5,674.3 885.6,676.4 885.7,678.6 885.7,680.7 885.8,682.9 885.9,685.1 886.0,687.3 886.0,689.5 886.1,691.7 886.2,693.9 886.3,696.0 886.3,698.2 886.4,700.3 886.5,702.4 886.5,704.5 886.6,706.5 886.7,708.4 886.8,710.3 886.8,712.2 886.9,714.0 887.0,715.5 887.0,717.1 887.1,718.6 887.1,720.2 887.2,721.7 887.2,723.3 887.3,724.8 887.4,726.4 887.4,727.9 887.4,729.5 887.5,731.1 887.5,732.7 887.6,734.2 887.6,735.8 887.7,737.4 887.7,739.0 887.8,740.6 887.8,742.2 887.8,743.8 887.9,745.4 887.9,747.0 887.9,748.6 888.0,750.2 888.0,751.9 888.1,753.5 888.1,755.1 888.1,756.8 888.1,758.4 888.2,760.0 888.2,761.7 888.2,763.3 888.3,765.0 888.3,766.7 888.3,768.3 888.4,770.0 888.4,771.7 888.4,773.4 888.4,775.0 888.5,776.7 888.5,778.4 888.5,780.1 888.6,781.8 888.6,783.5 888.6,785.2 888.6,786.9 888.7,788.7 888.7,790.4 888.7,792.1 888.8,793.9 888.8,795.6 888.8,797.3 888.8,799.1 888.9,800.8 888.9,802.6 888.9,804.4 889.0,806.1 889.0,807.9 889.0,809.4 889.1,811.0 889.1,812.6 889.1,814.2 889.1,815.8 889.2,817.4 889.2,819.1 889.2,820.8 889.2,822.4 889.3,824.1 889.3,825.8 889.3,827.5 889.3,829.3 889.3,831.0 889.4,832.8 889.4,834.5 889.4,836.3 889.4,838.1 889.4,839.9 889.5,841.7 889.5,843.5 889.5,845.3 889.5,847.1 889.5,848.9 889.6,850.7 889.6,852.6 889.6,854.4 889.6,856.2 889.6,858.1 889.7,859.9 889.7,861.7 889.7,863.6 889.7,865.4 889.7,867.3 889.8,869.1 889.8,870.9 889.8,872.8 889.8,874.6 889.8,876.4 889.8,878.2 889.9,880.0 889.9,881.8 889.9,883.6 889.9,885.4 889.9,887.2 890.0,889.0 890.0,890.7 890.0,892.5 890.0,894.2 890.1,895.9 890.1,897.7 890.1,899.4 890.1,901.1 890.1,902.7 890.2,904.4 890.2,906.0 890.2,907.7 890.2,909.3 890.3,910.9 890.3,912.5 890.3,914.0 890.3,915.6 890.4,917.1 890.4,918.6 890.4,920.1 890.4,921.5 890.5,923.0 890.5,924.4 890.5,925.8 890.6,927.2 890.6,928.5 890.6,929.8 890.7,931.1 890.7,932.4 890.7,933.6 890.8,934.8 890.8,936.0 890.9,938.1 890.9,940.3 891.0,942.5 891.1,944.8 891.1,947.0 891.2,949.2 891.3,951.4 891.4,953.6 891.4,955.7 891.5,957.8 891.6,959.8 891.7,961.7 891.7,963.5 891.8,965.2 891.9,966.8 892.0,968.2 892.1,969.5 892.2,970.7 892.2,971.6 892.3,972.4 892.4,972.9 892.5,973.3 892.6,973.4 892.7,973.2 892.8,972.8 892.8,972.1 892.9,971.1 893.0,969.9 893.1,968.5 893.2,966.9 893.3,965.1 893.4,963.1 893.4,961.1 893.5,958.9 893.6,956.6 893.7,954.2 893.8,951.8 893.9,949.4 894.0,947.0 894.1,944.6 894.2,942.2 894.3,939.8 894.4,937.5 894.5,935.4 894.6,933.3 894.7,931.3 894.8,929.5 894.8,927.9 894.9,926.5 895.0,925.3 895.1,924.3 895.2,923.6 895.3,923.2 895.4,923.0 895.5,923.1 895.6,923.4 895.7,923.9 895.8,924.6 895.9,925.4 896.0,926.4 896.1,927.6 896.2,928.9 896.3,930.3 896.3,931.9 896.4,933.5 896.5,935.3 896.6,937.1 896.7,939.0 896.8,941.0 896.9,943.0 897.0,945.1 897.1,947.3 897.2,949.4 897.3,951.6 897.4,953.7 897.5,955.9 897.6,958.0 897.7,960.2 897.7,962.2 897.8,964.3 897.9,966.3 898.0,968.2 898.1,970.0 898.1,971.8 898.2,973.4 898.3,975.1 898.3,976.9 898.4,978.8 898.5,980.7 898.5,982.7 898.6,984.8 898.6,986.9 898.7,989.0 898.7,991.1 898.8,993.3 898.8,995.4 898.9,997.5 898.9,999.6 899.0,1001.7 899.0,1003.7 899.1,1005.6 899.1,1007.5 899.2,1009.3 899.2,1011.0 899.2,1012.6 899.3,1014.0 899.3,1015.4 899.4,1016.5 899.4,1017.6 899.5,1018.5 899.5,1019.2 899.6,1019.7 899.6,1020.0 899.7,1020.1 899.8,1020.0 899.8,1019.8 899.9,1019.4 899.9,1018.9 900.0,1018.2 900.0,1017.4 900.1,1016.5 900.1,1015.5 900.2,1014.3 900.2,1013.0 900.3,1011.7 900.3,1010.2 900.4,1008.7 900.5,1007.1 900.5,1005.3 900.6,1003.6 900.6,1001.7 900.7,999.8 900.7,997.9 900.8,995.8 900.9,993.8 900.9,991.7 901.0,989.6 901.0,987.5 901.1,985.3 901.1,983.1 901.2,980.9 901.3,978.8 901.3,976.6 901.4,974.4 901.5,972.3 901.5,970.2 901.6,968.1 901.6,966.0 901.7,964.0 901.8,962.0 901.8,960.1 901.9,958.2 901.9,956.4 902.0,954.7 902.1,953.1 902.1,951.5 902.2,949.8 902.2,948.2 902.3,946.6 902.4,944.9 902.4,943.3 902.5,941.6 902.5,940.0 902.6,938.3 902.6,936.6 902.7,934.9 902.8,933.3 902.8,931.6 902.9,929.9 902.9,928.2 903.0,926.5 903.1,924.8 903.1,923.1 903.2,921.4 903.3,919.8 903.3,918.1 903.4,916.4 903.4,914.7 903.5,913.0 903.6,911.3 903.6,909.6 903.7,907.9 903.8,906.2 903.8,904.6 903.9,902.9 903.9,901.2 904.0,899.5 904.1,897.9 904.1,896.2 904.2,894.6 904.3,892.9 904.3,891.3 904.4,889.6 904.5,888.0 904.5,886.4 904.6,884.8 904.7,883.2 904.7,881.6 904.8,880.0 904.9,878.3 904.9,876.6 905.0,874.8 905.1,873.1 905.1,871.3 905.2,869.6 905.3,867.8 905.3,866.0 905.4,864.3 905.4,862.5 905.5,860.7 905.5,859.0 905.6,857.2 905.6,855.4 905.7,853.7 905.8,851.9 905.8,850.2 905.9,848.4 905.9,846.7 906.0,845.0 906.1,843.3 906.1,841.6 906.2,840.0 906.3,838.3 906.4,836.7 906.4,835.1 906.5,833.6 906.6,832.0 906.7,830.5 906.8,829.0 906.9,827.6 907.0,826.1 907.1,824.7 907.3,823.4 907.4,822.0 907.5,820.8 907.7,819.5 907.8,818.3 908.1,816.2 908.3,814.1 908.6,811.9 908.9,809.7 909.2,807.6 909.5,805.6 909.9,803.8 910.2,802.1 910.5,800.6 910.9,799.3 911.2,798.4 911.6,797.7 912.0,797.5 912.6,798.1 913.2,799.7 913.8,801.5 914.5,803.1 915.1,803.7 915.6,803.4 916.0,802.7 916.5,801.6 917.0,800.2 917.5,798.5 918.0,796.6 918.5,794.7 919.0,792.6 919.4,790.7 919.9,788.8 920.3,787.0 920.6,785.5 921.0,783.8 921.3,781.9 921.6,779.9 921.9,777.9 922.2,775.9 922.4,773.8 922.7,771.9 923.0,770.1 923.2,768.4 923.5,766.9 923.7,765.7 924.0,764.8 924.2,764.2 924.5,764.0 924.7,764.2 924.9,764.7 925.1,765.5 925.2,766.5 925.4,767.8 925.6,769.4 925.8,771.1 925.9,773.0 926.1,775.1 926.3,777.3 926.5,779.6 926.6,781.9 926.8,784.4 927.0,786.8 927.1,789.3 927.3,791.8 927.4,794.2 927.6,796.6 927.7,798.9 927.9,801.1 928.0,803.2 928.2,805.1 928.3,806.8 928.5,808.3 928.6,809.6 928.7,810.7 928.8,811.5 929.0,811.9 929.1,812.1 929.2,812.0 929.3,811.8 929.4,811.4 929.5,810.8 929.6,810.1 929.6,809.3 929.7,808.3 929.8,807.2 929.9,806.0 929.9,804.7 930.0,803.3 930.1,801.7 930.1,800.1 930.2,798.4 930.2,796.7 930.3,794.8 930.3,792.9 930.4,791.0 930.5,788.9 930.5,786.9 930.6,784.8 930.6,782.7 930.7,780.5 930.7,778.3 930.8,776.2 930.8,774.0 930.9,771.8 930.9,769.6 931.0,767.5 931.0,765.4 931.1,763.3 931.2,761.2 931.2,759.2 931.3,757.2 931.3,755.3 931.4,753.4 931.5,751.6 931.6,749.9 931.6,748.3 931.7,746.7 931.8,745.3 931.9,743.5 932.0,741.6 932.2,739.9 932.3,738.1 932.4,736.4 932.5,734.7 932.6,733.1 932.8,731.5 932.9,729.9 933.0,728.3 933.2,726.7 933.3,725.1 933.4,723.5 933.6,722.0 933.7,720.4 933.9,718.9 934.0,717.3 934.1,715.7 934.3,714.2 934.4,712.6 934.6,711.0 934.7,709.3 934.9,707.7 935.0,706.0 935.2,704.3 935.3,702.5 935.4,700.7 935.6,698.8 935.7,697.0 935.8,695.0 935.9,693.1 936.0,691.2 936.1,689.3 936.3,687.4 936.4,685.5 936.5,683.7 936.7,681.9 936.8,680.1 937.0,678.4 937.2,676.8 937.4,675.3 937.6,673.8 937.9,672.4 938.2,671.1 938.4,670.0 938.8,668.9 939.1,668.0 939.9,666.4 940.7,664.9 941.7,663.7 942.5,662.9 943.3,662.8 943.6,663.1 943.9,663.7 944.1,664.6 944.3,665.8 944.5,667.2 944.7,668.8 944.8,670.6 944.9,672.6 945.0,674.7 945.0,677.0 945.1,679.3 945.2,681.6 945.2,684.0 945.3,686.3 945.4,688.6 945.5,690.9 945.6,693.0 945.7,695.1 945.9,696.9 946.0,698.6 946.2,700.1 946.5,701.4 946.8,702.4 947.1,703.1 947.5,703.5 948.8,703.6 950.3,702.8 951.6,701.4 952.0,700.6 952.4,699.5 952.7,698.0 953.0,696.4 953.2,694.5 953.4,692.5 953.6,690.4 953.7,688.2 953.9,685.9 954.0,683.6 954.0,681.4 954.1,679.2 954.2,677.2 954.3,675.3 954.3,673.5 954.4,672.0 954.5,670.8 954.6,669.9 954.7,669.3 954.8,669.1 954.9,669.3 955.1,670.0 955.2,671.1 955.3,672.5 955.4,674.1 955.5,676.0 955.6,678.0 955.7,680.2 955.8,682.3 956.0,684.5 956.1,686.6 956.2,688.6 956.4,690.3 956.6,691.9 956.8,693.1 957.3,694.8 957.8,696.1 958.4,697.4 958.9,699.3 959.1,700.2 959.2,701.3 959.3,702.4 959.5,703.6 959.6,705.0 959.7,706.4 959.8,707.9 959.9,709.4 959.9,711.0 960.0,712.7 960.1,714.4 960.1,716.2 960.2,718.0 960.3,719.8 960.3,721.7 960.4,723.6 960.4,725.5 960.4,727.4 960.5,729.3 960.5,731.2 960.6,733.0 960.6,734.9 960.7,736.7 960.7,738.5 960.8,740.3 960.9,742.0 960.9,743.7 961.0,745.3 961.1,747.0 961.2,748.7 961.3,750.4 961.3,752.1 961.4,753.7 961.5,755.4 961.6,757.1 961.7,758.7 961.8,760.4 961.9,762.0 962.0,763.6 962.0,765.3 962.1,766.9 962.2,768.6 962.3,770.2 962.4,771.8 962.5,773.4 962.6,775.1 962.7,776.7 962.7,778.3 962.8,780.0 962.9,781.6 963.0,783.3 963.1,784.9" fill="none" stroke="#343434" stroke-width="3.0" stroke-linejoin="round" stroke-linecap="round"/>
<polyline points="48.3,1207.2 49.8,1205.9 51.3,1205.5 52.8,1205.7 54.3,1207.5 55.8,1207.7 57.4,1207.2 58.9,1206.5 60.5,1207.5 62.1,1208.7 63.8,1208.7 65.2,1207.3 66.7,1206.9 68.2,1207.5 69.8,1207.0 71.4,1207.0 73.0,1207.4 74.6,1208.0 76.2,1207.3 77.8,1207.3 79.5,1208.1 81.1,1206.7 82.8,1206.8 84.4,1207.3 86.0,1208.4 87.6,1207.4 89.2,1207.4 90.8,1207.4 92.4,1207.7 93.9,1207.5 95.5,1207.3 97.1,1207.0 98.7,1206.2 100.3,1207.2 101.9,1207.9 103.5,1208.3 105.1,1208.2 106.6,1207.8 108.2,1207.3 109.8,1206.6 111.4,1206.6 113.0,1206.8 114.6,1207.3 116.2,1207.2 117.8,1206.3 119.5,1205.8 121.1,1206.0 122.7,1206.2 124.3,1206.4 125.9,1206.6 127.5,1207.2 129.1,1206.6 130.6,1206.1 132.1,1205.3 133.6,1206.9 135.1,1206.8 136.7,1206.3 138.3,1206.5 139.9,1206.1 141.5,1206.0 143.0,1206.4 144.5,1206.4 146.0,1206.7 147.5,1207.4 148.9,1206.2 150.4,1206.2 151.8,1207.0 153.6,1206.2 155.3,1206.9 157.1,1206.7 158.8,1205.7 160.5,1206.2 162.1,1206.4 163.6,1206.8 165.0,1207.6 166.4,1207.2 167.7,1207.8 168.8,1209.4 170.0,1210.3 171.2,1210.4 172.7,1210.5 174.3,1210.5 175.9,1210.7 177.4,1211.8 178.7,1212.8 179.9,1213.1 181.2,1214.7 182.4,1216.5 183.6,1216.2 184.8,1214.6 185.9,1214.4 187.1,1213.9 188.3,1211.8 189.7,1210.6 191.0,1210.3 192.4,1211.3 194.0,1212.7 195.6,1213.9 197.2,1213.3 198.8,1213.8 200.5,1214.9 202.1,1216.5 203.6,1216.2 205.2,1215.9 206.7,1215.7 208.3,1215.3 209.8,1215.1 211.4,1215.1 213.0,1216.2 214.5,1216.6 216.1,1216.9 217.7,1216.7 219.3,1215.5 220.9,1214.5 222.4,1213.4 224.0,1213.6 225.4,1213.8 226.8,1214.1 228.4,1213.6 230.0,1212.7 231.4,1211.8 232.8,1210.5 234.3,1210.7 235.8,1211.5 237.2,1212.3 238.7,1213.4 240.1,1214.5 241.7,1214.2 243.0,1214.8 244.4,1215.5 245.8,1214.9 247.2,1213.8 248.6,1212.1 250.1,1211.9 251.6,1212.1 253.1,1213.1 254.6,1212.0 256.1,1212.5 257.7,1213.7 259.3,1213.0 260.9,1213.5 262.4,1213.8 264.0,1213.9 265.5,1212.9 267.1,1212.6 268.6,1212.6 270.1,1212.4 271.7,1212.7 273.2,1213.0 274.8,1212.8 276.3,1211.8 277.8,1211.5 279.4,1212.7 280.9,1211.6 282.5,1211.0 284.0,1210.5 285.6,1210.8 287.1,1211.5 288.7,1212.0 290.2,1211.3 291.7,1211.7 293.2,1212.3 294.8,1213.3 296.3,1213.9 297.9,1214.2 299.4,1214.2 300.9,1213.8 302.4,1214.1 304.0,1214.4 305.5,1215.0 307.0,1214.7 308.6,1214.3 310.1,1213.7 311.6,1213.0 313.2,1212.6 314.7,1212.5 316.2,1213.1 317.8,1212.9 319.3,1212.4 320.9,1211.1 322.4,1211.8 324.0,1212.4 325.5,1212.7 327.1,1212.4 328.6,1212.3 330.2,1212.4 331.8,1212.4 333.3,1211.9 334.9,1211.4 336.4,1211.9 338.0,1211.2 339.5,1210.5 341.0,1209.9 342.6,1210.1 344.1,1210.0 345.7,1209.7 347.2,1210.8 348.7,1210.3 350.3,1209.8 351.8,1209.2 353.3,1209.1 354.9,1208.6 356.4,1207.4 358.0,1207.9 359.5,1208.0 361.1,1208.0 362.6,1207.2 364.2,1206.8 365.7,1206.7 367.3,1207.1 368.8,1207.0 370.4,1207.4 371.9,1208.1 373.5,1207.1 375.0,1206.9 376.6,1207.0 378.2,1207.4 379.7,1208.0 381.3,1208.2 382.8,1208.3 384.4,1208.0 385.9,1208.1 387.5,1208.3 389.0,1207.1 390.6,1206.5 392.2,1206.2 393.8,1207.1 395.4,1206.9 396.9,1206.6 398.5,1206.3 399.9,1207.4 401.3,1207.4 402.9,1207.2 404.5,1207.5 405.9,1208.1 407.3,1208.9 408.7,1210.6 410.0,1210.6 411.2,1209.6 412.4,1210.4 413.7,1211.3 415.2,1211.4 416.7,1211.5 418.2,1211.6 419.9,1212.6 421.2,1213.1 422.5,1213.7 424.0,1216.1 425.4,1217.2 426.9,1217.6 428.4,1218.9 429.9,1219.2 431.3,1218.7 432.6,1219.1 434.0,1218.9 435.3,1218.6 436.7,1218.1 438.0,1217.5 439.3,1215.6 440.7,1214.7 442.0,1214.6 443.6,1214.8 445.3,1214.7 446.9,1214.2 448.5,1212.7 450.1,1213.1 451.5,1213.7 452.8,1214.7 453.9,1215.6 455.0,1216.2 456.2,1217.3 457.5,1218.2 458.7,1218.1 460.0,1217.6 461.4,1217.4 462.8,1216.3 464.3,1214.6 465.9,1213.7 467.4,1212.4 469.0,1211.1 470.5,1211.2 472.0,1210.1 473.6,1209.3 475.2,1209.2 476.8,1208.5 478.4,1208.1 480.0,1207.7 481.6,1207.1 483.2,1207.0 484.8,1207.2 486.4,1207.7 488.1,1207.1 489.8,1206.9 491.5,1207.7 493.2,1208.9 494.9,1208.1 496.4,1209.3 497.8,1209.7 499.0,1209.1 500.7,1208.5 502.1,1208.0 503.5,1207.5" fill="none" stroke="#343434" stroke-width="3.0" stroke-linejoin="round" stroke-linecap="round"/>
<polyline points="513.3,1205.6 514.4,1205.8 515.5,1206.4 516.8,1206.3 518.3,1205.9 520.0,1205.4 521.5,1205.1 523.2,1204.9 525.1,1205.0 526.9,1205.0 528.6,1205.3 529.9,1206.6 530.9,1207.5 531.6,1208.3 532.2,1209.5 532.7,1211.0 533.1,1212.7 533.6,1214.4 534.0,1216.2 534.4,1218.3 534.8,1220.3 535.1,1222.1 535.4,1223.6 535.8,1224.7 536.1,1225.1 536.4,1224.7 536.7,1223.6 537.0,1222.0 537.3,1220.2 537.7,1218.3 538.1,1216.5 538.6,1214.9 539.4,1213.1 540.2,1211.7 541.2,1210.9 542.3,1210.5 543.4,1209.7 544.6,1209.1 545.9,1208.7 547.2,1208.5 548.5,1208.7 549.8,1209.2 551.2,1210.4 552.7,1211.6 554.2,1213.3 555.6,1214.0 557.1,1214.6 558.5,1215.0 559.9,1215.6 561.4,1216.4 562.8,1217.1 564.2,1217.9 565.6,1218.3 567.0,1219.2 568.1,1220.5 569.2,1221.6 570.3,1222.1 571.4,1223.1 572.4,1224.9 573.5,1226.7 574.6,1227.5 575.7,1228.0 576.9,1228.9 578.1,1229.9 579.3,1231.3 580.6,1233.0 581.8,1234.0 583.1,1234.9 584.4,1236.4 585.7,1237.7 587.0,1238.0 588.2,1238.1 589.3,1238.1 590.3,1237.8 591.3,1237.2 592.3,1236.5 593.2,1235.2 594.1,1233.3 595.0,1231.4 595.8,1230.0 596.7,1228.8 597.5,1227.5 598.4,1226.1 599.2,1224.8 600.2,1223.3 601.1,1221.7 601.9,1220.0 602.8,1218.5 603.7,1217.6 604.6,1216.8 605.5,1215.6 606.6,1214.1 608.0,1213.9 609.4,1215.0 611.0,1214.6 612.5,1214.9 613.9,1216.6 615.2,1217.4 616.0,1217.7 616.7,1218.4 617.3,1219.6 617.9,1220.9 618.4,1222.2 618.9,1223.7 619.3,1225.3 619.7,1227.0 620.2,1229.2 620.6,1231.0 621.0,1232.7 621.4,1234.4 621.7,1235.8 622.1,1237.2 622.4,1238.7 622.7,1240.2 622.9,1241.8 623.2,1243.4 623.5,1245.1 623.7,1246.7 623.9,1248.3 624.2,1250.0 624.4,1251.6 624.6,1253.2 624.9,1254.8 625.1,1256.4 625.4,1258.0 625.6,1259.5 625.9,1261.1 626.1,1262.5 626.4,1264.0 626.7,1265.7 627.1,1267.4 627.4,1269.0 627.7,1270.6 628.1,1272.2 628.4,1273.7 628.7,1275.3 629.1,1276.8 629.4,1278.4 629.8,1280.0 630.2,1281.5 630.5,1283.1 630.9,1284.8 631.3,1286.4 631.7,1287.9 632.0,1289.4 632.4,1290.8 632.8,1292.3 633.2,1293.8 633.6,1295.3 634.0,1296.9 634.4,1298.5 634.9,1300.1 635.3,1301.7 635.7,1303.3 636.1,1304.9 636.5,1306.4 636.9,1308.0 637.3,1309.6 637.7,1311.2 638.0,1312.8 638.4,1314.4 638.7,1315.9 639.0,1317.4 639.3,1319.0 639.6,1320.6 639.9,1322.1 640.1,1323.7 640.4,1325.3 640.7,1326.9 640.9,1328.5 641.2,1330.1 641.4,1331.7 641.7,1333.3 641.9,1334.9 642.2,1336.5 642.4,1338.1 642.7,1339.8 642.9,1341.4 643.2,1343.0 643.4,1344.6 643.7,1346.1 643.9,1347.7 644.2,1349.2 644.5,1350.9 644.8,1352.5 645.0,1354.1 645.3,1355.7 645.6,1357.4 645.9,1359.0 646.2,1360.6 646.5,1362.3 646.7,1363.9 647.0,1365.5 647.3,1367.2 647.6,1368.8 647.9,1370.4 648.2,1372.1 648.4,1373.7 648.7,1375.4 649.0,1377.0 649.2,1378.6 649.5,1380.3 649.7,1381.9 650.0,1383.5 650.2,1385.2 650.5,1386.8 650.7,1388.5 651.0,1390.1 651.2,1391.8 651.4,1393.5 651.6,1395.2 651.8,1396.9 652.1,1398.5 652.3,1400.2 652.5,1401.9 652.7,1403.5 652.9,1405.2 653.1,1406.8 653.3,1408.5 653.5,1410.1 653.7,1411.8 654.0,1413.4 654.2,1415.0 654.4,1416.7 654.6,1418.3 654.8,1419.9 655.0,1421.6 655.3,1423.2 655.5,1424.9 655.7,1426.5 655.9,1428.2 656.1,1429.8 656.4,1431.5 656.6,1433.2 656.8,1434.8 657.0,1436.5 657.2,1438.1 657.5,1439.8 657.7,1441.4 657.9,1443.1 658.1,1444.7 658.3,1446.4 658.6,1448.0 658.8,1449.7 659.0,1451.3 659.2,1453.0 659.4,1454.6 659.6,1456.2 659.8,1457.9 660.1,1459.6 660.3,1461.3 660.5,1463.0 660.7,1464.7 660.9,1466.4 661.2,1468.1 661.4,1469.8 661.6,1471.5 661.8,1473.2 662.0,1474.9 662.2,1476.6 662.4,1478.2 662.6,1479.8 662.8,1481.4 663.0,1483.0 663.2,1484.5 663.4,1486.0 663.5,1487.4 663.7,1488.8 663.8,1490.0 664.0,1491.9 664.1,1493.5 664.2,1494.9 664.3,1496.3 664.4,1497.7 664.5,1499.0 664.6,1500.5 664.8,1502.1 665.0,1503.9 665.2,1505.1 665.3,1506.4 665.5,1507.8 665.7,1509.2 665.9,1510.7 666.2,1512.3 666.4,1513.9 666.7,1515.5 666.9,1517.2 667.2,1518.9 667.5,1520.6 667.7,1522.3 668.0,1524.1 668.3,1525.8 668.6,1527.5 668.9,1529.3 669.2,1531.0 669.5,1532.6 669.8,1534.3 670.0,1535.9 670.3,1537.5 670.6,1539.0 670.8,1540.5 671.1,1541.9 671.4,1543.8 671.7,1545.6 672.0,1547.4 672.3,1549.2 672.6,1550.9 672.9,1552.6 673.3,1554.3 673.6,1555.9 673.9,1557.5 674.2,1559.1 674.6,1560.5 674.9,1562.0 675.3,1563.4 675.7,1564.7 676.3,1566.5 676.9,1568.3 677.6,1570.1 678.2,1571.7 678.9,1573.0 679.6,1574.0 680.3,1574.6 681.4,1574.6 682.5,1573.8 682.8,1573.2 683.1,1572.4 683.3,1571.5 683.5,1570.4 683.7,1569.1 683.8,1567.7 684.0,1566.2 684.1,1564.5 684.1,1562.8 684.2,1561.0 684.2,1559.1 684.3,1557.1 684.3,1555.2 684.3,1553.2 684.4,1551.2 684.4,1549.2 684.5,1547.2 684.6,1545.3 684.7,1543.5 684.8,1541.7 684.9,1540.2 685.0,1538.7 685.2,1537.1 685.3,1535.5 685.4,1533.9 685.5,1532.3 685.7,1530.7 685.8,1529.1 685.9,1527.4 686.1,1525.8 686.2,1524.1 686.3,1522.4 686.5,1520.7 686.6,1519.0 686.7,1517.4 686.9,1515.7 687.0,1514.0 687.2,1512.4 687.3,1510.7 687.5,1509.0 687.6,1507.4 687.7,1505.8 687.9,1504.1 688.0,1502.5 688.2,1500.9 688.3,1499.3 688.5,1497.7 688.6,1496.2 688.8,1494.5 688.9,1492.8 689.1,1491.1 689.2,1489.4 689.4,1487.7 689.5,1486.0 689.7,1484.3 689.8,1482.7 690.0,1481.0 690.1,1479.4 690.3,1477.7 690.5,1476.1 690.6,1474.5 690.8,1472.8 690.9,1471.2 691.1,1469.6 691.3,1468.0 691.5,1466.3 691.6,1464.7 691.8,1463.0 692.0,1461.4 692.2,1459.7 692.4,1458.0 692.6,1456.4 692.8,1454.8 693.0,1453.2 693.2,1451.6 693.5,1450.0 693.7,1448.4 693.9,1446.9 694.2,1445.3 694.4,1443.8 694.7,1442.2 694.9,1440.7 695.2,1439.2 695.4,1437.6 695.7,1436.1 695.9,1434.5 696.1,1432.9 696.4,1431.3 696.6,1429.7 696.8,1428.1 697.0,1426.5 697.2,1424.9 697.4,1423.3 697.6,1421.7 697.8,1420.0 698.0,1418.5 698.1,1416.9 698.2,1415.3 698.4,1413.7 698.5,1412.2 698.6,1410.6 698.7,1409.0 698.8,1407.4 698.9,1405.8 698.9,1404.2 699.0,1402.7 699.1,1401.1 699.2,1399.5 699.2,1397.8 699.3,1396.2 699.4,1394.6 699.5,1393.0 699.6,1391.3 699.7,1389.7 699.8,1388.0 699.9,1386.4 700.0,1384.7 700.1,1383.0 700.3,1381.3 700.4,1379.6 700.6,1377.9 700.8,1376.4 700.9,1374.8 701.1,1373.2 701.3,1371.6 701.4,1370.0 701.6,1368.4 701.8,1366.7 702.0,1365.1 702.2,1363.5 702.4,1361.8 702.6,1360.1 702.8,1358.5 703.0,1356.8 703.2,1355.1 703.5,1353.4 703.7,1351.7 703.9,1350.0 704.1,1348.3 704.4,1346.7 704.6,1345.0 704.9,1343.3 705.1,1341.6 705.3,1339.9 705.6,1338.3 705.9,1336.6 706.1,1334.9 706.4,1333.2 706.6,1331.6 706.9,1329.9 707.2,1328.3 707.4,1326.6 707.7,1325.0 708.0,1323.5 708.3,1321.8 708.6,1320.1 708.9,1318.5 709.2,1316.8 709.6,1315.2 709.9,1313.6 710.2,1311.9 710.5,1310.3 710.9,1308.6 711.2,1307.0 711.6,1305.3 711.9,1303.6 712.3,1302.0 712.6,1300.4 713.0,1298.8 713.3,1297.2 713.7,1295.6 714.1,1294.0 714.4,1292.5 714.8,1290.9 715.2,1289.4 715.6,1287.8 716.0,1286.3 716.3,1284.8 716.7,1283.3 717.1,1281.8 717.5,1280.4 717.9,1279.0 718.4,1277.3 718.9,1275.6 719.3,1274.0 719.8,1272.3 720.3,1270.6 720.8,1268.9 721.3,1267.2 721.8,1265.5 722.3,1263.9 722.8,1262.3 723.3,1260.8 723.9,1259.3 724.4,1257.9 724.9,1256.4 725.5,1254.9 726.0,1253.4 726.6,1251.9 727.2,1250.6 727.8,1249.3 728.5,1247.7 729.3,1246.2 730.1,1244.6 730.9,1243.1 731.6,1241.7 732.5,1240.2 733.3,1238.8 734.1,1237.5 735.0,1236.2 735.9,1235.1 736.8,1234.0 737.7,1233.1 739.1,1232.0 740.5,1231.1 742.0,1230.5 743.5,1229.9 744.9,1229.6 746.4,1229.6 747.8,1229.8 749.3,1230.1 750.7,1230.8 752.2,1231.5 753.6,1232.2 755.0,1233.2 756.2,1234.1 757.3,1235.4 758.4,1236.8 759.6,1238.3 760.7,1239.8 761.8,1241.1 762.8,1242.3 763.9,1243.3 764.9,1244.2 766.2,1244.9 767.5,1245.4 768.7,1245.6 770.0,1245.8 771.3,1245.6 772.5,1245.2 773.8,1244.9 775.0,1245.1 776.0,1245.6 777.0,1246.4 778.0,1247.6 779.0,1248.9 780.0,1250.1 781.1,1250.8 782.4,1251.4 783.6,1252.1 784.8,1252.9 786.0,1253.9 787.0,1255.0 788.0,1256.0 788.9,1257.0 789.9,1258.0 790.9,1259.0 792.0,1259.7 793.5,1260.3 795.2,1260.6 797.0,1260.7 798.6,1261.1 800.0,1261.8 800.9,1262.8 801.7,1264.0 802.3,1265.4 802.8,1266.8 803.4,1268.3 804.0,1269.8 804.6,1271.4 805.2,1273.2 805.8,1275.0 806.4,1276.6 807.1,1278.0 808.0,1278.9 809.3,1278.9 810.9,1278.0 812.5,1277.2 814.0,1276.8 815.3,1277.1 816.6,1277.7 817.8,1278.2 819.0,1278.0 819.7,1277.4 820.4,1276.4 821.1,1275.2 821.7,1273.7 822.3,1272.0 822.9,1270.3 823.5,1268.5 824.1,1266.7 824.7,1265.0 825.3,1263.4 825.9,1262.0 826.7,1260.4 827.6,1259.0 828.4,1257.5 829.3,1256.2 830.2,1254.8 831.0,1253.4 831.9,1251.9 832.7,1250.3 833.6,1248.7 834.4,1247.2 835.2,1245.6 836.1,1244.2 836.9,1243.0 837.9,1241.9 839.0,1241.0 840.3,1240.2 841.5,1239.6 842.8,1238.9 843.9,1238.0 844.9,1236.9 845.7,1235.5 846.6,1233.9 847.4,1232.4 848.2,1230.9 849.1,1229.5 849.9,1228.1 850.8,1226.6 851.7,1225.1 852.6,1223.7 853.5,1222.3 854.4,1220.9 855.2,1219.4 855.9,1217.9 856.4,1216.4 856.9,1214.9 857.3,1213.3 857.6,1211.8 858.0,1210.3 858.4,1209.0 858.9,1207.9 859.9,1206.4 860.9,1205.3 861.9,1205.0 862.2,1205.2 862.4,1205.6 862.6,1206.1 862.8,1206.8 863.0,1207.6 863.1,1208.5 863.2,1209.6 863.4,1210.8 863.5,1212.1 863.5,1213.6 863.6,1215.1 863.7,1216.7 863.7,1218.4 863.8,1220.2 863.8,1222.1 863.8,1224.0 863.8,1226.0 863.8,1228.1 863.8,1230.2 863.8,1232.3 863.8,1234.4 863.8,1236.6 863.8,1238.8 863.8,1241.0 863.8,1243.2 863.8,1245.4 863.8,1247.6 863.8,1249.7 863.8,1251.8 863.8,1253.9 863.8,1256.0 863.9,1258.0 863.9,1259.9 863.9,1261.3 864.0,1262.8 864.0,1264.2 864.0,1265.7 864.1,1267.2 864.1,1268.7 864.1,1270.2 864.2,1271.8 864.2,1273.3 864.2,1274.9 864.3,1276.5 864.3,1278.2 864.3,1279.8 864.4,1281.4 864.4,1283.1 864.4,1284.8 864.4,1286.4 864.5,1288.1 864.5,1289.8 864.5,1291.5 864.6,1293.3 864.6,1295.0 864.6,1296.7 864.6,1298.5 864.7,1300.2 864.7,1302.0 864.7,1303.7 864.7,1305.5 864.8,1307.2 864.8,1309.0 864.8,1310.7 864.8,1312.5 864.9,1314.3 864.9,1316.0 864.9,1317.8 864.9,1319.5 864.9,1321.3 865.0,1323.0 865.0,1324.8 865.0,1326.5 865.0,1328.2 865.0,1329.9 865.1,1331.6 865.1,1333.3 865.1,1335.0 865.1,1336.7 865.1,1338.4 865.2,1340.0 865.2,1341.7 865.2,1343.3 865.2,1344.9 865.2,1346.5 865.3,1348.1 865.3,1349.7 865.3,1351.2 865.3,1352.8 865.3,1354.3 865.3,1355.8 865.4,1357.2 865.4,1358.7 865.4,1360.1 865.4,1362.0 865.4,1363.8 865.5,1365.6 865.5,1367.4 865.5,1369.2 865.5,1370.9 865.5,1372.7 865.5,1374.4 865.5,1376.1 865.5,1377.7 865.6,1379.4 865.6,1381.0 865.6,1382.7 865.6,1384.3 865.6,1385.9 865.6,1387.5 865.6,1389.1 865.6,1390.7 865.6,1392.3 865.6,1393.9 865.6,1395.4 865.6,1397.0 865.7,1398.6 865.7,1400.2 865.7,1401.7 865.7,1403.3 865.7,1404.9 865.7,1406.5 865.7,1408.1 865.8,1409.6 865.8,1411.2 865.8,1412.9 865.8,1414.5 865.9,1416.1 865.9,1417.7 865.9,1419.4 866.0,1421.1 866.0,1422.7 866.0,1424.4 866.1,1426.0 866.1,1427.7 866.2,1429.3 866.2,1431.0 866.3,1432.7 866.3,1434.3 866.4,1436.0 866.4,1437.6 866.5,1439.3 866.5,1441.0 866.6,1442.6 866.6,1444.3 866.7,1445.9 866.7,1447.6 866.8,1449.2 866.8,1450.9 866.9,1452.5 867.0,1454.2 867.0,1455.8 867.1,1457.5 867.1,1459.1 867.2,1460.7 867.2,1462.4 867.3,1464.0 867.4,1465.6 867.4,1467.3 867.5,1468.9 867.5,1470.5 867.6,1472.1 867.6,1473.7 867.7,1475.3 867.8,1477.1 867.8,1478.9 867.9,1480.8 867.9,1482.7 868.0,1484.8 868.1,1486.9 868.1,1489.0 868.2,1491.1 868.2,1493.3 868.3,1495.5 868.4,1497.7 868.4,1499.9 868.5,1502.1 868.6,1504.3 868.6,1506.4 868.7,1508.5 868.7,1510.5 868.8,1512.5 868.9,1514.4 868.9,1516.2 869.0,1517.9 869.1,1519.6 869.1,1521.1 869.2,1522.5 869.3,1523.8 869.3,1524.9 869.4,1525.9 869.4,1526.7 869.5,1527.4 869.6,1527.9 869.6,1528.2 869.7,1528.3 869.8,1528.2 869.8,1527.9 869.9,1527.4 870.0,1526.8 870.0,1525.9 870.1,1525.0 870.1,1523.8 870.2,1522.6 870.3,1521.2 870.3,1519.7 870.4,1518.1 870.5,1516.3 870.5,1514.5 870.6,1512.6 870.7,1510.7 870.7,1508.6 870.8,1506.6 870.9,1504.4 870.9,1502.3 871.0,1500.1 871.0,1497.9 871.1,1495.7 871.2,1493.5 871.2,1491.3 871.3,1489.1 871.3,1487.0 871.4,1484.9 871.5,1482.8 871.5,1480.9 871.6,1478.9 871.6,1477.1 871.7,1475.4 871.8,1473.7 871.8,1472.1 871.9,1470.5 871.9,1468.8 872.0,1467.2 872.0,1465.6 872.1,1463.9 872.1,1462.3 872.2,1460.6 872.2,1459.0 872.2,1457.3 872.3,1455.7 872.3,1454.0 872.4,1452.4 872.4,1450.7 872.5,1449.0 872.5,1447.4 872.6,1445.7 872.6,1444.0 872.7,1442.4 872.7,1440.7 872.7,1439.0 872.8,1437.4 872.8,1435.7 872.9,1434.0 872.9,1432.4 873.0,1430.7 873.0,1429.0 873.1,1427.4 873.1,1425.7 873.2,1424.1 873.2,1422.4 873.3,1420.7 873.3,1419.1 873.4,1417.4 873.5,1415.8 873.5,1414.1 873.6,1412.4 873.6,1410.7 873.7,1409.0 873.7,1407.3 873.8,1405.6 873.9,1403.9 873.9,1402.2 874.0,1400.5 874.0,1398.7 874.1,1397.0 874.2,1395.3 874.2,1393.5 874.3,1391.8 874.4,1390.1 874.4,1388.4 874.5,1386.7 874.6,1385.0 874.6,1383.3 874.7,1381.6 874.8,1380.0 874.8,1378.3 874.9,1376.7 875.0,1375.1 875.0,1373.5 875.1,1371.9 875.2,1370.3 875.2,1368.8 875.3,1367.3 875.4,1365.8 875.5,1364.3 875.5,1362.9 875.6,1361.4 875.7,1360.1 875.8,1358.2 875.9,1356.5 876.0,1354.8 876.1,1353.1 876.2,1351.4 876.3,1349.8 876.4,1348.2 876.5,1346.7 876.6,1345.1 876.7,1343.6 876.8,1342.1 876.9,1340.6 877.1,1339.0 877.2,1337.5 877.3,1336.0 877.4,1334.5 877.6,1332.9 877.7,1331.4 877.9,1329.8 878.1,1328.2 878.2,1326.6 878.4,1325.0 878.6,1323.4 878.7,1321.7 878.9,1320.1 879.1,1318.5 879.3,1317.0 879.5,1315.4 879.7,1313.8 879.9,1312.2 880.1,1310.7 880.3,1309.1 880.6,1307.6 880.8,1306.0 881.1,1304.5 881.3,1303.0 881.6,1301.5 881.9,1300.1 882.2,1298.4 882.6,1296.6 883.0,1294.9 883.3,1293.2 883.7,1291.4 884.1,1289.7 884.5,1287.9 884.9,1286.2 885.4,1284.6 885.8,1283.1 886.3,1281.7 886.8,1280.4 887.4,1279.2 887.9,1278.0 888.8,1276.3 889.7,1274.7 890.7,1273.3 891.7,1272.1 892.8,1271.0 893.9,1269.8 895.1,1268.6 896.5,1267.7 897.9,1266.9 899.3,1265.8 900.7,1264.9 901.9,1264.0 903.0,1262.7 904.0,1261.2 904.9,1259.7 905.8,1258.2 906.8,1256.9 907.9,1255.9 909.4,1255.3 911.0,1254.9 912.5,1254.5 913.9,1253.8 914.8,1252.7 915.6,1251.0 916.3,1249.1 917.0,1247.2 917.7,1245.5 918.3,1244.2 918.9,1243.7 919.7,1244.5 920.4,1246.3 921.1,1248.2 921.8,1249.0 922.8,1247.8 923.9,1245.7 924.8,1244.7 925.0,1244.9 925.2,1245.2 925.4,1245.7 925.5,1246.3 925.7,1247.1 925.8,1248.0 925.9,1249.1 926.0,1250.2 926.1,1251.5 926.1,1252.9 926.2,1254.4 926.2,1255.9 926.2,1257.6 926.2,1259.3 926.2,1261.2 926.2,1263.0 926.2,1265.0 926.2,1267.0 926.1,1269.0 926.1,1271.1 926.1,1273.1 926.0,1275.3 926.0,1277.4 926.0,1279.5 925.9,1281.7 925.9,1283.8 925.9,1285.9 925.8,1288.0 925.8,1290.1 925.8,1292.1 925.8,1294.1 925.8,1296.0 925.8,1297.9 925.8,1299.7 925.8,1301.3 925.8,1302.8 925.9,1304.4 925.9,1306.0 925.9,1307.7 925.9,1309.4 925.9,1311.2 925.9,1312.9 925.9,1314.7 925.9,1316.5 925.9,1318.4 925.9,1320.2 925.9,1322.1 925.9,1324.0 925.9,1325.9 925.9,1327.8 925.9,1329.8 925.9,1331.7 925.9,1333.6 926.0,1335.6 926.0,1337.5 926.0,1339.4 926.0,1341.4 926.0,1343.3 926.0,1345.2 926.0,1347.1 926.0,1349.0 926.0,1350.8 926.0,1352.7 926.0,1354.5 926.0,1356.3 926.0,1358.1 926.0,1359.8 926.0,1361.5 926.0,1363.2 926.1,1364.9 926.1,1366.5 926.1,1368.0 926.1,1369.5 926.1,1371.0 926.2,1372.5 926.2,1373.8 926.2,1375.2 926.3,1376.4 926.3,1377.7 926.3,1378.8 926.4,1379.9 926.4,1381.0 926.5,1381.9 926.5,1382.8 926.6,1385.0 926.8,1387.2 926.9,1389.1 927.1,1390.8 927.3,1392.2 927.4,1393.0 927.6,1393.4 927.7,1393.1 927.9,1392.4 928.0,1391.3 928.1,1389.8 928.2,1388.1 928.4,1386.1 928.5,1384.0 928.6,1381.8 928.7,1379.6 928.8,1377.4 928.9,1376.3 928.9,1375.0 928.9,1373.7 929.0,1372.4 929.0,1371.0 929.1,1369.5 929.1,1368.0 929.1,1366.5 929.1,1364.9 929.2,1363.3 929.2,1361.6 929.2,1360.0 929.2,1358.2 929.2,1356.5 929.3,1354.7 929.3,1353.0 929.3,1351.2 929.3,1349.4 929.3,1347.6 929.4,1345.7 929.4,1343.9 929.4,1342.1 929.4,1340.3 929.4,1338.5 929.5,1336.7 929.5,1334.9 929.5,1333.1 929.5,1331.4 929.6,1329.7 929.6,1328.0 929.6,1326.3 929.7,1324.7 929.7,1323.1 929.8,1321.5 929.8,1320.0 929.9,1318.3 929.9,1316.5 930.0,1314.8 930.0,1313.1 930.1,1311.4 930.1,1309.7 930.2,1308.0 930.2,1306.3 930.3,1304.7 930.4,1303.0 930.4,1301.4 930.5,1299.7 930.5,1298.1 930.6,1296.5 930.7,1294.9 930.8,1293.4 930.9,1291.8 931.0,1290.3 931.1,1288.8 931.2,1287.2 931.3,1285.8 931.4,1284.3 931.5,1282.8 931.7,1281.4 931.8,1280.0 932.0,1278.2 932.2,1276.3 932.4,1274.4 932.6,1272.5 932.8,1270.7 933.0,1268.8 933.2,1267.0 933.4,1265.3 933.7,1263.7 934.0,1262.1 934.3,1260.6 934.6,1259.2 935.0,1258.0 935.4,1256.8 935.8,1255.9 936.7,1254.6 937.8,1253.6 938.9,1252.8 939.8,1251.7 940.4,1250.4 940.8,1248.7 941.2,1246.8 941.6,1245.0 941.9,1243.4 942.3,1242.3 942.8,1241.9 943.7,1242.9 944.8,1244.8 945.8,1245.8 946.8,1245.2 947.8,1243.7 948.8,1241.8 949.2,1240.7 949.7,1239.2 950.1,1237.4 950.4,1235.4 950.8,1233.3 951.2,1231.2 951.5,1229.2 951.8,1227.4 952.2,1226.0 952.5,1225.1 952.8,1224.8 953.1,1225.2 953.4,1226.4 953.7,1228.1 954.0,1230.1 954.3,1232.3 954.6,1234.6 954.9,1236.6 955.2,1238.3 955.5,1239.4 955.8,1239.9 956.2,1239.6 956.7,1238.7 957.1,1237.4 957.6,1235.7 958.0,1233.9 958.4,1231.9 958.8,1230.1 959.0,1228.8 959.3,1227.2 959.5,1225.4 959.7,1223.5 959.8,1221.5 960.0,1219.4 960.2,1217.3 960.3,1215.2 960.5,1213.2 960.6,1211.3 960.8,1209.5 960.9,1208.0 961.0,1206.8 961.2,1205.8 961.3,1205.2 961.4,1204.9 961.5,1205.1 961.6,1205.6 961.7,1206.4 961.8,1207.4 961.9,1208.8 961.9,1210.3 962.0,1212.0 962.0,1213.8 962.1,1215.8 962.2,1217.9 962.2,1220.0 962.3,1222.2 962.3,1224.3 962.4,1226.5 962.5,1228.6 962.5,1230.6 962.6,1232.4 962.7,1234.2 962.8,1235.8 962.9,1237.6 963.1,1239.7 963.2,1241.8 963.3,1244.0 963.5,1246.1 963.6,1248.2 963.8,1250.2 963.9,1252.1 964.1,1253.7 964.3,1255.1 964.4,1256.1 964.6,1256.8 964.8,1257.0 965.0,1256.8 965.2,1256.1 965.4,1255.0 965.6,1253.6 965.9,1252.0 966.1,1250.1 966.4,1248.1 966.6,1245.9 966.8,1243.8 967.1,1241.6 967.3,1239.6 967.6,1237.7 967.8,1235.9" fill="none" stroke="#343434" stroke-width="3.0" stroke-linejoin="round" stroke-linecap="round"/>
</g>
<g stroke="#000" stroke-width="2.3" stroke-linecap="round">
<line x1="497.9" y1="131.5" x2="506.1" y2="123.5"/>
<line x1="507.9" y1="131.5" x2="516.1" y2="123.5"/>
<line x1="500.2" y1="646.8" x2="508.4" y2="638.8"/>
<line x1="510.2" y1="646.8" x2="518.4" y2="638.8"/>
<line x1="499.4" y1="1210.0" x2="507.6" y2="1202.0"/>
<line x1="509.2" y1="1210.2" x2="517.4" y2="1202.2"/>
</g>
<text x="68.75" y="59.00" font-size="33.5" font-style="italic" fill="#111" textLength="237.87" lengthAdjust="spacingAndGlyphs">Confuciusornis</text>
<text x="68.36" y="92.30" font-size="29.5" fill="#111" textLength="231.15" lengthAdjust="spacingAndGlyphs">c. 125 Ma, China</text>
<text x="69.73" y="587.80" font-size="33.5" font-style="italic" fill="#111" textLength="269.00" lengthAdjust="spacingAndGlyphs">Sinornithosaurus</text>
<text x="67.55" y="621.20" font-size="29.5" fill="#111" textLength="233.06" lengthAdjust="spacingAndGlyphs">c. 125 Ma, China</text>
<text x="67.51" y="1154.00" font-size="33" fill="#111" textLength="317.88" lengthAdjust="spacingAndGlyphs">Green River feather</text>
<text x="66.96" y="1188.00" font-size="29.5" fill="#111" textLength="198.64" lengthAdjust="spacingAndGlyphs">c. 50 Ma, USA</text>
<g stroke="#000" stroke-width="2.2" fill="none">
<line x1="47.5" y1="1" x2="47.5" y2="1721.1"/>
<polyline points="46.4,1720.3 499,1720.3"/>
<line x1="511" y1="1720.3" x2="1019.5" y2="1720.3"/>
<line x1="190.9" y1="1712.5" x2="190.9" y2="1720"/>
<line x1="338.6" y1="1712.5" x2="338.6" y2="1720"/>
<line x1="488.3" y1="1712.5" x2="488.3" y2="1720"/>
<line x1="516.4" y1="1712.5" x2="516.4" y2="1720"/>
<line x1="610.5" y1="1712.5" x2="610.5" y2="1720"/>
<line x1="760.3" y1="1712.5" x2="760.3" y2="1720"/>
<line x1="899.0" y1="1712.5" x2="899.0" y2="1720"/>
<line x1="494.7" y1="1727.4" x2="502.8" y2="1715.7"/>
<line x1="505.2" y1="1727.4" x2="512.8" y2="1715.7"/>
</g>
<text x="148.91" y="1758.30" font-size="34" fill="#000" textLength="82.27" lengthAdjust="spacingAndGlyphs">3600</text>
<text x="295.30" y="1758.30" font-size="34" fill="#000" textLength="83.10" lengthAdjust="spacingAndGlyphs">3200</text>
<text x="441.69" y="1758.30" font-size="34" fill="#000" textLength="83.73" lengthAdjust="spacingAndGlyphs">2800</text>
<text x="567.38" y="1758.30" font-size="34" fill="#000" textLength="83.63" lengthAdjust="spacingAndGlyphs">1600</text>
<text x="718.43" y="1758.30" font-size="34" fill="#000" textLength="82.46" lengthAdjust="spacingAndGlyphs">1200</text>
<text x="866.07" y="1758.30" font-size="34" fill="#000" textLength="63.88" lengthAdjust="spacingAndGlyphs">800</text>
<text x="990.21" y="1758.30" font-size="34" fill="#000" textLength="65.08" lengthAdjust="spacingAndGlyphs">500</text>
<text x="430.10" y="1814.10" font-size="32" fill="#000"><tspan textLength="227.58" lengthAdjust="spacingAndGlyphs">Wavelength (cm</tspan><tspan x="657.5" y="1806" font-size="19">-</tspan><tspan x="666.2" y="1804" font-size="20.5">1</tspan><tspan x="681" y="1814.1">)</tspan></text>
<text transform="translate(23.8,1012.7) rotate(-90)" font-size="33.3" fill="#000" textLength="266.5" lengthAdjust="spacingAndGlyphs">Absorbance (au)</text>
<rect x="75.6" y="1424.6" width="315.6" height="220.8" rx="13" ry="13" fill="#fff" stroke="#4a4a4a" stroke-width="1.4"/>
<text x="84.64" y="1458.90" font-size="31" fill="#111" textLength="109.10" lengthAdjust="spacingAndGlyphs">Legend</text>
<text x="124.71" y="1505.20" font-size="31" fill="#111" textLength="136.65" lengthAdjust="spacingAndGlyphs">Sediment</text>
<text x="124.23" y="1546.30" font-size="31" fill="#111" textLength="196.86" lengthAdjust="spacingAndGlyphs">Fossil feather</text>
<text x="126.20" y="1593.70" font-size="31" fill="#111" textLength="187.29" lengthAdjust="spacingAndGlyphs">Amide bands</text>
<text x="123.65" y="1631.10" font-size="31" fill="#111" textLength="257.19" lengthAdjust="spacingAndGlyphs">Non-amide bands</text>
<line x1="86.6" y1="1494.6" x2="115.5" y2="1494.6" stroke="#343434" stroke-width="3.4"/>
<line x1="86.6" y1="1536.8" x2="115.5" y2="1536.8" stroke="#8c8c8c" stroke-width="3.4"/>
<rect x="86.6" y="1567.8" width="28.9" height="25.9" fill="#f2e6d3"/>
<rect x="86.6" y="1607.4" width="28.9" height="23.7" fill="#eaedec"/>
</svg></body></html>
